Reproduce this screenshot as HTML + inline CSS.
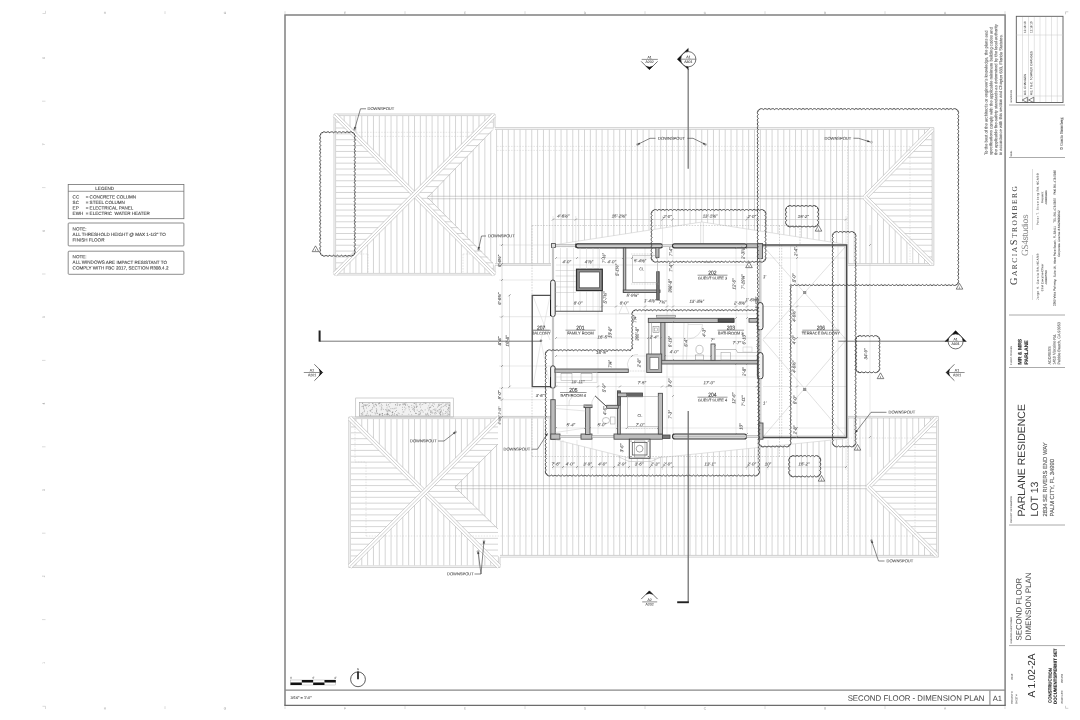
<!DOCTYPE html>
<html><head><meta charset="utf-8"><title>A 1.02-2A Second Floor Dimension Plan</title>
<style>html,body{margin:0;padding:0;background:#fff;}body{width:1080px;height:720px;overflow:hidden;font-family:"Liberation Sans",sans-serif;}svg{display:block;will-change:transform}</style>
</head><body>
<svg width="1080" height="720" viewBox="0 0 1080 720" font-family="Liberation Sans, sans-serif" text-rendering="geometricPrecision">
<rect width="1080" height="720" fill="#fff"/>
<g>
<line x1="165.00" y1="11.20" x2="165.00" y2="14.00" stroke="#c2c2c2" stroke-width="0.6" />
<line x1="165.00" y1="706.20" x2="165.00" y2="709.00" stroke="#c2c2c2" stroke-width="0.6" />
<line x1="285.00" y1="11.20" x2="285.00" y2="14.00" stroke="#c2c2c2" stroke-width="0.6" />
<line x1="285.00" y1="706.20" x2="285.00" y2="709.00" stroke="#c2c2c2" stroke-width="0.6" />
<line x1="405.00" y1="11.20" x2="405.00" y2="14.00" stroke="#c2c2c2" stroke-width="0.6" />
<line x1="405.00" y1="706.20" x2="405.00" y2="709.00" stroke="#c2c2c2" stroke-width="0.6" />
<line x1="525.00" y1="11.20" x2="525.00" y2="14.00" stroke="#c2c2c2" stroke-width="0.6" />
<line x1="525.00" y1="706.20" x2="525.00" y2="709.00" stroke="#c2c2c2" stroke-width="0.6" />
<line x1="645.00" y1="11.20" x2="645.00" y2="14.00" stroke="#c2c2c2" stroke-width="0.6" />
<line x1="645.00" y1="706.20" x2="645.00" y2="709.00" stroke="#c2c2c2" stroke-width="0.6" />
<line x1="765.00" y1="11.20" x2="765.00" y2="14.00" stroke="#c2c2c2" stroke-width="0.6" />
<line x1="765.00" y1="706.20" x2="765.00" y2="709.00" stroke="#c2c2c2" stroke-width="0.6" />
<line x1="885.00" y1="11.20" x2="885.00" y2="14.00" stroke="#c2c2c2" stroke-width="0.6" />
<line x1="885.00" y1="706.20" x2="885.00" y2="709.00" stroke="#c2c2c2" stroke-width="0.6" />
<line x1="1005.00" y1="11.20" x2="1005.00" y2="14.00" stroke="#c2c2c2" stroke-width="0.6" />
<line x1="1005.00" y1="706.20" x2="1005.00" y2="709.00" stroke="#c2c2c2" stroke-width="0.6" />
<text x="105.00" y="14.00" font-size="3.2" text-anchor="middle" fill="#b0b0b0" stroke="#b0b0b0" stroke-width="0.077" transform="rotate(0.06 105.00 14.00)" >H</text>
<text x="105.00" y="709.60" font-size="3.2" text-anchor="middle" fill="#b0b0b0" stroke="#b0b0b0" stroke-width="0.077" transform="rotate(0.06 105.00 709.60)" >H</text>
<text x="225.00" y="14.00" font-size="3.2" text-anchor="middle" fill="#b0b0b0" stroke="#b0b0b0" stroke-width="0.077" transform="rotate(0.06 225.00 14.00)" >G</text>
<text x="225.00" y="709.60" font-size="3.2" text-anchor="middle" fill="#b0b0b0" stroke="#b0b0b0" stroke-width="0.077" transform="rotate(0.06 225.00 709.60)" >G</text>
<text x="345.00" y="14.00" font-size="3.2" text-anchor="middle" fill="#b0b0b0" stroke="#b0b0b0" stroke-width="0.077" transform="rotate(0.06 345.00 14.00)" >F</text>
<text x="345.00" y="709.60" font-size="3.2" text-anchor="middle" fill="#b0b0b0" stroke="#b0b0b0" stroke-width="0.077" transform="rotate(0.06 345.00 709.60)" >F</text>
<text x="465.00" y="14.00" font-size="3.2" text-anchor="middle" fill="#b0b0b0" stroke="#b0b0b0" stroke-width="0.077" transform="rotate(0.06 465.00 14.00)" >E</text>
<text x="465.00" y="709.60" font-size="3.2" text-anchor="middle" fill="#b0b0b0" stroke="#b0b0b0" stroke-width="0.077" transform="rotate(0.06 465.00 709.60)" >E</text>
<text x="585.00" y="14.00" font-size="3.2" text-anchor="middle" fill="#b0b0b0" stroke="#b0b0b0" stroke-width="0.077" transform="rotate(0.06 585.00 14.00)" >D</text>
<text x="585.00" y="709.60" font-size="3.2" text-anchor="middle" fill="#b0b0b0" stroke="#b0b0b0" stroke-width="0.077" transform="rotate(0.06 585.00 709.60)" >D</text>
<text x="705.00" y="14.00" font-size="3.2" text-anchor="middle" fill="#b0b0b0" stroke="#b0b0b0" stroke-width="0.077" transform="rotate(0.06 705.00 14.00)" >C</text>
<text x="705.00" y="709.60" font-size="3.2" text-anchor="middle" fill="#b0b0b0" stroke="#b0b0b0" stroke-width="0.077" transform="rotate(0.06 705.00 709.60)" >C</text>
<text x="825.00" y="14.00" font-size="3.2" text-anchor="middle" fill="#b0b0b0" stroke="#b0b0b0" stroke-width="0.077" transform="rotate(0.06 825.00 14.00)" >B</text>
<text x="825.00" y="709.60" font-size="3.2" text-anchor="middle" fill="#b0b0b0" stroke="#b0b0b0" stroke-width="0.077" transform="rotate(0.06 825.00 709.60)" >B</text>
<text x="945.00" y="14.00" font-size="3.2" text-anchor="middle" fill="#b0b0b0" stroke="#b0b0b0" stroke-width="0.077" transform="rotate(0.06 945.00 14.00)" >A</text>
<text x="945.00" y="709.60" font-size="3.2" text-anchor="middle" fill="#b0b0b0" stroke="#b0b0b0" stroke-width="0.077" transform="rotate(0.06 945.00 709.60)" >A</text>
<line x1="42.00" y1="101.20" x2="45.50" y2="101.20" stroke="#c2c2c2" stroke-width="0.6" />
<line x1="42.00" y1="187.60" x2="45.50" y2="187.60" stroke="#c2c2c2" stroke-width="0.6" />
<line x1="42.00" y1="274.00" x2="45.50" y2="274.00" stroke="#c2c2c2" stroke-width="0.6" />
<line x1="42.00" y1="360.40" x2="45.50" y2="360.40" stroke="#c2c2c2" stroke-width="0.6" />
<line x1="42.00" y1="446.80" x2="45.50" y2="446.80" stroke="#c2c2c2" stroke-width="0.6" />
<line x1="42.00" y1="533.20" x2="45.50" y2="533.20" stroke="#c2c2c2" stroke-width="0.6" />
<line x1="42.00" y1="619.60" x2="45.50" y2="619.60" stroke="#c2c2c2" stroke-width="0.6" />
<text x="44.80" y="58.00" font-size="3.2" text-anchor="middle" fill="#b0b0b0" stroke="#b0b0b0" stroke-width="0.077" transform="rotate(-89.94 44.80 58.00)" >8</text>
<text x="44.80" y="144.40" font-size="3.2" text-anchor="middle" fill="#b0b0b0" stroke="#b0b0b0" stroke-width="0.077" transform="rotate(-89.94 44.80 144.40)" >7</text>
<text x="44.80" y="230.80" font-size="3.2" text-anchor="middle" fill="#b0b0b0" stroke="#b0b0b0" stroke-width="0.077" transform="rotate(-89.94 44.80 230.80)" >6</text>
<text x="44.80" y="317.20" font-size="3.2" text-anchor="middle" fill="#b0b0b0" stroke="#b0b0b0" stroke-width="0.077" transform="rotate(-89.94 44.80 317.20)" >5</text>
<text x="44.80" y="403.60" font-size="3.2" text-anchor="middle" fill="#b0b0b0" stroke="#b0b0b0" stroke-width="0.077" transform="rotate(-89.94 44.80 403.60)" >4</text>
<text x="44.80" y="490.00" font-size="3.2" text-anchor="middle" fill="#b0b0b0" stroke="#b0b0b0" stroke-width="0.077" transform="rotate(-89.94 44.80 490.00)" >3</text>
<text x="44.80" y="576.40" font-size="3.2" text-anchor="middle" fill="#b0b0b0" stroke="#b0b0b0" stroke-width="0.077" transform="rotate(-89.94 44.80 576.40)" >2</text>
<text x="44.80" y="662.80" font-size="3.2" text-anchor="middle" fill="#b0b0b0" stroke="#b0b0b0" stroke-width="0.077" transform="rotate(-89.94 44.80 662.80)" >1</text>
<path d="M42.50,13.50 L45.50,13.50 L45.50,10.80" fill="none" stroke="#c2c2c2" stroke-width="0.6" />
<path d="M42.50,706.30 L45.50,706.30 L45.50,709.00" fill="none" stroke="#c2c2c2" stroke-width="0.6" />
<path d="M1068.30,11.80 L1065.50,11.80 L1065.50,14.30" fill="none" stroke="#b0b0b0" stroke-width="0.6" />
<path d="M1068.30,708.30 L1065.50,708.30 L1065.50,705.80" fill="none" stroke="#b0b0b0" stroke-width="0.6" />
<clipPath id="c1"><path d="M336.00,116.00 L493.00,116.00 L414.50,196.30 Z"/></clipPath>
<path clip-path="url(#c1)" d="M338.30,116.00V196.30M344.17,116.00V196.30M350.03,116.00V196.30M355.89,116.00V196.30M361.75,116.00V196.30M367.61,116.00V196.30M373.48,116.00V196.30M379.34,116.00V196.30M385.20,116.00V196.30M391.06,116.00V196.30M396.92,116.00V196.30M402.79,116.00V196.30M408.65,116.00V196.30M414.51,116.00V196.30M420.37,116.00V196.30M426.23,116.00V196.30M432.10,116.00V196.30M437.96,116.00V196.30M443.82,116.00V196.30M449.68,116.00V196.30M455.54,116.00V196.30M461.41,116.00V196.30M467.27,116.00V196.30M473.13,116.00V196.30M478.99,116.00V196.30M484.85,116.00V196.30M490.72,116.00V196.30" stroke="#adadad" stroke-width="0.52" fill="none"/>
<clipPath id="c2"><path d="M336.00,273.00 L493.00,273.00 L414.50,196.30 Z"/></clipPath>
<path clip-path="url(#c2)" d="M338.30,196.30V273.00M344.17,196.30V273.00M350.03,196.30V273.00M355.89,196.30V273.00M361.75,196.30V273.00M367.61,196.30V273.00M373.48,196.30V273.00M379.34,196.30V273.00M385.20,196.30V273.00M391.06,196.30V273.00M396.92,196.30V273.00M402.79,196.30V273.00M408.65,196.30V273.00M414.51,196.30V273.00M420.37,196.30V273.00M426.23,196.30V273.00M432.10,196.30V273.00M437.96,196.30V273.00M443.82,196.30V273.00M449.68,196.30V273.00M455.54,196.30V273.00M461.41,196.30V273.00M467.27,196.30V273.00M473.13,196.30V273.00M478.99,196.30V273.00M484.85,196.30V273.00M490.72,196.30V273.00" stroke="#adadad" stroke-width="0.52" fill="none"/>
<clipPath id="c3"><path d="M336.00,116.00 L336.00,273.00 L414.50,196.30 Z"/></clipPath>
<path clip-path="url(#c3)" d="M336.00,116.27H414.50M336.00,122.13H414.50M336.00,127.99H414.50M336.00,133.85H414.50M336.00,139.72H414.50M336.00,145.58H414.50M336.00,151.44H414.50M336.00,157.30H414.50M336.00,163.16H414.50M336.00,169.03H414.50M336.00,174.89H414.50M336.00,180.75H414.50M336.00,186.61H414.50M336.00,192.47H414.50M336.00,198.34H414.50M336.00,204.20H414.50M336.00,210.06H414.50M336.00,215.92H414.50M336.00,221.78H414.50M336.00,227.65H414.50M336.00,233.51H414.50M336.00,239.37H414.50M336.00,245.23H414.50M336.00,251.09H414.50M336.00,256.96H414.50M336.00,262.82H414.50M336.00,268.68H414.50" stroke="#adadad" stroke-width="0.52" fill="none"/>
<clipPath id="c4"><path d="M414.50,196.30 L493.00,116.00 L493.00,130.00 L427.50,197.50 L493.00,262.00 L493.00,273.00 Z"/></clipPath>
<path clip-path="url(#c4)" d="M414.50,116.27H493.00M414.50,122.13H493.00M414.50,127.99H493.00M414.50,133.85H493.00M414.50,139.72H493.00M414.50,145.58H493.00M414.50,151.44H493.00M414.50,157.30H493.00M414.50,163.16H493.00M414.50,169.03H493.00M414.50,174.89H493.00M414.50,180.75H493.00M414.50,186.61H493.00M414.50,192.47H493.00M414.50,198.34H493.00M414.50,204.20H493.00M414.50,210.06H493.00M414.50,215.92H493.00M414.50,221.78H493.00M414.50,227.65H493.00M414.50,233.51H493.00M414.50,239.37H493.00M414.50,245.23H493.00M414.50,251.09H493.00M414.50,256.96H493.00M414.50,262.82H493.00M414.50,268.68H493.00" stroke="#adadad" stroke-width="0.52" fill="none"/>
<clipPath id="c5"><path d="M493.00,129.50 L932.00,129.50 L865.00,197.50 L427.50,197.50 Z"/></clipPath>
<path clip-path="url(#c5)" d="M432.10,129.50V197.50M437.96,129.50V197.50M443.82,129.50V197.50M449.68,129.50V197.50M455.54,129.50V197.50M461.41,129.50V197.50M467.27,129.50V197.50M473.13,129.50V197.50M478.99,129.50V197.50M484.85,129.50V197.50M490.72,129.50V197.50M496.58,129.50V197.50M502.44,129.50V197.50M508.30,129.50V197.50M514.16,129.50V197.50M520.03,129.50V197.50M525.89,129.50V197.50M531.75,129.50V197.50M537.61,129.50V197.50M543.47,129.50V197.50M549.34,129.50V197.50M555.20,129.50V197.50M561.06,129.50V197.50M566.92,129.50V197.50M572.78,129.50V197.50M578.65,129.50V197.50M584.51,129.50V197.50M590.37,129.50V197.50M596.23,129.50V197.50M602.09,129.50V197.50M607.96,129.50V197.50M613.82,129.50V197.50M619.68,129.50V197.50M625.54,129.50V197.50M631.40,129.50V197.50M637.27,129.50V197.50M643.13,129.50V197.50M648.99,129.50V197.50M654.85,129.50V197.50M660.71,129.50V197.50M666.58,129.50V197.50M672.44,129.50V197.50M678.30,129.50V197.50M684.16,129.50V197.50M690.02,129.50V197.50M695.89,129.50V197.50M701.75,129.50V197.50M707.61,129.50V197.50M713.47,129.50V197.50M719.33,129.50V197.50M725.20,129.50V197.50M731.06,129.50V197.50M736.92,129.50V197.50M742.78,129.50V197.50M748.64,129.50V197.50M754.51,129.50V197.50M760.37,129.50V197.50M766.23,129.50V197.50M772.09,129.50V197.50M777.95,129.50V197.50M783.82,129.50V197.50M789.68,129.50V197.50M795.54,129.50V197.50M801.40,129.50V197.50M807.26,129.50V197.50M813.13,129.50V197.50M818.99,129.50V197.50M824.85,129.50V197.50M830.71,129.50V197.50M836.57,129.50V197.50M842.44,129.50V197.50M848.30,129.50V197.50M854.16,129.50V197.50M860.02,129.50V197.50M865.88,129.50V197.50M871.75,129.50V197.50M877.61,129.50V197.50M883.47,129.50V197.50M889.33,129.50V197.50M895.19,129.50V197.50M901.06,129.50V197.50M906.92,129.50V197.50M912.78,129.50V197.50M918.64,129.50V197.50M924.50,129.50V197.50M930.37,129.50V197.50" stroke="#adadad" stroke-width="0.52" fill="none"/>
<clipPath id="c6"><path d="M427.50,197.50 L865.00,197.50 L932.00,263.50 L848.00,263.50 L848.00,244.50 L846.70,244.50 L702.00,222.00 L553.00,245.00 L551.00,245.00 L551.00,263.50 L493.00,263.50 Z"/></clipPath>
<path clip-path="url(#c6)" d="M432.10,197.50V263.50M437.96,197.50V263.50M443.82,197.50V263.50M449.68,197.50V263.50M455.54,197.50V263.50M461.41,197.50V263.50M467.27,197.50V263.50M473.13,197.50V263.50M478.99,197.50V263.50M484.85,197.50V263.50M490.72,197.50V263.50M496.58,197.50V263.50M502.44,197.50V263.50M508.30,197.50V263.50M514.16,197.50V263.50M520.03,197.50V263.50M525.89,197.50V263.50M531.75,197.50V263.50M537.61,197.50V263.50M543.47,197.50V263.50M549.34,197.50V263.50M555.20,197.50V263.50M561.06,197.50V263.50M566.92,197.50V263.50M572.78,197.50V263.50M578.65,197.50V263.50M584.51,197.50V263.50M590.37,197.50V263.50M596.23,197.50V263.50M602.09,197.50V263.50M607.96,197.50V263.50M613.82,197.50V263.50M619.68,197.50V263.50M625.54,197.50V263.50M631.40,197.50V263.50M637.27,197.50V263.50M643.13,197.50V263.50M648.99,197.50V263.50M654.85,197.50V263.50M660.71,197.50V263.50M666.58,197.50V263.50M672.44,197.50V263.50M678.30,197.50V263.50M684.16,197.50V263.50M690.02,197.50V263.50M695.89,197.50V263.50M701.75,197.50V263.50M707.61,197.50V263.50M713.47,197.50V263.50M719.33,197.50V263.50M725.20,197.50V263.50M731.06,197.50V263.50M736.92,197.50V263.50M742.78,197.50V263.50M748.64,197.50V263.50M754.51,197.50V263.50M760.37,197.50V263.50M766.23,197.50V263.50M772.09,197.50V263.50M777.95,197.50V263.50M783.82,197.50V263.50M789.68,197.50V263.50M795.54,197.50V263.50M801.40,197.50V263.50M807.26,197.50V263.50M813.13,197.50V263.50M818.99,197.50V263.50M824.85,197.50V263.50M830.71,197.50V263.50M836.57,197.50V263.50M842.44,197.50V263.50M848.30,197.50V263.50M854.16,197.50V263.50M860.02,197.50V263.50M865.88,197.50V263.50M871.75,197.50V263.50M877.61,197.50V263.50M883.47,197.50V263.50M889.33,197.50V263.50M895.19,197.50V263.50M901.06,197.50V263.50M906.92,197.50V263.50M912.78,197.50V263.50M918.64,197.50V263.50M924.50,197.50V263.50M930.37,197.50V263.50" stroke="#adadad" stroke-width="0.52" fill="none"/>
<clipPath id="c7"><path d="M865.00,197.50 L932.00,129.50 L932.00,263.50 Z"/></clipPath>
<path clip-path="url(#c7)" d="M865.00,133.85H932.00M865.00,139.72H932.00M865.00,145.58H932.00M865.00,151.44H932.00M865.00,157.30H932.00M865.00,163.16H932.00M865.00,169.03H932.00M865.00,174.89H932.00M865.00,180.75H932.00M865.00,186.61H932.00M865.00,192.47H932.00M865.00,198.34H932.00M865.00,204.20H932.00M865.00,210.06H932.00M865.00,215.92H932.00M865.00,221.78H932.00M865.00,227.65H932.00M865.00,233.51H932.00M865.00,239.37H932.00M865.00,245.23H932.00M865.00,251.09H932.00M865.00,256.96H932.00M865.00,262.82H932.00" stroke="#adadad" stroke-width="0.52" fill="none"/>
<path d="M495.00,127.50 L495.00,114.00 L334.00,114.00 L334.00,275.00 L495.00,275.00 L495.00,265.50" fill="none" stroke="#adadad" stroke-width="0.56" />
<path d="M335.60,115.60 L493.40,115.60 L493.40,128.50" fill="none" stroke="#adadad" stroke-width="0.5" />
<path d="M493.40,264.50 L493.40,273.40 L335.60,273.40 L335.60,115.60" fill="none" stroke="#adadad" stroke-width="0.5" />
<line x1="335.00" y1="115.00" x2="494.00" y2="274.00" stroke="#fff" stroke-width="4.8" />
<line x1="333.30" y1="116.70" x2="492.30" y2="275.70" stroke="#adadad" stroke-width="0.56" />
<line x1="336.70" y1="113.30" x2="495.70" y2="272.30" stroke="#adadad" stroke-width="0.56" />
<line x1="335.00" y1="115.00" x2="494.00" y2="274.00" stroke="#adadad" stroke-width="0.56" />
<line x1="335.00" y1="274.00" x2="494.00" y2="115.00" stroke="#fff" stroke-width="4.8" />
<line x1="336.70" y1="275.70" x2="495.70" y2="116.70" stroke="#adadad" stroke-width="0.56" />
<line x1="333.30" y1="272.30" x2="492.30" y2="113.30" stroke="#adadad" stroke-width="0.56" />
<line x1="335.00" y1="274.00" x2="494.00" y2="115.00" stroke="#adadad" stroke-width="0.56" />
<line x1="493.00" y1="129.50" x2="427.50" y2="197.50" stroke="#adadad" stroke-width="0.56" />
<line x1="493.00" y1="263.50" x2="427.50" y2="197.50" stroke="#adadad" stroke-width="0.56" />
<line x1="495.00" y1="127.65" x2="933.85" y2="127.65" stroke="#adadad" stroke-width="0.56" />
<line x1="495.00" y1="129.35" x2="932.15" y2="129.35" stroke="#adadad" stroke-width="0.56" />
<line x1="933.85" y1="127.65" x2="933.85" y2="265.35" stroke="#adadad" stroke-width="0.56" />
<line x1="932.15" y1="129.35" x2="932.15" y2="263.65" stroke="#adadad" stroke-width="0.56" />
<line x1="848.00" y1="265.35" x2="933.85" y2="265.35" stroke="#adadad" stroke-width="0.56" />
<line x1="848.00" y1="263.65" x2="932.15" y2="263.65" stroke="#adadad" stroke-width="0.56" />
<line x1="495.00" y1="265.35" x2="551.00" y2="265.35" stroke="#adadad" stroke-width="0.56" />
<line x1="495.00" y1="263.65" x2="551.00" y2="263.65" stroke="#adadad" stroke-width="0.56" />
<line x1="427.50" y1="198.75" x2="865.00" y2="198.75" stroke="#adadad" stroke-width="0.56" />
<line x1="427.50" y1="196.25" x2="865.00" y2="196.25" stroke="#adadad" stroke-width="0.56" />
<line x1="865.00" y1="197.50" x2="932.00" y2="129.50" stroke="#fff" stroke-width="4.8" />
<line x1="866.71" y1="199.18" x2="933.71" y2="131.18" stroke="#adadad" stroke-width="0.56" />
<line x1="863.29" y1="195.82" x2="930.29" y2="127.82" stroke="#adadad" stroke-width="0.56" />
<line x1="865.00" y1="197.50" x2="932.00" y2="129.50" stroke="#adadad" stroke-width="0.56" />
<line x1="865.00" y1="197.50" x2="932.00" y2="263.50" stroke="#fff" stroke-width="4.8" />
<line x1="863.32" y1="199.21" x2="930.32" y2="265.21" stroke="#adadad" stroke-width="0.56" />
<line x1="866.68" y1="195.79" x2="933.68" y2="261.79" stroke="#adadad" stroke-width="0.56" />
<line x1="865.00" y1="197.50" x2="932.00" y2="263.50" stroke="#adadad" stroke-width="0.56" />
<clipPath id="c8"><path d="M350.75,419.00 L498.00,419.00 L424.00,492.00 Z"/></clipPath>
<path clip-path="url(#c8)" d="M355.89,419.00V492.00M361.75,419.00V492.00M367.61,419.00V492.00M373.48,419.00V492.00M379.34,419.00V492.00M385.20,419.00V492.00M391.06,419.00V492.00M396.92,419.00V492.00M402.79,419.00V492.00M408.65,419.00V492.00M414.51,419.00V492.00M420.37,419.00V492.00M426.23,419.00V492.00M432.10,419.00V492.00M437.96,419.00V492.00M443.82,419.00V492.00M449.68,419.00V492.00M455.54,419.00V492.00M461.41,419.00V492.00M467.27,419.00V492.00M473.13,419.00V492.00M478.99,419.00V492.00M484.85,419.00V492.00M490.72,419.00V492.00M496.58,419.00V492.00" stroke="#adadad" stroke-width="0.52" fill="none"/>
<clipPath id="c9"><path d="M350.75,565.50 L498.00,565.50 L424.00,492.00 Z"/></clipPath>
<path clip-path="url(#c9)" d="M355.89,492.00V565.50M361.75,492.00V565.50M367.61,492.00V565.50M373.48,492.00V565.50M379.34,492.00V565.50M385.20,492.00V565.50M391.06,492.00V565.50M396.92,492.00V565.50M402.79,492.00V565.50M408.65,492.00V565.50M414.51,492.00V565.50M420.37,492.00V565.50M426.23,492.00V565.50M432.10,492.00V565.50M437.96,492.00V565.50M443.82,492.00V565.50M449.68,492.00V565.50M455.54,492.00V565.50M461.41,492.00V565.50M467.27,492.00V565.50M473.13,492.00V565.50M478.99,492.00V565.50M484.85,492.00V565.50M490.72,492.00V565.50M496.58,492.00V565.50" stroke="#adadad" stroke-width="0.52" fill="none"/>
<clipPath id="c10"><path d="M350.75,419.00 L350.75,565.50 L424.00,492.00 Z"/></clipPath>
<path clip-path="url(#c10)" d="M350.75,421.09H424.00M350.75,426.95H424.00M350.75,432.82H424.00M350.75,438.68H424.00M350.75,444.54H424.00M350.75,450.40H424.00M350.75,456.26H424.00M350.75,462.13H424.00M350.75,467.99H424.00M350.75,473.85H424.00M350.75,479.71H424.00M350.75,485.57H424.00M350.75,491.44H424.00M350.75,497.30H424.00M350.75,503.16H424.00M350.75,509.02H424.00M350.75,514.88H424.00M350.75,520.75H424.00M350.75,526.61H424.00M350.75,532.47H424.00M350.75,538.33H424.00M350.75,544.19H424.00M350.75,550.06H424.00M350.75,555.92H424.00M350.75,561.78H424.00" stroke="#adadad" stroke-width="0.52" fill="none"/>
<clipPath id="c11"><path d="M424.00,492.00 L498.00,419.00 L498.00,444.00 L455.00,487.20 L498.00,529.00 L498.00,565.50 Z"/></clipPath>
<path clip-path="url(#c11)" d="M424.00,421.09H498.00M424.00,426.95H498.00M424.00,432.82H498.00M424.00,438.68H498.00M424.00,444.54H498.00M424.00,450.40H498.00M424.00,456.26H498.00M424.00,462.13H498.00M424.00,467.99H498.00M424.00,473.85H498.00M424.00,479.71H498.00M424.00,485.57H498.00M424.00,491.44H498.00M424.00,497.30H498.00M424.00,503.16H498.00M424.00,509.02H498.00M424.00,514.88H498.00M424.00,520.75H498.00M424.00,526.61H498.00M424.00,532.47H498.00M424.00,538.33H498.00M424.00,544.19H498.00M424.00,550.06H498.00M424.00,555.92H498.00M424.00,561.78H498.00" stroke="#adadad" stroke-width="0.52" fill="none"/>
<clipPath id="c12"><path d="M498.00,418.50 L551.00,418.50 L551.00,439.00 L553.00,439.00 L629.00,458.00 L651.00,458.50 L846.70,438.50 L848.00,438.50 L848.00,418.00 L936.50,418.00 L868.00,487.20 L455.00,487.20 L498.00,444.00 Z"/></clipPath>
<path clip-path="url(#c12)" d="M455.54,418.00V487.20M461.41,418.00V487.20M467.27,418.00V487.20M473.13,418.00V487.20M478.99,418.00V487.20M484.85,418.00V487.20M490.72,418.00V487.20M496.58,418.00V487.20M502.44,418.00V487.20M508.30,418.00V487.20M514.16,418.00V487.20M520.03,418.00V487.20M525.89,418.00V487.20M531.75,418.00V487.20M537.61,418.00V487.20M543.47,418.00V487.20M549.34,418.00V487.20M555.20,418.00V487.20M561.06,418.00V487.20M566.92,418.00V487.20M572.78,418.00V487.20M578.65,418.00V487.20M584.51,418.00V487.20M590.37,418.00V487.20M596.23,418.00V487.20M602.09,418.00V487.20M607.96,418.00V487.20M613.82,418.00V487.20M619.68,418.00V487.20M625.54,418.00V487.20M631.40,418.00V487.20M637.27,418.00V487.20M643.13,418.00V487.20M648.99,418.00V487.20M654.85,418.00V487.20M660.71,418.00V487.20M666.58,418.00V487.20M672.44,418.00V487.20M678.30,418.00V487.20M684.16,418.00V487.20M690.02,418.00V487.20M695.89,418.00V487.20M701.75,418.00V487.20M707.61,418.00V487.20M713.47,418.00V487.20M719.33,418.00V487.20M725.20,418.00V487.20M731.06,418.00V487.20M736.92,418.00V487.20M742.78,418.00V487.20M748.64,418.00V487.20M754.51,418.00V487.20M760.37,418.00V487.20M766.23,418.00V487.20M772.09,418.00V487.20M777.95,418.00V487.20M783.82,418.00V487.20M789.68,418.00V487.20M795.54,418.00V487.20M801.40,418.00V487.20M807.26,418.00V487.20M813.13,418.00V487.20M818.99,418.00V487.20M824.85,418.00V487.20M830.71,418.00V487.20M836.57,418.00V487.20M842.44,418.00V487.20M848.30,418.00V487.20M854.16,418.00V487.20M860.02,418.00V487.20M865.88,418.00V487.20M871.75,418.00V487.20M877.61,418.00V487.20M883.47,418.00V487.20M889.33,418.00V487.20M895.19,418.00V487.20M901.06,418.00V487.20M906.92,418.00V487.20M912.78,418.00V487.20M918.64,418.00V487.20M924.50,418.00V487.20M930.37,418.00V487.20M936.23,418.00V487.20" stroke="#adadad" stroke-width="0.52" fill="none"/>
<clipPath id="c13"><path d="M455.00,487.20 L868.00,487.20 L936.50,555.25 L498.00,555.25 L498.00,529.00 Z"/></clipPath>
<path clip-path="url(#c13)" d="M455.54,487.20V555.25M461.41,487.20V555.25M467.27,487.20V555.25M473.13,487.20V555.25M478.99,487.20V555.25M484.85,487.20V555.25M490.72,487.20V555.25M496.58,487.20V555.25M502.44,487.20V555.25M508.30,487.20V555.25M514.16,487.20V555.25M520.03,487.20V555.25M525.89,487.20V555.25M531.75,487.20V555.25M537.61,487.20V555.25M543.47,487.20V555.25M549.34,487.20V555.25M555.20,487.20V555.25M561.06,487.20V555.25M566.92,487.20V555.25M572.78,487.20V555.25M578.65,487.20V555.25M584.51,487.20V555.25M590.37,487.20V555.25M596.23,487.20V555.25M602.09,487.20V555.25M607.96,487.20V555.25M613.82,487.20V555.25M619.68,487.20V555.25M625.54,487.20V555.25M631.40,487.20V555.25M637.27,487.20V555.25M643.13,487.20V555.25M648.99,487.20V555.25M654.85,487.20V555.25M660.71,487.20V555.25M666.58,487.20V555.25M672.44,487.20V555.25M678.30,487.20V555.25M684.16,487.20V555.25M690.02,487.20V555.25M695.89,487.20V555.25M701.75,487.20V555.25M707.61,487.20V555.25M713.47,487.20V555.25M719.33,487.20V555.25M725.20,487.20V555.25M731.06,487.20V555.25M736.92,487.20V555.25M742.78,487.20V555.25M748.64,487.20V555.25M754.51,487.20V555.25M760.37,487.20V555.25M766.23,487.20V555.25M772.09,487.20V555.25M777.95,487.20V555.25M783.82,487.20V555.25M789.68,487.20V555.25M795.54,487.20V555.25M801.40,487.20V555.25M807.26,487.20V555.25M813.13,487.20V555.25M818.99,487.20V555.25M824.85,487.20V555.25M830.71,487.20V555.25M836.57,487.20V555.25M842.44,487.20V555.25M848.30,487.20V555.25M854.16,487.20V555.25M860.02,487.20V555.25M865.88,487.20V555.25M871.75,487.20V555.25M877.61,487.20V555.25M883.47,487.20V555.25M889.33,487.20V555.25M895.19,487.20V555.25M901.06,487.20V555.25M906.92,487.20V555.25M912.78,487.20V555.25M918.64,487.20V555.25M924.50,487.20V555.25M930.37,487.20V555.25M936.23,487.20V555.25" stroke="#adadad" stroke-width="0.52" fill="none"/>
<clipPath id="c14"><path d="M868.00,487.20 L936.50,418.00 L936.50,555.25 Z"/></clipPath>
<path clip-path="url(#c14)" d="M868.00,421.09H936.50M868.00,426.95H936.50M868.00,432.82H936.50M868.00,438.68H936.50M868.00,444.54H936.50M868.00,450.40H936.50M868.00,456.26H936.50M868.00,462.13H936.50M868.00,467.99H936.50M868.00,473.85H936.50M868.00,479.71H936.50M868.00,485.57H936.50M868.00,491.44H936.50M868.00,497.30H936.50M868.00,503.16H936.50M868.00,509.02H936.50M868.00,514.88H936.50M868.00,520.75H936.50M868.00,526.61H936.50M868.00,532.47H936.50M868.00,538.33H936.50M868.00,544.19H936.50M868.00,550.06H936.50" stroke="#adadad" stroke-width="0.52" fill="none"/>
<path d="M500.00,557.25 L500.00,567.50 L348.75,567.50 L348.75,417.00 L500.00,417.00" fill="none" stroke="#adadad" stroke-width="0.56" />
<path d="M498.40,556.25 L498.40,565.90 L350.35,565.90 L350.35,418.60 L498.40,418.60" fill="none" stroke="#adadad" stroke-width="0.5" />
<line x1="349.75" y1="418.00" x2="499.00" y2="566.50" stroke="#fff" stroke-width="4.8" />
<line x1="348.06" y1="419.70" x2="497.31" y2="568.20" stroke="#adadad" stroke-width="0.56" />
<line x1="351.44" y1="416.30" x2="500.69" y2="564.80" stroke="#adadad" stroke-width="0.56" />
<line x1="349.75" y1="418.00" x2="499.00" y2="566.50" stroke="#adadad" stroke-width="0.56" />
<line x1="349.75" y1="566.50" x2="499.00" y2="418.00" stroke="#fff" stroke-width="4.8" />
<line x1="351.44" y1="568.20" x2="500.69" y2="419.70" stroke="#adadad" stroke-width="0.56" />
<line x1="348.06" y1="564.80" x2="497.31" y2="416.30" stroke="#adadad" stroke-width="0.56" />
<line x1="349.75" y1="566.50" x2="499.00" y2="418.00" stroke="#adadad" stroke-width="0.56" />
<line x1="498.00" y1="444.00" x2="455.00" y2="487.20" stroke="#adadad" stroke-width="0.56" />
<line x1="498.00" y1="529.00" x2="455.00" y2="487.20" stroke="#adadad" stroke-width="0.56" />
<line x1="500.00" y1="416.40" x2="551.00" y2="416.40" stroke="#adadad" stroke-width="0.56" />
<line x1="500.00" y1="417.90" x2="551.00" y2="417.90" stroke="#adadad" stroke-width="0.56" />
<line x1="848.00" y1="416.40" x2="938.35" y2="416.40" stroke="#adadad" stroke-width="0.56" />
<line x1="848.00" y1="417.90" x2="936.65" y2="417.90" stroke="#adadad" stroke-width="0.56" />
<line x1="938.35" y1="416.40" x2="938.35" y2="557.10" stroke="#adadad" stroke-width="0.56" />
<line x1="936.65" y1="417.90" x2="936.65" y2="555.40" stroke="#adadad" stroke-width="0.56" />
<line x1="500.00" y1="557.10" x2="938.35" y2="557.10" stroke="#adadad" stroke-width="0.56" />
<line x1="500.00" y1="555.40" x2="936.65" y2="555.40" stroke="#adadad" stroke-width="0.56" />
<line x1="455.00" y1="488.70" x2="868.00" y2="488.70" stroke="#adadad" stroke-width="0.56" />
<line x1="455.00" y1="485.70" x2="868.00" y2="485.70" stroke="#adadad" stroke-width="0.56" />
<line x1="868.00" y1="487.20" x2="936.50" y2="418.00" stroke="#fff" stroke-width="4.8" />
<line x1="869.71" y1="488.89" x2="938.21" y2="419.69" stroke="#adadad" stroke-width="0.56" />
<line x1="866.29" y1="485.51" x2="934.79" y2="416.31" stroke="#adadad" stroke-width="0.56" />
<line x1="868.00" y1="487.20" x2="936.50" y2="418.00" stroke="#adadad" stroke-width="0.56" />
<line x1="868.00" y1="487.20" x2="936.50" y2="555.25" stroke="#fff" stroke-width="4.8" />
<line x1="866.31" y1="488.90" x2="934.81" y2="556.95" stroke="#adadad" stroke-width="0.56" />
<line x1="869.69" y1="485.50" x2="938.19" y2="553.55" stroke="#adadad" stroke-width="0.56" />
<line x1="868.00" y1="487.20" x2="936.50" y2="555.25" stroke="#adadad" stroke-width="0.56" />
<rect x="355.75" y="398.00" width="97.50" height="19.00" fill="none" stroke="#adadad" stroke-width="0.56" />
<rect x="359.50" y="402.50" width="90.50" height="13.50" fill="#f1f1f1" stroke="#999" stroke-width="0.55" />
<path d="M381.1,404.3h0.7M395.4,404.9h0.7M366.0,408.0h0.7M442.2,413.0h0.7M428.5,405.8h0.7M408.0,406.5h0.7M375.5,404.3h0.7M379.2,414.6h0.7M434.2,413.1h0.7M431.6,405.4h0.7M387.7,410.8h0.7M425.5,413.7h0.7M438.8,404.1h0.7M414.2,411.4h0.7M405.3,405.2h0.7M402.4,404.1h0.7M443.6,413.8h0.7M409.0,406.8h0.7M441.3,410.2h0.7M439.0,413.6h0.7M405.5,408.2h0.7M413.6,408.4h0.7M374.4,406.8h0.7M432.7,403.5h0.7M364.1,410.8h0.7M385.1,409.7h0.7M402.2,407.3h0.7M449.3,405.4h0.7M396.9,405.5h0.7M416.6,406.5h0.7M391.8,412.3h0.7M388.7,410.0h0.7M440.9,404.3h0.7M365.5,405.9h0.7M428.5,410.7h0.7M381.2,407.1h0.7M375.9,408.7h0.7M363.8,411.7h0.7M440.2,414.9h0.7M425.8,415.0h0.7M361.6,406.6h0.7M446.5,412.7h0.7M396.7,414.8h0.7M415.5,413.2h0.7M386.3,405.4h0.7M399.8,404.7h0.7M394.2,415.0h0.7M389.7,403.1h0.7M364.0,405.1h0.7M430.1,407.5h0.7M386.0,404.2h0.7M447.9,408.3h0.7M378.6,403.7h0.7M364.9,405.1h0.7M420.6,404.9h0.7M363.7,409.1h0.7M382.3,415.5h0.7M370.9,409.6h0.7M429.3,408.1h0.7M448.4,409.0h0.7M381.6,408.1h0.7M363.3,408.3h0.7M382.2,414.1h0.7M434.4,409.2h0.7M362.8,406.2h0.7M381.7,405.6h0.7M380.7,413.9h0.7M372.7,403.6h0.7M443.1,410.1h0.7M448.7,408.0h0.7M440.6,411.2h0.7M430.8,412.3h0.7M404.2,404.2h0.7M378.9,413.9h0.7M440.5,414.6h0.7M390.1,411.2h0.7M431.6,411.0h0.7M432.9,409.6h0.7M418.6,411.6h0.7M384.0,414.5h0.7M445.6,403.9h0.7M446.9,415.0h0.7M419.8,403.6h0.7M440.5,404.6h0.7M446.7,411.3h0.7M365.4,405.1h0.7M416.8,410.1h0.7M426.8,414.6h0.7M379.6,403.0h0.7M442.6,403.2h0.7M438.4,404.4h0.7M432.5,412.8h0.7M438.6,409.9h0.7M438.6,405.5h0.7M420.1,407.1h0.7M439.8,412.7h0.7M402.2,409.6h0.7M362.4,403.4h0.7M413.2,409.1h0.7M437.4,410.6h0.7M372.4,407.5h0.7M428.7,409.5h0.7M360.9,413.5h0.7M434.1,404.1h0.7M408.6,407.8h0.7M430.5,406.9h0.7M380.9,409.1h0.7M446.5,404.2h0.7M370.2,410.8h0.7M439.2,409.4h0.7M398.8,413.7h0.7M429.5,403.8h0.7M438.9,405.4h0.7M387.1,413.5h0.7M397.8,413.0h0.7M375.0,413.9h0.7M375.8,404.9h0.7M404.2,407.2h0.7M408.5,414.3h0.7M423.6,403.1h0.7M387.9,409.8h0.7M403.5,411.9h0.7M403.3,403.9h0.7M382.0,413.6h0.7M391.9,412.6h0.7M448.2,410.8h0.7M420.6,410.6h0.7M388.0,414.4h0.7M401.8,414.4h0.7M387.4,413.8h0.7M430.4,410.7h0.7M399.6,404.8h0.7M429.0,407.5h0.7M419.3,404.7h0.7M367.4,404.8h0.7M432.4,405.2h0.7M440.7,407.6h0.7M411.6,407.4h0.7M415.6,404.2h0.7M396.0,414.7h0.7M376.1,411.2h0.7M389.2,406.8h0.7M362.1,403.3h0.7M445.0,413.4h0.7M431.7,413.1h0.7M445.3,405.0h0.7M412.3,409.2h0.7M411.4,414.7h0.7M428.0,415.1h0.7M370.5,411.1h0.7M420.4,412.3h0.7M415.3,413.4h0.7M387.1,414.6h0.7M396.3,410.5h0.7M440.3,411.8h0.7M387.7,405.9h0.7M389.2,410.8h0.7M449.2,414.2h0.7M395.8,408.0h0.7M433.2,406.5h0.7M396.8,403.2h0.7M376.5,409.8h0.7M422.0,410.7h0.7M392.6,414.9h0.7M415.8,405.0h0.7M366.1,415.2h0.7M448.4,414.5h0.7M414.0,406.9h0.7M368.2,406.2h0.7M379.9,414.6h0.7M439.9,412.7h0.7M373.3,406.0h0.7M386.8,414.8h0.7M374.6,412.9h0.7M420.9,409.8h0.7M445.9,406.3h0.7M406.9,405.0h0.7M368.7,403.4h0.7M388.3,404.5h0.7M365.5,415.4h0.7M385.9,414.1h0.7M422.8,412.1h0.7M418.6,414.9h0.7M438.6,412.0h0.7M410.1,411.7h0.7M424.8,409.9h0.7M405.0,404.9h0.7M435.6,409.1h0.7M366.1,405.1h0.7M438.3,406.2h0.7M395.0,411.5h0.7M437.1,407.1h0.7M394.6,408.3h0.7M362.5,414.0h0.7M361.7,415.0h0.7M373.6,405.0h0.7M435.9,413.3h0.7M380.8,409.9h0.7M402.7,412.0h0.7M376.6,413.3h0.7M449.2,411.8h0.7M442.5,414.7h0.7M394.0,413.6h0.7M434.6,410.3h0.7M369.6,410.7h0.7M441.6,406.8h0.7M417.9,414.2h0.7M413.7,403.5h0.7M416.6,406.2h0.7M436.8,411.3h0.7M387.5,414.2h0.7M415.9,407.2h0.7M434.7,414.1h0.7M439.9,414.0h0.7M418.9,411.7h0.7M414.1,409.6h0.7M448.4,407.4h0.7M367.3,411.9h0.7M404.6,409.8h0.7M413.5,406.1h0.7M378.0,403.9h0.7M430.0,414.4h0.7M422.4,404.5h0.7M447.6,413.3h0.7M405.6,403.0h0.7M435.5,410.8h0.7M415.7,403.2h0.7M425.6,403.4h0.7M402.8,404.8h0.7M392.2,414.1h0.7M427.0,413.2h0.7M386.7,407.9h0.7M414.1,403.4h0.7M396.9,415.2h0.7M427.5,413.8h0.7M386.7,411.6h0.7M430.6,411.8h0.7M399.1,405.2h0.7M361.6,414.1h0.7M443.4,406.4h0.7M427.6,408.1h0.7M416.2,413.5h0.7M388.7,410.8h0.7M382.9,409.4h0.7M362.7,406.3h0.7M385.7,414.4h0.7M371.8,412.5h0.7M367.8,415.3h0.7M374.9,404.2h0.7M378.9,414.7h0.7M419.9,414.1h0.7M404.7,404.4h0.7M390.5,408.7h0.7M448.6,405.1h0.7M381.9,413.5h0.7M370.2,415.1h0.7M386.5,410.1h0.7M419.1,414.3h0.7M366.8,413.6h0.7M376.0,412.0h0.7M362.4,412.6h0.7M376.2,405.6h0.7M363.1,407.1h0.7M389.4,415.3h0.7M414.3,407.6h0.7M448.6,405.1h0.7M379.2,415.0h0.7M445.2,411.6h0.7M447.6,403.7h0.7M440.9,411.8h0.7M419.8,413.5h0.7M369.3,405.5h0.7M372.3,409.0h0.7M408.9,409.8h0.7M392.4,412.3h0.7M435.0,412.5h0.7M363.4,404.9h0.7M379.6,406.0h0.7M411.4,405.4h0.7M415.9,407.3h0.7M392.5,411.9h0.7M444.5,405.4h0.7M391.2,415.3h0.7M379.0,403.3h0.7M377.1,413.3h0.7M425.5,414.7h0.7M404.5,403.5h0.7M387.4,412.0h0.7M395.2,404.7h0.7M393.6,408.8h0.7M391.9,408.6h0.7M372.2,403.4h0.7M430.1,412.2h0.7M397.4,404.4h0.7M386.5,410.0h0.7M440.1,409.0h0.7M447.2,409.6h0.7M376.2,410.7h0.7M413.7,410.5h0.7M424.9,403.3h0.7" stroke="#666" stroke-width="0.55" fill="none"/>
<path d="M553.00,245.00 L702.00,222.00 L846.70,244.50" fill="none" stroke="#c4c4c4" stroke-width="0.5" />
<path d="M553.00,439.00 L629.00,458.00 L651.00,458.50 L846.70,438.50" fill="none" stroke="#c4c4c4" stroke-width="0.5" />
<line x1="700.70" y1="222.50" x2="700.70" y2="243.50" stroke="#c4c4c4" stroke-width="0.5" />
<line x1="703.30" y1="222.50" x2="703.30" y2="243.50" stroke="#c4c4c4" stroke-width="0.5" />
<line x1="532.00" y1="225.50" x2="800.00" y2="225.50" stroke="#aaa" stroke-width="0.5" stroke-dasharray="1.6 1.2"/>
<line x1="532.00" y1="225.50" x2="532.00" y2="295.00" stroke="#aaa" stroke-width="0.5" stroke-dasharray="1.6 1.2"/>
<line x1="532.00" y1="456.50" x2="800.00" y2="456.50" stroke="#aaa" stroke-width="0.5" stroke-dasharray="1.6 1.2"/>
<line x1="532.00" y1="456.50" x2="532.00" y2="388.00" stroke="#aaa" stroke-width="0.5" stroke-dasharray="1.6 1.2"/>
<line x1="779.50" y1="225.50" x2="779.50" y2="456.50" stroke="#aaa" stroke-width="0.5" stroke-dasharray="1.6 1.2"/>
<line x1="781.70" y1="245.00" x2="781.70" y2="437.00" stroke="#aaa" stroke-width="0.5" stroke-dasharray="1.6 1.2"/>
<line x1="800.00" y1="225.50" x2="800.00" y2="245.00" stroke="#aaa" stroke-width="0.5" stroke-dasharray="1.6 1.2"/>
<line x1="497.00" y1="146.40" x2="910.00" y2="146.40" stroke="#c6c6c6" stroke-width="0.45" stroke-dasharray="1.6 1.2"/>
<line x1="497.00" y1="150.40" x2="910.00" y2="150.40" stroke="#c6c6c6" stroke-width="0.45" stroke-dasharray="1.6 1.2"/>
<line x1="910.00" y1="146.40" x2="910.00" y2="262.00" stroke="#c6c6c6" stroke-width="0.45" stroke-dasharray="1.6 1.2"/>
<line x1="847.50" y1="146.40" x2="847.50" y2="245.00" stroke="#c6c6c6" stroke-width="0.45" stroke-dasharray="1.6 1.2"/>
<line x1="356.00" y1="132.30" x2="473.00" y2="132.30" stroke="#c6c6c6" stroke-width="0.45" stroke-dasharray="1.6 1.2"/>
<line x1="356.00" y1="136.40" x2="473.00" y2="136.40" stroke="#c6c6c6" stroke-width="0.45" stroke-dasharray="1.6 1.2"/>
<line x1="360.00" y1="254.00" x2="368.00" y2="254.00" stroke="#c6c6c6" stroke-width="0.45" stroke-dasharray="1.6 1.2"/>
<line x1="368.00" y1="254.00" x2="368.00" y2="273.00" stroke="#c6c6c6" stroke-width="0.45" stroke-dasharray="1.6 1.2"/>
<line x1="463.00" y1="254.00" x2="470.00" y2="254.00" stroke="#c6c6c6" stroke-width="0.45" stroke-dasharray="1.6 1.2"/>
<line x1="463.00" y1="254.00" x2="463.00" y2="273.00" stroke="#c6c6c6" stroke-width="0.45" stroke-dasharray="1.6 1.2"/>
<line x1="366.00" y1="536.00" x2="915.00" y2="536.00" stroke="#c6c6c6" stroke-width="0.45" stroke-dasharray="1.6 1.2"/>
<line x1="915.00" y1="438.00" x2="915.00" y2="536.00" stroke="#c6c6c6" stroke-width="0.45" stroke-dasharray="1.6 1.2"/>
<line x1="848.00" y1="438.00" x2="915.00" y2="438.00" stroke="#c6c6c6" stroke-width="0.45" stroke-dasharray="1.6 1.2"/>
<line x1="847.50" y1="439.00" x2="847.50" y2="536.00" stroke="#c6c6c6" stroke-width="0.45" stroke-dasharray="1.6 1.2"/>
<line x1="366.00" y1="462.00" x2="366.00" y2="536.00" stroke="#c6c6c6" stroke-width="0.45" stroke-dasharray="1.6 1.2"/>
<line x1="355.00" y1="462.00" x2="366.00" y2="462.00" stroke="#c6c6c6" stroke-width="0.45" stroke-dasharray="1.6 1.2"/>
<line x1="355.00" y1="420.00" x2="355.00" y2="462.00" stroke="#c6c6c6" stroke-width="0.45" stroke-dasharray="1.6 1.2"/>
<line x1="553.00" y1="219.50" x2="846.00" y2="219.50" stroke="#b5b5b5" stroke-width="0.45" />
<line x1="552.00" y1="220.50" x2="554.00" y2="218.50" stroke="#555" stroke-width="0.6" />
<line x1="553.00" y1="216.00" x2="553.00" y2="245.00" stroke="#c4c4c4" stroke-width="0.4" />
<line x1="574.80" y1="220.50" x2="576.80" y2="218.50" stroke="#555" stroke-width="0.6" />
<line x1="575.80" y1="216.00" x2="575.80" y2="245.00" stroke="#c4c4c4" stroke-width="0.4" />
<line x1="661.50" y1="220.50" x2="663.50" y2="218.50" stroke="#555" stroke-width="0.6" />
<line x1="662.50" y1="216.00" x2="662.50" y2="245.00" stroke="#c4c4c4" stroke-width="0.4" />
<line x1="671.50" y1="220.50" x2="673.50" y2="218.50" stroke="#555" stroke-width="0.6" />
<line x1="672.50" y1="216.00" x2="672.50" y2="245.00" stroke="#c4c4c4" stroke-width="0.4" />
<line x1="745.70" y1="220.50" x2="747.70" y2="218.50" stroke="#555" stroke-width="0.6" />
<line x1="746.70" y1="216.00" x2="746.70" y2="245.00" stroke="#c4c4c4" stroke-width="0.4" />
<line x1="756.50" y1="220.50" x2="758.50" y2="218.50" stroke="#555" stroke-width="0.6" />
<line x1="757.50" y1="216.00" x2="757.50" y2="245.00" stroke="#c4c4c4" stroke-width="0.4" />
<line x1="845.00" y1="220.50" x2="847.00" y2="218.50" stroke="#555" stroke-width="0.6" />
<line x1="846.00" y1="216.00" x2="846.00" y2="245.00" stroke="#c4c4c4" stroke-width="0.4" />
<line x1="553.00" y1="467.00" x2="846.00" y2="467.00" stroke="#b5b5b5" stroke-width="0.45" />
<line x1="552.00" y1="468.00" x2="554.00" y2="466.00" stroke="#555" stroke-width="0.6" />
<line x1="553.00" y1="440.00" x2="553.00" y2="470.00" stroke="#c4c4c4" stroke-width="0.4" />
<line x1="562.00" y1="468.00" x2="564.00" y2="466.00" stroke="#555" stroke-width="0.6" />
<line x1="563.00" y1="440.00" x2="563.00" y2="470.00" stroke="#c4c4c4" stroke-width="0.4" />
<line x1="576.00" y1="468.00" x2="578.00" y2="466.00" stroke="#555" stroke-width="0.6" />
<line x1="577.00" y1="440.00" x2="577.00" y2="470.00" stroke="#c4c4c4" stroke-width="0.4" />
<line x1="591.00" y1="468.00" x2="593.00" y2="466.00" stroke="#555" stroke-width="0.6" />
<line x1="592.00" y1="440.00" x2="592.00" y2="470.00" stroke="#c4c4c4" stroke-width="0.4" />
<line x1="613.00" y1="468.00" x2="615.00" y2="466.00" stroke="#555" stroke-width="0.6" />
<line x1="614.00" y1="440.00" x2="614.00" y2="470.00" stroke="#c4c4c4" stroke-width="0.4" />
<line x1="628.00" y1="468.00" x2="630.00" y2="466.00" stroke="#555" stroke-width="0.6" />
<line x1="629.00" y1="440.00" x2="629.00" y2="470.00" stroke="#c4c4c4" stroke-width="0.4" />
<line x1="649.00" y1="468.00" x2="651.00" y2="466.00" stroke="#555" stroke-width="0.6" />
<line x1="650.00" y1="440.00" x2="650.00" y2="470.00" stroke="#c4c4c4" stroke-width="0.4" />
<line x1="661.50" y1="468.00" x2="663.50" y2="466.00" stroke="#555" stroke-width="0.6" />
<line x1="662.50" y1="440.00" x2="662.50" y2="470.00" stroke="#c4c4c4" stroke-width="0.4" />
<line x1="671.50" y1="468.00" x2="673.50" y2="466.00" stroke="#555" stroke-width="0.6" />
<line x1="672.50" y1="440.00" x2="672.50" y2="470.00" stroke="#c4c4c4" stroke-width="0.4" />
<line x1="745.70" y1="468.00" x2="747.70" y2="466.00" stroke="#555" stroke-width="0.6" />
<line x1="746.70" y1="440.00" x2="746.70" y2="470.00" stroke="#c4c4c4" stroke-width="0.4" />
<line x1="756.50" y1="468.00" x2="758.50" y2="466.00" stroke="#555" stroke-width="0.6" />
<line x1="757.50" y1="440.00" x2="757.50" y2="470.00" stroke="#c4c4c4" stroke-width="0.4" />
<line x1="767.00" y1="468.00" x2="769.00" y2="466.00" stroke="#555" stroke-width="0.6" />
<line x1="768.00" y1="440.00" x2="768.00" y2="470.00" stroke="#c4c4c4" stroke-width="0.4" />
<line x1="845.00" y1="468.00" x2="847.00" y2="466.00" stroke="#555" stroke-width="0.6" />
<line x1="846.00" y1="440.00" x2="846.00" y2="470.00" stroke="#c4c4c4" stroke-width="0.4" />
<line x1="502.00" y1="264.00" x2="502.00" y2="417.00" stroke="#b5b5b5" stroke-width="0.45" />
<line x1="509.50" y1="295.00" x2="509.50" y2="387.00" stroke="#b5b5b5" stroke-width="0.45" />
<line x1="501.00" y1="265.00" x2="503.00" y2="263.00" stroke="#555" stroke-width="0.6" />
<line x1="499.00" y1="264.00" x2="551.00" y2="264.00" stroke="#c4c4c4" stroke-width="0.4" />
<line x1="501.00" y1="246.00" x2="503.00" y2="244.00" stroke="#555" stroke-width="0.6" />
<line x1="499.00" y1="245.00" x2="551.00" y2="245.00" stroke="#c4c4c4" stroke-width="0.4" />
<line x1="501.00" y1="281.00" x2="503.00" y2="279.00" stroke="#555" stroke-width="0.6" />
<line x1="499.00" y1="280.00" x2="551.00" y2="280.00" stroke="#c4c4c4" stroke-width="0.4" />
<line x1="501.00" y1="317.70" x2="503.00" y2="315.70" stroke="#555" stroke-width="0.6" />
<line x1="499.00" y1="316.70" x2="551.00" y2="316.70" stroke="#c4c4c4" stroke-width="0.4" />
<line x1="501.00" y1="367.00" x2="503.00" y2="365.00" stroke="#555" stroke-width="0.6" />
<line x1="499.00" y1="366.00" x2="551.00" y2="366.00" stroke="#c4c4c4" stroke-width="0.4" />
<line x1="501.00" y1="389.00" x2="503.00" y2="387.00" stroke="#555" stroke-width="0.6" />
<line x1="499.00" y1="388.00" x2="551.00" y2="388.00" stroke="#c4c4c4" stroke-width="0.4" />
<line x1="501.00" y1="400.70" x2="503.00" y2="398.70" stroke="#555" stroke-width="0.6" />
<line x1="499.00" y1="399.70" x2="551.00" y2="399.70" stroke="#c4c4c4" stroke-width="0.4" />
<line x1="501.00" y1="418.00" x2="503.00" y2="416.00" stroke="#555" stroke-width="0.6" />
<line x1="499.00" y1="417.00" x2="551.00" y2="417.00" stroke="#c4c4c4" stroke-width="0.4" />
<line x1="508.50" y1="296.30" x2="510.50" y2="294.30" stroke="#555" stroke-width="0.6" />
<line x1="508.50" y1="387.70" x2="510.50" y2="385.70" stroke="#555" stroke-width="0.6" />
<line x1="556.00" y1="258.00" x2="757.00" y2="258.00" stroke="#c4c4c4" stroke-width="0.4" />
<line x1="556.00" y1="265.00" x2="757.00" y2="265.00" stroke="#c4c4c4" stroke-width="0.4" />
<line x1="556.00" y1="306.50" x2="757.00" y2="306.50" stroke="#c4c4c4" stroke-width="0.4" />
<line x1="556.00" y1="314.00" x2="757.00" y2="314.00" stroke="#c4c4c4" stroke-width="0.4" />
<line x1="556.00" y1="338.00" x2="757.00" y2="338.00" stroke="#c4c4c4" stroke-width="0.4" />
<line x1="556.00" y1="356.00" x2="757.00" y2="356.00" stroke="#c4c4c4" stroke-width="0.4" />
<line x1="556.00" y1="377.00" x2="757.00" y2="377.00" stroke="#c4c4c4" stroke-width="0.4" />
<line x1="556.00" y1="386.50" x2="757.00" y2="386.50" stroke="#c4c4c4" stroke-width="0.4" />
<line x1="556.00" y1="428.00" x2="757.00" y2="428.00" stroke="#c4c4c4" stroke-width="0.4" />
<line x1="567.00" y1="248.00" x2="567.00" y2="434.00" stroke="#c4c4c4" stroke-width="0.4" />
<line x1="598.00" y1="248.00" x2="598.00" y2="434.00" stroke="#c4c4c4" stroke-width="0.4" />
<line x1="616.00" y1="248.00" x2="616.00" y2="434.00" stroke="#c4c4c4" stroke-width="0.4" />
<line x1="645.00" y1="248.00" x2="645.00" y2="434.00" stroke="#c4c4c4" stroke-width="0.4" />
<line x1="667.00" y1="248.00" x2="667.00" y2="434.00" stroke="#c4c4c4" stroke-width="0.4" />
<line x1="673.00" y1="248.00" x2="673.00" y2="434.00" stroke="#c4c4c4" stroke-width="0.4" />
<line x1="736.00" y1="248.00" x2="736.00" y2="434.00" stroke="#c4c4c4" stroke-width="0.4" />
<line x1="747.00" y1="248.00" x2="747.00" y2="434.00" stroke="#c4c4c4" stroke-width="0.4" />
<line x1="763.00" y1="258.00" x2="846.00" y2="258.00" stroke="#c4c4c4" stroke-width="0.4" />
<line x1="763.00" y1="306.50" x2="846.00" y2="306.50" stroke="#c4c4c4" stroke-width="0.4" />
<line x1="763.00" y1="338.00" x2="846.00" y2="338.00" stroke="#c4c4c4" stroke-width="0.4" />
<line x1="763.00" y1="386.50" x2="846.00" y2="386.50" stroke="#c4c4c4" stroke-width="0.4" />
<line x1="763.00" y1="428.00" x2="846.00" y2="428.00" stroke="#c4c4c4" stroke-width="0.4" />
<line x1="790.50" y1="246.00" x2="790.50" y2="437.00" stroke="#c4c4c4" stroke-width="0.4" />
<line x1="797.00" y1="246.00" x2="797.00" y2="437.00" stroke="#c4c4c4" stroke-width="0.4" />
<line x1="838.00" y1="246.00" x2="838.00" y2="437.00" stroke="#c4c4c4" stroke-width="0.4" />
<line x1="870.00" y1="225.00" x2="870.00" y2="457.00" stroke="#c4c4c4" stroke-width="0.4" />
<line x1="763.00" y1="246.00" x2="846.00" y2="339.50" stroke="#bdbdbd" stroke-width="0.45" />
<line x1="846.00" y1="246.00" x2="763.00" y2="339.50" stroke="#bdbdbd" stroke-width="0.45" />
<line x1="763.00" y1="340.00" x2="846.00" y2="437.00" stroke="#bdbdbd" stroke-width="0.45" />
<line x1="846.00" y1="340.00" x2="763.00" y2="437.00" stroke="#bdbdbd" stroke-width="0.45" />
<rect x="803.40" y="291.20" width="2.60" height="2.60" fill="#999" stroke="#777" stroke-width="0.4" />
<rect x="803.40" y="388.20" width="2.60" height="2.60" fill="#999" stroke="#777" stroke-width="0.4" />
<path d="M762.50,245.00 L846.70,245.00 L846.70,437.50 L762.50,437.50" fill="none" stroke="#4a4a4a" stroke-width="1.5" />
<path d="M762.50,246.60 L845.10,246.60 L845.10,436.00 L762.50,436.00" fill="none" stroke="#999" stroke-width="0.5" />
<line x1="533.00" y1="296.00" x2="550.00" y2="340.00" stroke="#cfcfcf" stroke-width="0.45" />
<line x1="550.00" y1="296.00" x2="541.00" y2="340.00" stroke="#cfcfcf" stroke-width="0.45" />
<line x1="541.00" y1="341.00" x2="533.00" y2="386.00" stroke="#cfcfcf" stroke-width="0.45" />
<line x1="541.00" y1="341.00" x2="550.00" y2="386.00" stroke="#cfcfcf" stroke-width="0.45" />
<path d="M551.00,295.30 L532.20,295.30 L532.20,386.70 L551.00,386.70" fill="none" stroke="#4f4f4f" stroke-width="1.3" />
<line x1="533.00" y1="330.30" x2="551.00" y2="330.30" stroke="#888" stroke-width="0.5" />
<circle cx="541" cy="340.8" r="1.3" fill="#888"/>
<rect x="555.00" y="244.60" width="21.00" height="2.20" fill="#e4e4e4" stroke="#9a9a9a" stroke-width="0.5" />
<rect x="551.60" y="243.60" width="3.80" height="3.80" fill="#ddd" stroke="#444" stroke-width="0.8" />
<rect x="575.60" y="244.00" width="3.00" height="3.20" fill="#ddd" stroke="#444" stroke-width="0.7" />
<rect x="576.00" y="243.80" width="86.50" height="4.00" fill="#d6d6d6" stroke="#333" stroke-width="1.15" rx="2.00"/>
<line x1="577.50" y1="245.80" x2="661.00" y2="245.80" stroke="#999" stroke-width="0.4" />
<rect x="662.50" y="244.60" width="10.00" height="2.20" fill="#e4e4e4" stroke="#9a9a9a" stroke-width="0.5" />
<rect x="672.50" y="243.80" width="74.20" height="4.00" fill="#d6d6d6" stroke="#333" stroke-width="1.15" rx="2.00"/>
<line x1="674.00" y1="245.80" x2="745.20" y2="245.80" stroke="#999" stroke-width="0.4" />
<rect x="746.70" y="243.80" width="15.90" height="4.00" fill="#bcbcbc" stroke="#484848" stroke-width="0.85" />
<rect x="655.80" y="247.80" width="3.20" height="9.70" fill="#bcbcbc" stroke="#484848" stroke-width="0.85" />
<rect x="552.20" y="247.40" width="1.60" height="33.60" fill="#e4e4e4" stroke="#9a9a9a" stroke-width="0.5" />
<rect x="550.60" y="280.00" width="4.60" height="36.70" fill="#f2f2f2" stroke="#333" stroke-width="0.95" rx="2.30"/>
<line x1="550.50" y1="299.80" x2="550.50" y2="316.00" stroke="#222" stroke-width="1.0" />
<rect x="552.20" y="316.70" width="1.60" height="49.30" fill="#e4e4e4" stroke="#9a9a9a" stroke-width="0.5" />
<rect x="550.60" y="365.80" width="4.60" height="22.50" fill="#f2f2f2" stroke="#333" stroke-width="0.95" rx="2.30"/>
<line x1="550.50" y1="377.00" x2="550.50" y2="387.50" stroke="#222" stroke-width="1.0" />
<rect x="552.20" y="388.30" width="1.60" height="11.70" fill="#e4e4e4" stroke="#9a9a9a" stroke-width="0.5" />
<rect x="550.80" y="399.70" width="4.40" height="39.50" fill="#bcbcbc" stroke="#484848" stroke-width="0.85" />
<rect x="550.80" y="434.00" width="9.20" height="5.20" fill="#bcbcbc" stroke="#484848" stroke-width="0.85" />
<rect x="757.60" y="243.80" width="5.00" height="14.70" fill="#bcbcbc" stroke="#484848" stroke-width="0.85" />
<rect x="759.20" y="258.50" width="1.80" height="44.00" fill="#e4e4e4" stroke="#9a9a9a" stroke-width="0.5" />
<rect x="757.40" y="302.50" width="5.60" height="27.50" fill="#f2f2f2" stroke="#333" stroke-width="0.95" rx="2.80"/>
<rect x="759.20" y="330.00" width="1.80" height="22.50" fill="#e4e4e4" stroke="#9a9a9a" stroke-width="0.5" />
<rect x="757.40" y="352.50" width="5.60" height="26.50" fill="#f2f2f2" stroke="#333" stroke-width="0.95" rx="2.80"/>
<rect x="759.20" y="379.00" width="1.80" height="44.00" fill="#e4e4e4" stroke="#9a9a9a" stroke-width="0.5" />
<rect x="758.80" y="423.00" width="4.20" height="16.20" fill="#bcbcbc" stroke="#484848" stroke-width="0.85" />
<rect x="560.00" y="435.60" width="21.00" height="2.00" fill="#e4e4e4" stroke="#9a9a9a" stroke-width="0.5" />
<rect x="581.00" y="434.00" width="11.00" height="5.20" fill="#bcbcbc" stroke="#484848" stroke-width="0.85" />
<rect x="592.00" y="435.60" width="22.00" height="2.00" fill="#e4e4e4" stroke="#9a9a9a" stroke-width="0.5" />
<rect x="614.00" y="434.00" width="48.50" height="5.20" fill="#bcbcbc" stroke="#484848" stroke-width="0.85" />
<rect x="662.50" y="435.00" width="7.50" height="3.40" fill="#777" stroke="#484848" stroke-width="0.85" />
<rect x="672.50" y="434.00" width="74.20" height="5.00" fill="#d6d6d6" stroke="#333" stroke-width="1.15" rx="2.50"/>
<line x1="674.00" y1="436.50" x2="745.20" y2="436.50" stroke="#999" stroke-width="0.4" />
<rect x="746.70" y="435.60" width="12.10" height="2.00" fill="#e4e4e4" stroke="#9a9a9a" stroke-width="0.5" />
<rect x="576.50" y="269.20" width="25.80" height="21.40" fill="#8a8a8a" stroke="#2f2f2f" stroke-width="1.2" />
<rect x="579.30" y="272.00" width="20.20" height="15.80" fill="#fff" stroke="#444" stroke-width="0.7" />
<rect x="623.30" y="248.00" width="2.50" height="44.50" fill="#bcbcbc" stroke="#484848" stroke-width="0.85" />
<rect x="623.30" y="290.00" width="36.70" height="2.50" fill="#bcbcbc" stroke="#484848" stroke-width="0.85" />
<rect x="656.70" y="271.70" width="2.50" height="28.30" fill="#777" stroke="#484848" stroke-width="0.85" />
<rect x="632.50" y="255.80" width="25.00" height="26.70" fill="none" stroke="#9a9a9a" stroke-width="0.5" />
<line x1="631.00" y1="254.00" x2="659.00" y2="254.00" stroke="#aaa" stroke-width="0.5" stroke-dasharray="0.8 0.8"/>
<line x1="631.00" y1="284.00" x2="659.00" y2="284.00" stroke="#aaa" stroke-width="0.5" stroke-dasharray="0.8 0.8"/>
<line x1="560.50" y1="248.00" x2="560.50" y2="311.00" stroke="#c9c9c9" stroke-width="0.45" />
<line x1="567.00" y1="248.00" x2="567.00" y2="311.00" stroke="#c9c9c9" stroke-width="0.45" />
<line x1="573.50" y1="248.00" x2="573.50" y2="311.00" stroke="#c9c9c9" stroke-width="0.45" />
<line x1="580.00" y1="248.00" x2="580.00" y2="269.00" stroke="#c9c9c9" stroke-width="0.45" />
<line x1="586.50" y1="248.00" x2="586.50" y2="269.00" stroke="#c9c9c9" stroke-width="0.45" />
<line x1="593.00" y1="248.00" x2="593.00" y2="269.00" stroke="#c9c9c9" stroke-width="0.45" />
<line x1="599.50" y1="248.00" x2="599.50" y2="269.00" stroke="#c9c9c9" stroke-width="0.45" />
<line x1="580.00" y1="291.00" x2="580.00" y2="311.00" stroke="#c9c9c9" stroke-width="0.45" />
<line x1="586.50" y1="291.00" x2="586.50" y2="311.00" stroke="#c9c9c9" stroke-width="0.45" />
<line x1="593.00" y1="291.00" x2="593.00" y2="311.00" stroke="#c9c9c9" stroke-width="0.45" />
<line x1="599.50" y1="291.00" x2="599.50" y2="311.00" stroke="#c9c9c9" stroke-width="0.45" />
<line x1="555.50" y1="270.50" x2="576.00" y2="270.50" stroke="#bdbdbd" stroke-width="0.45" />
<line x1="555.50" y1="276.00" x2="576.00" y2="276.00" stroke="#bdbdbd" stroke-width="0.45" />
<line x1="555.50" y1="281.50" x2="576.00" y2="281.50" stroke="#bdbdbd" stroke-width="0.45" />
<line x1="555.50" y1="287.00" x2="576.00" y2="287.00" stroke="#bdbdbd" stroke-width="0.45" />
<line x1="555.50" y1="292.50" x2="576.00" y2="292.50" stroke="#bdbdbd" stroke-width="0.45" />
<line x1="555.20" y1="311.30" x2="602.60" y2="311.30" stroke="#555" stroke-width="1.1" />
<line x1="602.00" y1="290.60" x2="602.00" y2="311.80" stroke="#555" stroke-width="1.0" />
<rect x="555.00" y="369.00" width="73.30" height="3.50" fill="#bcbcbc" stroke="#484848" stroke-width="0.85" />
<rect x="561.00" y="372.50" width="11.00" height="8.00" fill="none" stroke="#aaa" stroke-width="0.5" />
<rect x="581.00" y="372.50" width="11.00" height="8.00" fill="none" stroke="#aaa" stroke-width="0.5" />
<line x1="561.00" y1="372.90" x2="572.00" y2="372.90" stroke="#555" stroke-width="0.9" />
<line x1="581.00" y1="372.90" x2="592.00" y2="372.90" stroke="#555" stroke-width="0.9" />
<rect x="556.00" y="372.50" width="41.00" height="10.00" fill="none" stroke="#bbb" stroke-width="0.45" />
<rect x="648.30" y="318.30" width="85.70" height="4.20" fill="#bcbcbc" stroke="#484848" stroke-width="0.85" />
<rect x="718.00" y="318.80" width="16.00" height="3.20" fill="#555" stroke="#333" stroke-width="0.5" />
<rect x="749.00" y="318.60" width="8.60" height="3.60" fill="#bcbcbc" stroke="#484848" stroke-width="0.85" />
<rect x="656.50" y="315.20" width="19.00" height="2.00" fill="#ddd" stroke="#666" stroke-width="0.5" />
<rect x="660.80" y="322.50" width="4.20" height="39.20" fill="#bcbcbc" stroke="#484848" stroke-width="0.85" />
<rect x="661.00" y="360.30" width="96.60" height="3.70" fill="#bcbcbc" stroke="#484848" stroke-width="0.85" />
<rect x="711.00" y="344.00" width="4.00" height="16.30" fill="#ddd" stroke="#484848" stroke-width="0.85" />
<line x1="648.80" y1="322.50" x2="648.80" y2="355.00" stroke="#666" stroke-width="0.7" />
<line x1="651.50" y1="322.50" x2="651.50" y2="355.00" stroke="#888" stroke-width="0.5" />
<rect x="646.70" y="354.00" width="15.00" height="18.50" fill="#b0b0b0" stroke="#484848" stroke-width="0.85" />
<rect x="650.00" y="357.30" width="8.60" height="12.00" fill="#fff" stroke="#555" stroke-width="0.6" />
<rect x="653.00" y="326.50" width="6.00" height="6.00" fill="none" stroke="#777" stroke-width="0.5" />
<rect x="654.30" y="328.00" width="3.40" height="3.00" fill="none" stroke="#777" stroke-width="0.4" />
<ellipse cx="699.5" cy="349.5" rx="3.6" ry="4.2" fill="#fff" stroke="#8a8a8a" stroke-width="0.5"/>
<rect x="695.50" y="355.00" width="8.00" height="5.00" fill="none" stroke="#8a8a8a" stroke-width="0.5" />
<rect x="721.00" y="352.50" width="9.50" height="7.50" fill="none" stroke="#9a9a9a" stroke-width="0.5" />
<path d="M716.00,349.50 L736.00,349.50 L737.50,352.50 L757.00,352.50" fill="none" stroke="#8a8a8a" stroke-width="0.5" />
<rect x="743.00" y="347.00" width="9.00" height="5.00" fill="none" stroke="#c0c0c0" stroke-width="0.45" />
<path d="M688,324.5 H702.5 A14.5,14.5 0 0 1 688,339" fill="none" stroke="#bbb" stroke-width="0.45"/>
<line x1="684.00" y1="323.00" x2="683.00" y2="360.00" stroke="#c0c0c0" stroke-width="0.45" />
<line x1="688.00" y1="323.00" x2="686.50" y2="360.00" stroke="#c0c0c0" stroke-width="0.45" />
<rect x="617.50" y="391.00" width="2.80" height="43.00" fill="#bcbcbc" stroke="#484848" stroke-width="0.85" />
<rect x="617.50" y="391.00" width="2.80" height="14.50" fill="#777" stroke="#484848" stroke-width="0.6" />
<rect x="617.50" y="393.00" width="25.00" height="3.70" fill="#bcbcbc" stroke="#484848" stroke-width="0.85" />
<rect x="626.70" y="393.40" width="15.80" height="2.90" fill="#666" stroke="#444" stroke-width="0.4" />
<rect x="658.30" y="393.30" width="4.20" height="40.70" fill="#bcbcbc" stroke="#484848" stroke-width="0.85" />
<rect x="627.50" y="396.70" width="30.80" height="30.00" fill="none" stroke="#9a9a9a" stroke-width="0.5" />
<line x1="625.00" y1="428.50" x2="660.00" y2="428.50" stroke="#aaa" stroke-width="0.5" stroke-dasharray="0.8 0.8"/>
<rect x="585.50" y="405.80" width="4.50" height="28.70" fill="#bcbcbc" stroke="#484848" stroke-width="0.85" />
<rect x="584.00" y="405.00" width="8.00" height="2.60" fill="#bcbcbc" stroke="#484848" stroke-width="0.85" />
<line x1="595.00" y1="395.80" x2="606.70" y2="406.70" stroke="#444" stroke-width="1.0" />
<rect x="606.70" y="405.30" width="11.60" height="3.00" fill="#bcbcbc" stroke="#484848" stroke-width="0.85" />
<path d="M595,396 A15,15 0 0 0 591.5,407" fill="none" stroke="#bbb" stroke-width="0.45"/>
<path d="M572,397 A9,9 0 0 0 569,405.5" fill="none" stroke="#bbb" stroke-width="0.45"/>
<line x1="555.50" y1="405.50" x2="585.50" y2="405.50" stroke="#bbb" stroke-width="0.5" />
<line x1="555.50" y1="408.50" x2="585.50" y2="411.00" stroke="#c4c4c4" stroke-width="0.45" />
<line x1="555.50" y1="432.50" x2="585.50" y2="428.00" stroke="#c4c4c4" stroke-width="0.45" />
<ellipse cx="606" cy="420.5" rx="3.6" ry="3.0" fill="#fff" stroke="#8a8a8a" stroke-width="0.5"/>
<rect x="610.50" y="417.00" width="4.50" height="7.00" fill="none" stroke="#9a9a9a" stroke-width="0.5" />
<path d="M628.5,369 A10,10 0 0 1 638,354.5" fill="none" stroke="#bbb" stroke-width="0.45"/>
<line x1="628.50" y1="371.00" x2="646.50" y2="371.00" stroke="#aaa" stroke-width="0.5" stroke-dasharray="0.8 0.8"/>
<path d="M619.00,313.50 L624.00,302.00 L629.00,313.50 Z" fill="none" stroke="#c4c4c4" stroke-width="0.45" />
<rect x="629.30" y="439.20" width="20.70" height="19.00" fill="#fff" stroke="#3a3a3a" stroke-width="0.9" />
<rect x="632.30" y="442.50" width="14.70" height="12.50" fill="none" stroke="#555" stroke-width="0.8" />
<rect x="634.30" y="441.00" width="10.70" height="16.00" fill="none" stroke="#777" stroke-width="0.5" />
<circle cx="639.6" cy="448.7" r="3.4" fill="#fff" stroke="#666" stroke-width="0.6"/>
<circle cx="631" cy="441" r="0.6" fill="#444"/>
<circle cx="648.3" cy="441" r="0.6" fill="#444"/>
<circle cx="631" cy="456.5" r="0.6" fill="#444"/>
<circle cx="648.3" cy="456.5" r="0.6" fill="#444"/>
<path d="M618.00,456.50 L629.00,461.50 L651.00,461.50 L662.00,456.50" fill="none" stroke="#aaa" stroke-width="0.45" />
<path d="M759.50,109.60A2.35,2.35 0 0 1 763.29,109.60L763.29,109.60A2.35,2.35 0 0 1 767.08,109.60L767.08,109.60A2.35,2.35 0 0 1 770.87,109.60L770.87,109.60A2.35,2.35 0 0 1 774.65,109.60L774.65,109.60A2.35,2.35 0 0 1 778.44,109.60L778.44,109.60A2.35,2.35 0 0 1 782.23,109.60L782.23,109.60A2.35,2.35 0 0 1 786.02,109.60L786.02,109.60A2.35,2.35 0 0 1 789.81,109.60L789.81,109.60A2.35,2.35 0 0 1 793.60,109.60L793.60,109.60A2.35,2.35 0 0 1 797.38,109.60L797.38,109.60A2.35,2.35 0 0 1 801.17,109.60L801.17,109.60A2.35,2.35 0 0 1 804.96,109.60L804.96,109.60A2.35,2.35 0 0 1 808.75,109.60L808.75,109.60A2.35,2.35 0 0 1 812.54,109.60L812.54,109.60A2.35,2.35 0 0 1 816.33,109.60L816.33,109.60A2.35,2.35 0 0 1 820.12,109.60L820.12,109.60A2.35,2.35 0 0 1 823.90,109.60L823.90,109.60A2.35,2.35 0 0 1 827.69,109.60L827.69,109.60A2.35,2.35 0 0 1 831.48,109.60L831.48,109.60A2.35,2.35 0 0 1 835.27,109.60L835.27,109.60A2.35,2.35 0 0 1 839.06,109.60L839.06,109.60A2.35,2.35 0 0 1 842.85,109.60L842.85,109.60A2.35,2.35 0 0 1 846.63,109.60L846.63,109.60A2.35,2.35 0 0 1 850.42,109.60L850.42,109.60A2.35,2.35 0 0 1 854.21,109.60L854.21,109.60A2.35,2.35 0 0 1 858.00,109.60L858.00,109.60A2.35,2.35 0 0 1 861.79,109.60L861.79,109.60A2.35,2.35 0 0 1 865.58,109.60L865.58,109.60A2.35,2.35 0 0 1 869.37,109.60L869.37,109.60A2.35,2.35 0 0 1 873.15,109.60L873.15,109.60A2.35,2.35 0 0 1 876.94,109.60L876.94,109.60A2.35,2.35 0 0 1 880.73,109.60L880.73,109.60A2.35,2.35 0 0 1 884.52,109.60L884.52,109.60A2.35,2.35 0 0 1 888.31,109.60L888.31,109.60A2.35,2.35 0 0 1 892.10,109.60L892.10,109.60A2.35,2.35 0 0 1 895.88,109.60L895.88,109.60A2.35,2.35 0 0 1 899.67,109.60L899.67,109.60A2.35,2.35 0 0 1 903.46,109.60L903.46,109.60A2.35,2.35 0 0 1 907.25,109.60L907.25,109.60A2.35,2.35 0 0 1 911.04,109.60L911.04,109.60A2.35,2.35 0 0 1 914.83,109.60L914.83,109.60A2.35,2.35 0 0 1 918.62,109.60L918.62,109.60A2.35,2.35 0 0 1 922.40,109.60L922.40,109.60A2.35,2.35 0 0 1 926.19,109.60L926.19,109.60A2.35,2.35 0 0 1 929.98,109.60L929.98,109.60A2.35,2.35 0 0 1 933.77,109.60L933.77,109.60A2.35,2.35 0 0 1 937.56,109.60L937.56,109.60A2.35,2.35 0 0 1 941.35,109.60L941.35,109.60A2.35,2.35 0 0 1 945.13,109.60L945.13,109.60A2.35,2.35 0 0 1 948.92,109.60L948.92,109.60A2.35,2.35 0 0 1 952.71,109.60L952.71,109.60A2.35,2.35 0 0 1 956.50,109.60L955.93,109.37A1.75,1.75 0 0 1 957.93,111.37L957.70,110.80A2.33,2.33 0 0 1 957.70,114.55L957.70,114.55A2.33,2.33 0 0 1 957.70,118.30L957.70,118.30A2.33,2.33 0 0 1 957.70,122.05L957.70,122.05A2.33,2.33 0 0 1 957.70,125.80L957.70,125.80A2.33,2.33 0 0 1 957.70,129.55L957.70,129.55A2.33,2.33 0 0 1 957.70,133.30L957.70,133.30A2.33,2.33 0 0 1 957.70,137.05L957.70,137.05A2.33,2.33 0 0 1 957.70,140.80L957.70,140.80A2.33,2.33 0 0 1 957.70,144.55L957.70,144.55A2.33,2.33 0 0 1 957.70,148.30L957.70,148.30A2.33,2.33 0 0 1 957.70,152.05L957.70,152.05A2.33,2.33 0 0 1 957.70,155.80L957.70,155.80A2.33,2.33 0 0 1 957.70,159.55L957.70,159.55A2.33,2.33 0 0 1 957.70,163.30L957.70,163.30A2.33,2.33 0 0 1 957.70,167.05L957.70,167.05A2.33,2.33 0 0 1 957.70,170.80L957.70,170.80A2.33,2.33 0 0 1 957.70,174.55L957.70,174.55A2.33,2.33 0 0 1 957.70,178.30L957.70,178.30A2.33,2.33 0 0 1 957.70,182.05L957.70,182.05A2.33,2.33 0 0 1 957.70,185.80L957.70,185.80A2.33,2.33 0 0 1 957.70,189.55L957.70,189.55A2.33,2.33 0 0 1 957.70,193.30L957.70,193.30A2.33,2.33 0 0 1 957.70,197.05L957.70,197.05A2.33,2.33 0 0 1 957.70,200.80L957.70,200.80A2.33,2.33 0 0 1 957.70,204.55L957.70,204.55A2.33,2.33 0 0 1 957.70,208.30L957.70,208.30A2.33,2.33 0 0 1 957.70,212.05L957.70,212.05A2.33,2.33 0 0 1 957.70,215.80L957.70,215.80A2.33,2.33 0 0 1 957.70,219.55L957.70,219.55A2.33,2.33 0 0 1 957.70,223.30L957.70,223.30A2.33,2.33 0 0 1 957.70,227.05L957.70,227.05A2.33,2.33 0 0 1 957.70,230.80L957.70,230.80A2.33,2.33 0 0 1 957.70,234.55L957.70,234.55A2.33,2.33 0 0 1 957.70,238.30L957.70,238.30A2.33,2.33 0 0 1 957.70,242.05L957.70,242.05A2.33,2.33 0 0 1 957.70,245.80L957.70,245.80A2.33,2.33 0 0 1 957.70,249.55L957.70,249.55A2.33,2.33 0 0 1 957.70,253.30L957.70,253.30A2.33,2.33 0 0 1 957.70,257.05L957.70,257.05A2.33,2.33 0 0 1 957.70,260.80L957.70,260.80A2.33,2.33 0 0 1 957.70,264.55L957.70,264.55A2.33,2.33 0 0 1 957.70,268.30L957.70,268.30A2.33,2.33 0 0 1 957.70,272.05L957.70,272.05A2.33,2.33 0 0 1 957.70,275.80L957.70,275.80A2.33,2.33 0 0 1 957.70,279.55L957.70,279.55A2.33,2.33 0 0 1 957.70,283.30L957.93,282.73A1.75,1.75 0 0 1 955.93,284.73L956.50,284.50A2.33,2.33 0 0 1 952.73,284.50L952.73,284.50A2.33,2.33 0 0 1 948.97,284.50L948.97,284.50A2.33,2.33 0 0 1 945.20,284.50L945.20,284.50A2.33,2.33 0 0 1 941.44,284.50L941.44,284.50A2.33,2.33 0 0 1 937.67,284.50L937.67,284.50A2.33,2.33 0 0 1 933.90,284.50L933.90,284.50A2.33,2.33 0 0 1 930.14,284.50L930.14,284.50A2.33,2.33 0 0 1 926.37,284.50L926.37,284.50A2.33,2.33 0 0 1 922.61,284.50L922.61,284.50A2.33,2.33 0 0 1 918.84,284.50L918.84,284.50A2.33,2.33 0 0 1 915.08,284.50L915.08,284.50A2.33,2.33 0 0 1 911.31,284.50L911.31,284.50A2.33,2.33 0 0 1 907.54,284.50L907.54,284.50A2.33,2.33 0 0 1 903.78,284.50L903.78,284.50A2.33,2.33 0 0 1 900.01,284.50L900.01,284.50A2.33,2.33 0 0 1 896.25,284.50L896.25,284.50A2.33,2.33 0 0 1 892.48,284.50L892.48,284.50A2.33,2.33 0 0 1 888.71,284.50L888.71,284.50A2.33,2.33 0 0 1 884.95,284.50L884.95,284.50A2.33,2.33 0 0 1 881.18,284.50L881.18,284.50A2.33,2.33 0 0 1 877.42,284.50L877.42,284.50A2.33,2.33 0 0 1 873.65,284.50L873.65,284.50A2.33,2.33 0 0 1 869.88,284.50L869.88,284.50A2.33,2.33 0 0 1 866.12,284.50L866.12,284.50A2.33,2.33 0 0 1 862.35,284.50L862.35,284.50A2.33,2.33 0 0 1 858.59,284.50L858.59,284.50A2.33,2.33 0 0 1 854.82,284.50L854.82,284.50A2.33,2.33 0 0 1 851.05,284.50L851.05,284.50A2.33,2.33 0 0 1 847.29,284.50L847.29,284.50A2.33,2.33 0 0 1 843.52,284.50L843.52,284.50A2.33,2.33 0 0 1 839.76,284.50L839.76,284.50A2.33,2.33 0 0 1 835.99,284.50L835.99,284.50A2.33,2.33 0 0 1 832.22,284.50L832.22,284.50A2.33,2.33 0 0 1 828.46,284.50L828.46,284.50A2.33,2.33 0 0 1 824.69,284.50L824.69,284.50A2.33,2.33 0 0 1 820.93,284.50L820.93,284.50A2.33,2.33 0 0 1 817.16,284.50L817.16,284.50A2.33,2.33 0 0 1 813.40,284.50L813.40,284.50A2.33,2.33 0 0 1 809.63,284.50L809.63,284.50A2.33,2.33 0 0 1 805.86,284.50L805.86,284.50A2.33,2.33 0 0 1 802.10,284.50L802.10,284.50A2.33,2.33 0 0 1 798.33,284.50L798.33,284.50A2.33,2.33 0 0 1 794.57,284.50L794.57,284.50A2.33,2.33 0 0 1 790.80,284.50L790.00,285.30A2.35,2.35 0 0 1 790.00,289.10L790.00,289.10A2.35,2.35 0 0 1 790.00,292.89L790.00,292.89A2.35,2.35 0 0 1 790.00,296.69L790.00,296.69A2.35,2.35 0 0 1 790.00,300.48L790.00,300.48A2.35,2.35 0 0 1 790.00,304.28L790.00,304.28A2.35,2.35 0 0 1 790.00,308.07L790.00,308.07A2.35,2.35 0 0 1 790.00,311.87L790.00,311.87A2.35,2.35 0 0 1 790.00,315.66L790.00,315.66A2.35,2.35 0 0 1 790.00,319.46L790.00,319.46A2.35,2.35 0 0 1 790.00,323.25L790.00,323.25A2.35,2.35 0 0 1 790.00,327.05L790.00,327.05A2.35,2.35 0 0 1 790.00,330.84L790.00,330.84A2.35,2.35 0 0 1 790.00,334.64L790.00,334.64A2.35,2.35 0 0 1 790.00,338.43L790.00,338.43A2.35,2.35 0 0 1 790.00,342.23L790.00,342.23A2.35,2.35 0 0 1 790.00,346.02L790.00,346.02A2.35,2.35 0 0 1 790.00,349.82L790.00,349.82A2.35,2.35 0 0 1 790.00,353.61L790.00,353.61A2.35,2.35 0 0 1 790.00,357.41L790.00,357.41A2.35,2.35 0 0 1 790.00,361.20L790.00,361.20A2.35,2.35 0 0 1 790.00,365.00L790.00,365.00A2.35,2.35 0 0 1 790.00,368.80L790.00,368.80A2.35,2.35 0 0 1 790.00,372.59L790.00,372.59A2.35,2.35 0 0 1 790.00,376.39L790.00,376.39A2.35,2.35 0 0 1 790.00,380.18L790.00,380.18A2.35,2.35 0 0 1 790.00,383.98L790.00,383.98A2.35,2.35 0 0 1 790.00,387.77L790.00,387.77A2.35,2.35 0 0 1 790.00,391.57L790.00,391.57A2.35,2.35 0 0 1 790.00,395.36L790.00,395.36A2.35,2.35 0 0 1 790.00,399.16L790.00,399.16A2.35,2.35 0 0 1 790.00,402.95L790.00,402.95A2.35,2.35 0 0 1 790.00,406.75L790.00,406.75A2.35,2.35 0 0 1 790.00,410.54L790.00,410.54A2.35,2.35 0 0 1 790.00,414.34L790.00,414.34A2.35,2.35 0 0 1 790.00,418.13L790.00,418.13A2.35,2.35 0 0 1 790.00,421.93L790.00,421.93A2.35,2.35 0 0 1 790.00,425.72L790.00,425.72A2.35,2.35 0 0 1 790.00,429.52L790.00,429.52A2.35,2.35 0 0 1 790.00,433.31L790.00,433.31A2.35,2.35 0 0 1 790.00,437.11L790.00,437.11A2.35,2.35 0 0 1 790.00,440.90L790.00,440.90A2.35,2.35 0 0 1 790.00,444.70L790.23,444.13A1.75,1.75 0 0 1 788.23,446.13L788.80,445.90A2.46,2.46 0 0 1 784.83,445.90L784.83,445.90A2.46,2.46 0 0 1 780.86,445.90L780.86,445.90A2.46,2.46 0 0 1 776.89,445.90L776.89,445.90A2.46,2.46 0 0 1 772.91,445.90L772.91,445.90A2.46,2.46 0 0 1 768.94,445.90L768.94,445.90A2.46,2.46 0 0 1 764.97,445.90L764.97,445.90A2.46,2.46 0 0 1 761.00,445.90L761.57,446.13A1.75,1.75 0 0 1 759.57,444.13L759.80,444.69A2.36,2.36 0 0 1 759.77,440.89L759.77,440.89A2.36,2.36 0 0 1 759.74,437.08L759.74,437.08A2.36,2.36 0 0 1 759.71,433.27L759.71,433.27A2.36,2.36 0 0 1 759.67,429.47L759.67,429.47A2.36,2.36 0 0 1 759.64,425.66L759.64,425.66A2.36,2.36 0 0 1 759.61,421.86L759.61,421.86A2.36,2.36 0 0 1 759.58,418.05L759.58,418.05A2.36,2.36 0 0 1 759.55,414.24L759.55,414.24A2.36,2.36 0 0 1 759.52,410.44L759.52,410.44A2.36,2.36 0 0 1 759.49,406.63L759.49,406.63A2.36,2.36 0 0 1 759.46,402.82L759.46,402.82A2.36,2.36 0 0 1 759.42,399.02L759.42,399.02A2.36,2.36 0 0 1 759.39,395.21L759.39,395.21A2.36,2.36 0 0 1 759.36,391.41L759.36,391.41A2.36,2.36 0 0 1 759.33,387.60L759.33,387.60A2.36,2.36 0 0 1 759.30,383.79L759.30,383.79A2.36,2.36 0 0 1 759.27,379.99L759.27,379.99A2.36,2.36 0 0 1 759.24,376.18L759.24,376.18A2.36,2.36 0 0 1 759.21,372.37L759.21,372.37A2.36,2.36 0 0 1 759.17,368.57L759.17,368.57A2.36,2.36 0 0 1 759.14,364.76L759.14,364.76A2.36,2.36 0 0 1 759.11,360.96L759.11,360.96A2.36,2.36 0 0 1 759.08,357.15L759.08,357.15A2.36,2.36 0 0 1 759.05,353.34L759.05,353.34A2.36,2.36 0 0 1 759.02,349.54L759.02,349.54A2.36,2.36 0 0 1 758.99,345.73L758.99,345.73A2.36,2.36 0 0 1 758.96,341.92L758.96,341.92A2.36,2.36 0 0 1 758.92,338.12L758.92,338.12A2.36,2.36 0 0 1 758.89,334.31L758.89,334.31A2.36,2.36 0 0 1 758.86,330.51L758.86,330.51A2.36,2.36 0 0 1 758.83,326.70L758.83,326.70A2.36,2.36 0 0 1 758.80,322.89L758.80,322.89A2.36,2.36 0 0 1 758.77,319.09L758.77,319.09A2.36,2.36 0 0 1 758.74,315.28L758.74,315.28A2.36,2.36 0 0 1 758.71,311.47L758.71,311.47A2.36,2.36 0 0 1 758.67,307.67L758.67,307.67A2.36,2.36 0 0 1 758.64,303.86L758.64,303.86A2.36,2.36 0 0 1 758.61,300.06L758.61,300.06A2.36,2.36 0 0 1 758.58,296.25L758.58,296.25A2.36,2.36 0 0 1 758.55,292.44L758.55,292.44A2.36,2.36 0 0 1 758.52,288.64L758.52,288.64A2.36,2.36 0 0 1 758.49,284.83L758.49,284.83A2.36,2.36 0 0 1 758.46,281.02L758.46,281.02A2.36,2.36 0 0 1 758.42,277.22L758.42,277.22A2.36,2.36 0 0 1 758.39,273.41L758.39,273.41A2.36,2.36 0 0 1 758.36,269.61L758.36,269.61A2.36,2.36 0 0 1 758.33,265.80L758.33,265.80A2.36,2.36 0 0 1 758.30,261.99L758.30,262.00A2.34,2.34 0 0 1 758.30,258.22L758.30,258.22A2.34,2.34 0 0 1 758.30,254.44L758.30,254.44A2.34,2.34 0 0 1 758.30,250.66L758.30,250.66A2.34,2.34 0 0 1 758.30,246.88L758.30,246.88A2.34,2.34 0 0 1 758.30,243.10L758.30,243.10A2.34,2.34 0 0 1 758.30,239.32L758.30,239.32A2.34,2.34 0 0 1 758.30,235.54L758.30,235.54A2.34,2.34 0 0 1 758.30,231.76L758.30,231.76A2.34,2.34 0 0 1 758.30,227.98L758.30,227.98A2.34,2.34 0 0 1 758.30,224.20L758.30,224.20A2.34,2.34 0 0 1 758.30,220.42L758.30,220.42A2.34,2.34 0 0 1 758.30,216.64L758.30,216.64A2.34,2.34 0 0 1 758.30,212.86L758.30,212.86A2.34,2.34 0 0 1 758.30,209.08L758.30,209.08A2.34,2.34 0 0 1 758.30,205.30L758.30,205.30A2.34,2.34 0 0 1 758.30,201.52L758.30,201.52A2.34,2.34 0 0 1 758.30,197.74L758.30,197.74A2.34,2.34 0 0 1 758.30,193.96L758.30,193.96A2.34,2.34 0 0 1 758.30,190.18L758.30,190.18A2.34,2.34 0 0 1 758.30,186.40L758.30,186.40A2.34,2.34 0 0 1 758.30,182.62L758.30,182.62A2.34,2.34 0 0 1 758.30,178.84L758.30,178.84A2.34,2.34 0 0 1 758.30,175.06L758.30,175.06A2.34,2.34 0 0 1 758.30,171.28L758.30,171.28A2.34,2.34 0 0 1 758.30,167.50L758.30,167.50A2.34,2.34 0 0 1 758.30,163.72L758.30,163.72A2.34,2.34 0 0 1 758.30,159.94L758.30,159.94A2.34,2.34 0 0 1 758.30,156.16L758.30,156.16A2.34,2.34 0 0 1 758.30,152.38L758.30,152.38A2.34,2.34 0 0 1 758.30,148.60L758.30,148.60A2.34,2.34 0 0 1 758.30,144.82L758.30,144.82A2.34,2.34 0 0 1 758.30,141.04L758.30,141.04A2.34,2.34 0 0 1 758.30,137.26L758.30,137.26A2.34,2.34 0 0 1 758.30,133.48L758.30,133.48A2.34,2.34 0 0 1 758.30,129.70L758.30,129.70A2.34,2.34 0 0 1 758.30,125.92L758.30,125.92A2.34,2.34 0 0 1 758.30,122.14L758.30,122.14A2.34,2.34 0 0 1 758.30,118.36L758.30,118.36A2.34,2.34 0 0 1 758.30,114.58L758.30,114.58A2.34,2.34 0 0 1 758.30,110.80L758.07,111.37A1.75,1.75 0 0 1 760.07,109.37Z" fill="none" stroke="#484848" stroke-width="1.0" stroke-linejoin="round"/>
<path d="M834.70,232.50A2.34,2.34 0 0 1 838.48,232.50L838.48,232.50A2.34,2.34 0 0 1 842.26,232.50L842.26,232.50A2.34,2.34 0 0 1 846.04,232.50L846.04,232.50A2.34,2.34 0 0 1 849.82,232.50L849.82,232.50A2.34,2.34 0 0 1 853.60,232.50L853.03,232.27A1.93,1.93 0 0 1 855.23,234.47L855.00,233.90A2.33,2.33 0 0 1 855.00,237.66L855.00,237.66A2.33,2.33 0 0 1 855.00,241.42L855.00,241.42A2.33,2.33 0 0 1 855.00,245.18L855.00,245.18A2.33,2.33 0 0 1 855.00,248.94L855.00,248.94A2.33,2.33 0 0 1 855.00,252.70L855.00,252.70A2.33,2.33 0 0 1 855.00,256.46L855.00,256.46A2.33,2.33 0 0 1 855.00,260.22L855.00,260.22A2.33,2.33 0 0 1 855.00,263.99L855.00,263.99A2.33,2.33 0 0 1 855.00,267.75L855.00,267.75A2.33,2.33 0 0 1 855.00,271.51L855.00,271.51A2.33,2.33 0 0 1 855.00,275.27L855.00,275.27A2.33,2.33 0 0 1 855.00,279.03L855.00,279.03A2.33,2.33 0 0 1 855.00,282.79L855.00,282.79A2.33,2.33 0 0 1 855.00,286.55L855.00,286.55A2.33,2.33 0 0 1 855.00,290.31L855.00,290.31A2.33,2.33 0 0 1 855.00,294.07L855.00,294.07A2.33,2.33 0 0 1 855.00,297.83L855.00,297.83A2.33,2.33 0 0 1 855.00,301.59L855.00,301.59A2.33,2.33 0 0 1 855.00,305.35L855.00,305.35A2.33,2.33 0 0 1 855.00,309.11L855.00,309.11A2.33,2.33 0 0 1 855.00,312.88L855.00,312.88A2.33,2.33 0 0 1 855.00,316.64L855.00,316.64A2.33,2.33 0 0 1 855.00,320.40L855.00,320.40A2.33,2.33 0 0 1 855.00,324.16L855.00,324.16A2.33,2.33 0 0 1 855.00,327.92L855.00,327.92A2.33,2.33 0 0 1 855.00,331.68L855.00,331.68A2.33,2.33 0 0 1 855.00,335.44L855.00,335.44A2.33,2.33 0 0 1 855.00,339.20L855.00,339.20A2.33,2.33 0 0 1 855.00,342.96L855.00,342.96A2.33,2.33 0 0 1 855.00,346.72L855.00,346.72A2.33,2.33 0 0 1 855.00,350.48L855.00,350.48A2.33,2.33 0 0 1 855.00,354.24L855.00,354.24A2.33,2.33 0 0 1 855.00,358.00L855.00,358.00A2.33,2.33 0 0 1 855.00,361.76L855.00,361.76A2.33,2.33 0 0 1 855.00,365.52L855.00,365.52A2.33,2.33 0 0 1 855.00,369.29L855.00,369.29A2.33,2.33 0 0 1 855.00,373.05L855.00,373.05A2.33,2.33 0 0 1 855.00,376.81L855.00,376.81A2.33,2.33 0 0 1 855.00,380.57L855.00,380.57A2.33,2.33 0 0 1 855.00,384.33L855.00,384.33A2.33,2.33 0 0 1 855.00,388.09L855.00,388.09A2.33,2.33 0 0 1 855.00,391.85L855.00,391.85A2.33,2.33 0 0 1 855.00,395.61L855.00,395.61A2.33,2.33 0 0 1 855.00,399.37L855.00,399.37A2.33,2.33 0 0 1 855.00,403.13L855.00,403.13A2.33,2.33 0 0 1 855.00,406.89L855.00,406.89A2.33,2.33 0 0 1 855.00,410.65L855.00,410.65A2.33,2.33 0 0 1 855.00,414.41L855.00,414.41A2.33,2.33 0 0 1 855.00,418.18L855.00,418.18A2.33,2.33 0 0 1 855.00,421.94L855.00,421.94A2.33,2.33 0 0 1 855.00,425.70L855.00,425.70A2.33,2.33 0 0 1 855.00,429.46L855.00,429.46A2.33,2.33 0 0 1 855.00,433.22L855.00,433.22A2.33,2.33 0 0 1 855.00,436.98L855.00,436.98A2.33,2.33 0 0 1 855.00,440.74L855.00,440.74A2.33,2.33 0 0 1 855.00,444.50L855.23,443.93A1.93,1.93 0 0 1 853.03,446.13L853.60,445.90A2.34,2.34 0 0 1 849.82,445.90L849.82,445.90A2.34,2.34 0 0 1 846.04,445.90L846.04,445.90A2.34,2.34 0 0 1 842.26,445.90L842.26,445.90A2.34,2.34 0 0 1 838.48,445.90L838.48,445.90A2.34,2.34 0 0 1 834.70,445.90L835.27,446.13A1.93,1.93 0 0 1 833.07,443.93L833.30,444.50A2.33,2.33 0 0 1 833.30,440.74L833.30,440.74A2.33,2.33 0 0 1 833.30,436.98L833.30,436.98A2.33,2.33 0 0 1 833.30,433.22L833.30,433.22A2.33,2.33 0 0 1 833.30,429.46L833.30,429.46A2.33,2.33 0 0 1 833.30,425.70L833.30,425.70A2.33,2.33 0 0 1 833.30,421.94L833.30,421.94A2.33,2.33 0 0 1 833.30,418.18L833.30,418.18A2.33,2.33 0 0 1 833.30,414.41L833.30,414.41A2.33,2.33 0 0 1 833.30,410.65L833.30,410.65A2.33,2.33 0 0 1 833.30,406.89L833.30,406.89A2.33,2.33 0 0 1 833.30,403.13L833.30,403.13A2.33,2.33 0 0 1 833.30,399.37L833.30,399.37A2.33,2.33 0 0 1 833.30,395.61L833.30,395.61A2.33,2.33 0 0 1 833.30,391.85L833.30,391.85A2.33,2.33 0 0 1 833.30,388.09L833.30,388.09A2.33,2.33 0 0 1 833.30,384.33L833.30,384.33A2.33,2.33 0 0 1 833.30,380.57L833.30,380.57A2.33,2.33 0 0 1 833.30,376.81L833.30,376.81A2.33,2.33 0 0 1 833.30,373.05L833.30,373.05A2.33,2.33 0 0 1 833.30,369.29L833.30,369.29A2.33,2.33 0 0 1 833.30,365.52L833.30,365.52A2.33,2.33 0 0 1 833.30,361.76L833.30,361.76A2.33,2.33 0 0 1 833.30,358.00L833.30,358.00A2.33,2.33 0 0 1 833.30,354.24L833.30,354.24A2.33,2.33 0 0 1 833.30,350.48L833.30,350.48A2.33,2.33 0 0 1 833.30,346.72L833.30,346.72A2.33,2.33 0 0 1 833.30,342.96L833.30,342.96A2.33,2.33 0 0 1 833.30,339.20L833.30,339.20A2.33,2.33 0 0 1 833.30,335.44L833.30,335.44A2.33,2.33 0 0 1 833.30,331.68L833.30,331.68A2.33,2.33 0 0 1 833.30,327.92L833.30,327.92A2.33,2.33 0 0 1 833.30,324.16L833.30,324.16A2.33,2.33 0 0 1 833.30,320.40L833.30,320.40A2.33,2.33 0 0 1 833.30,316.64L833.30,316.64A2.33,2.33 0 0 1 833.30,312.88L833.30,312.88A2.33,2.33 0 0 1 833.30,309.11L833.30,309.11A2.33,2.33 0 0 1 833.30,305.35L833.30,305.35A2.33,2.33 0 0 1 833.30,301.59L833.30,301.59A2.33,2.33 0 0 1 833.30,297.83L833.30,297.83A2.33,2.33 0 0 1 833.30,294.07L833.30,294.07A2.33,2.33 0 0 1 833.30,290.31L833.30,290.31A2.33,2.33 0 0 1 833.30,286.55L833.30,286.55A2.33,2.33 0 0 1 833.30,282.79L833.30,282.79A2.33,2.33 0 0 1 833.30,279.03L833.30,279.03A2.33,2.33 0 0 1 833.30,275.27L833.30,275.27A2.33,2.33 0 0 1 833.30,271.51L833.30,271.51A2.33,2.33 0 0 1 833.30,267.75L833.30,267.75A2.33,2.33 0 0 1 833.30,263.99L833.30,263.99A2.33,2.33 0 0 1 833.30,260.22L833.30,260.22A2.33,2.33 0 0 1 833.30,256.46L833.30,256.46A2.33,2.33 0 0 1 833.30,252.70L833.30,252.70A2.33,2.33 0 0 1 833.30,248.94L833.30,248.94A2.33,2.33 0 0 1 833.30,245.18L833.30,245.18A2.33,2.33 0 0 1 833.30,241.42L833.30,241.42A2.33,2.33 0 0 1 833.30,237.66L833.30,237.66A2.33,2.33 0 0 1 833.30,233.90L833.07,234.47A1.93,1.93 0 0 1 835.27,232.27Z" fill="none" stroke="#484848" stroke-width="1.0" stroke-linejoin="round"/>
<path d="M634.00,310.80A2.32,2.32 0 0 1 637.74,310.80L637.74,310.80A2.32,2.32 0 0 1 641.48,310.80L641.48,310.80A2.32,2.32 0 0 1 645.23,310.80L645.23,310.80A2.32,2.32 0 0 1 648.97,310.80L648.97,310.80A2.32,2.32 0 0 1 652.71,310.80L652.71,310.80A2.32,2.32 0 0 1 656.45,310.80L656.45,310.80A2.32,2.32 0 0 1 660.20,310.80L660.20,310.80A2.32,2.32 0 0 1 663.94,310.80L663.94,310.80A2.32,2.32 0 0 1 667.68,310.80L667.68,310.80A2.32,2.32 0 0 1 671.42,310.80L671.42,310.80A2.32,2.32 0 0 1 675.17,310.80L675.17,310.80A2.32,2.32 0 0 1 678.91,310.80L678.91,310.80A2.32,2.32 0 0 1 682.65,310.80L682.65,310.80A2.32,2.32 0 0 1 686.39,310.80L686.39,310.80A2.32,2.32 0 0 1 690.14,310.80L690.14,310.80A2.32,2.32 0 0 1 693.88,310.80L693.88,310.80A2.32,2.32 0 0 1 697.62,310.80L697.62,310.80A2.32,2.32 0 0 1 701.36,310.80L701.36,310.80A2.32,2.32 0 0 1 705.11,310.80L705.11,310.80A2.32,2.32 0 0 1 708.85,310.80L708.85,310.80A2.32,2.32 0 0 1 712.59,310.80L712.59,310.80A2.32,2.32 0 0 1 716.33,310.80L716.33,310.80A2.32,2.32 0 0 1 720.08,310.80L720.08,310.80A2.32,2.32 0 0 1 723.82,310.80L723.82,310.80A2.32,2.32 0 0 1 727.56,310.80L727.56,310.80A2.32,2.32 0 0 1 731.30,310.80L731.30,310.80A2.32,2.32 0 0 1 735.05,310.80L735.05,310.80A2.32,2.32 0 0 1 738.79,310.80L738.79,310.80A2.32,2.32 0 0 1 742.53,310.80L742.53,310.80A2.32,2.32 0 0 1 746.27,310.80L746.27,310.80A2.32,2.32 0 0 1 750.02,310.80L750.02,310.80A2.32,2.32 0 0 1 753.76,310.80L753.76,310.80A2.32,2.32 0 0 1 757.50,310.80L756.70,310.01A2.36,2.36 0 0 1 756.74,313.82L756.74,313.82A2.36,2.36 0 0 1 756.78,317.63L756.78,317.63A2.36,2.36 0 0 1 756.83,321.44L756.83,321.44A2.36,2.36 0 0 1 756.87,325.25L756.87,325.25A2.36,2.36 0 0 1 756.91,329.06L756.91,329.06A2.36,2.36 0 0 1 756.95,332.86L756.95,332.86A2.36,2.36 0 0 1 756.99,336.67L756.99,336.67A2.36,2.36 0 0 1 757.03,340.48L757.03,340.48A2.36,2.36 0 0 1 757.08,344.29L757.08,344.29A2.36,2.36 0 0 1 757.12,348.10L757.12,348.10A2.36,2.36 0 0 1 757.16,351.91L757.16,351.91A2.36,2.36 0 0 1 757.20,355.72L757.20,355.72A2.36,2.36 0 0 1 757.24,359.53L757.24,359.53A2.36,2.36 0 0 1 757.29,363.34L757.29,363.34A2.36,2.36 0 0 1 757.33,367.15L757.33,367.15A2.36,2.36 0 0 1 757.37,370.96L757.37,370.96A2.36,2.36 0 0 1 757.41,374.77L757.41,374.77A2.36,2.36 0 0 1 757.45,378.58L757.45,378.58A2.36,2.36 0 0 1 757.50,382.39L757.50,382.39A2.36,2.36 0 0 1 757.54,386.19L757.54,386.19A2.36,2.36 0 0 1 757.58,390.00L757.58,390.00A2.36,2.36 0 0 1 757.62,393.81L757.62,393.81A2.36,2.36 0 0 1 757.66,397.62L757.66,397.62A2.36,2.36 0 0 1 757.70,401.43L757.70,401.43A2.36,2.36 0 0 1 757.75,405.24L757.75,405.24A2.36,2.36 0 0 1 757.79,409.05L757.79,409.05A2.36,2.36 0 0 1 757.83,412.86L757.83,412.86A2.36,2.36 0 0 1 757.87,416.67L757.87,416.67A2.36,2.36 0 0 1 757.91,420.48L757.91,420.48A2.36,2.36 0 0 1 757.96,424.29L757.96,424.29A2.36,2.36 0 0 1 758.00,428.10L758.00,428.10A2.36,2.36 0 0 1 758.04,431.91L758.04,431.91A2.36,2.36 0 0 1 758.08,435.72L758.08,435.72A2.36,2.36 0 0 1 758.12,439.53L758.12,439.53A2.36,2.36 0 0 1 758.17,443.33L758.17,443.33A2.36,2.36 0 0 1 758.21,447.14L758.21,447.14A2.36,2.36 0 0 1 758.25,450.95L758.25,450.95A2.36,2.36 0 0 1 758.29,454.76L758.29,454.76A2.36,2.36 0 0 1 758.33,458.57L758.33,458.57A2.36,2.36 0 0 1 758.37,462.38L758.37,462.38A2.36,2.36 0 0 1 758.42,466.19L758.42,466.19A2.36,2.36 0 0 1 758.46,470.00L758.46,470.00A2.36,2.36 0 0 1 758.50,473.81L758.73,473.23A1.75,1.75 0 0 1 756.73,475.23L757.30,475.00A2.32,2.32 0 0 1 753.55,475.00L753.55,475.00A2.32,2.32 0 0 1 749.81,475.00L749.81,475.00A2.32,2.32 0 0 1 746.06,475.00L746.06,475.00A2.32,2.32 0 0 1 742.31,475.00L742.31,475.00A2.32,2.32 0 0 1 738.57,475.00L738.57,475.00A2.32,2.32 0 0 1 734.82,475.00L734.82,475.00A2.32,2.32 0 0 1 731.07,475.00L731.07,475.00A2.32,2.32 0 0 1 727.33,475.00L727.33,475.00A2.32,2.32 0 0 1 723.58,475.00L723.58,475.00A2.32,2.32 0 0 1 719.84,475.00L719.84,475.00A2.32,2.32 0 0 1 716.09,475.00L716.09,475.00A2.32,2.32 0 0 1 712.34,475.00L712.34,475.00A2.32,2.32 0 0 1 708.60,475.00L708.60,475.00A2.32,2.32 0 0 1 704.85,475.00L704.85,475.00A2.32,2.32 0 0 1 701.10,475.00L701.10,475.00A2.32,2.32 0 0 1 697.36,475.00L697.36,475.00A2.32,2.32 0 0 1 693.61,475.00L693.61,475.00A2.32,2.32 0 0 1 689.86,475.00L689.86,475.00A2.32,2.32 0 0 1 686.12,475.00L686.12,475.00A2.32,2.32 0 0 1 682.37,475.00L682.37,475.00A2.32,2.32 0 0 1 678.62,475.00L678.62,475.00A2.32,2.32 0 0 1 674.88,475.00L674.88,475.00A2.32,2.32 0 0 1 671.13,475.00L671.13,475.00A2.32,2.32 0 0 1 667.39,475.00L667.39,475.00A2.32,2.32 0 0 1 663.64,475.00L663.64,475.00A2.32,2.32 0 0 1 659.89,475.00L659.89,475.00A2.32,2.32 0 0 1 656.15,475.00L656.15,475.00A2.32,2.32 0 0 1 652.40,475.00L652.40,475.00A2.32,2.32 0 0 1 648.65,475.00L648.65,475.00A2.32,2.32 0 0 1 644.91,475.00L644.91,475.00A2.32,2.32 0 0 1 641.16,475.00L641.16,475.00A2.32,2.32 0 0 1 637.41,475.00L637.41,475.00A2.32,2.32 0 0 1 633.67,475.00L633.67,475.00A2.32,2.32 0 0 1 629.92,475.00L629.92,475.00A2.32,2.32 0 0 1 626.17,475.00L626.17,475.00A2.32,2.32 0 0 1 622.43,475.00L622.43,475.00A2.32,2.32 0 0 1 618.68,475.00L618.68,475.00A2.32,2.32 0 0 1 614.94,475.00L614.94,475.00A2.32,2.32 0 0 1 611.19,475.00L611.19,475.00A2.32,2.32 0 0 1 607.44,475.00L607.44,475.00A2.32,2.32 0 0 1 603.70,475.00L603.70,475.00A2.32,2.32 0 0 1 599.95,475.00L599.95,475.00A2.32,2.32 0 0 1 596.20,475.00L596.20,475.00A2.32,2.32 0 0 1 592.46,475.00L592.46,475.00A2.32,2.32 0 0 1 588.71,475.00L588.71,475.00A2.32,2.32 0 0 1 584.96,475.00L584.96,475.00A2.32,2.32 0 0 1 581.22,475.00L581.22,475.00A2.32,2.32 0 0 1 577.47,475.00L577.47,475.00A2.32,2.32 0 0 1 573.73,475.00L573.73,475.00A2.32,2.32 0 0 1 569.98,475.00L569.98,475.00A2.32,2.32 0 0 1 566.23,475.00L566.23,475.00A2.32,2.32 0 0 1 562.49,475.00L562.49,475.00A2.32,2.32 0 0 1 558.74,475.00L558.74,475.00A2.32,2.32 0 0 1 554.99,475.00L554.99,475.00A2.32,2.32 0 0 1 551.25,475.00L551.25,475.00A2.32,2.32 0 0 1 547.50,475.00L548.07,475.23A1.75,1.75 0 0 1 546.07,473.23L546.30,473.80A2.36,2.36 0 0 1 546.30,469.99L546.30,469.99A2.36,2.36 0 0 1 546.30,466.19L546.30,466.19A2.36,2.36 0 0 1 546.30,462.38L546.30,462.38A2.36,2.36 0 0 1 546.30,458.57L546.30,458.57A2.36,2.36 0 0 1 546.30,454.77L546.30,454.77A2.36,2.36 0 0 1 546.30,450.96L546.30,450.96A2.36,2.36 0 0 1 546.30,447.16L546.30,447.16A2.36,2.36 0 0 1 546.30,443.35L546.30,443.35A2.36,2.36 0 0 1 546.30,439.54L546.30,439.54A2.36,2.36 0 0 1 546.30,435.74L546.30,435.74A2.36,2.36 0 0 1 546.30,431.93L546.30,431.93A2.36,2.36 0 0 1 546.30,428.12L546.30,428.12A2.36,2.36 0 0 1 546.30,424.32L546.30,424.32A2.36,2.36 0 0 1 546.30,420.51L546.30,420.51A2.36,2.36 0 0 1 546.30,416.71L546.30,416.71A2.36,2.36 0 0 1 546.30,412.90L546.30,412.90A2.36,2.36 0 0 1 546.30,409.09L546.30,409.09A2.36,2.36 0 0 1 546.30,405.29L546.30,405.29A2.36,2.36 0 0 1 546.30,401.48L546.30,401.48A2.36,2.36 0 0 1 546.30,397.68L546.30,397.68A2.36,2.36 0 0 1 546.30,393.87L546.30,393.87A2.36,2.36 0 0 1 546.30,390.06L546.30,390.06A2.36,2.36 0 0 1 546.30,386.26L546.30,386.26A2.36,2.36 0 0 1 546.30,382.45L546.30,382.45A2.36,2.36 0 0 1 546.30,378.64L546.30,378.64A2.36,2.36 0 0 1 546.30,374.84L546.30,374.84A2.36,2.36 0 0 1 546.30,371.03L546.30,371.03A2.36,2.36 0 0 1 546.30,367.23L546.30,367.23A2.36,2.36 0 0 1 546.30,363.42L546.30,363.42A2.36,2.36 0 0 1 546.30,359.61L546.30,359.61A2.36,2.36 0 0 1 546.30,355.81L546.30,355.81A2.36,2.36 0 0 1 546.30,352.00L546.07,352.57A1.75,1.75 0 0 1 548.07,350.57L547.50,350.80A2.33,2.33 0 0 1 551.25,350.80L551.25,350.80A2.33,2.33 0 0 1 555.00,350.80L555.00,350.80A2.33,2.33 0 0 1 558.75,350.80L558.75,350.80A2.33,2.33 0 0 1 562.50,350.80L562.50,350.80A2.33,2.33 0 0 1 566.25,350.80L566.25,350.80A2.33,2.33 0 0 1 570.00,350.80L570.00,350.80A2.33,2.33 0 0 1 573.75,350.80L573.75,350.80A2.33,2.33 0 0 1 577.50,350.80L577.50,350.80A2.33,2.33 0 0 1 581.25,350.80L581.25,350.80A2.33,2.33 0 0 1 585.00,350.80L585.00,350.80A2.33,2.33 0 0 1 588.75,350.80L588.75,350.80A2.33,2.33 0 0 1 592.50,350.80L592.50,350.80A2.33,2.33 0 0 1 596.25,350.80L596.25,350.80A2.33,2.33 0 0 1 600.00,350.80L600.00,350.80A2.33,2.33 0 0 1 603.75,350.80L603.75,350.80A2.33,2.33 0 0 1 607.50,350.80L607.50,350.80A2.33,2.33 0 0 1 611.25,350.80L611.25,350.80A2.33,2.33 0 0 1 615.00,350.80L615.00,350.80A2.33,2.33 0 0 1 618.75,350.80L618.75,350.80A2.33,2.33 0 0 1 622.50,350.80L622.50,350.80A2.33,2.33 0 0 1 626.25,350.80L626.25,350.80A2.33,2.33 0 0 1 630.00,350.80L630.57,350.57A1.75,1.75 0 0 1 632.57,348.57L632.80,348.00A2.23,2.23 0 0 1 632.80,344.40L632.80,344.40A2.23,2.23 0 0 1 632.80,340.80L632.80,340.80A2.23,2.23 0 0 1 632.80,337.20L632.80,337.20A2.23,2.23 0 0 1 632.80,333.60L632.80,333.60A2.23,2.23 0 0 1 632.80,330.00L632.80,330.00A2.23,2.23 0 0 1 632.80,326.40L632.80,326.40A2.23,2.23 0 0 1 632.80,322.80L632.80,322.80A2.23,2.23 0 0 1 632.80,319.20L632.80,319.20A2.23,2.23 0 0 1 632.80,315.60L632.80,315.60A2.23,2.23 0 0 1 632.80,312.00L632.57,312.57A1.75,1.75 0 0 1 634.57,310.57Z" fill="none" stroke="#484848" stroke-width="1.0" stroke-linejoin="round"/>
<path d="M653.50,210.50A2.35,2.35 0 0 1 657.30,210.50L657.30,210.50A2.35,2.35 0 0 1 661.09,210.50L661.09,210.50A2.35,2.35 0 0 1 664.89,210.50L664.89,210.50A2.35,2.35 0 0 1 668.69,210.50L668.69,210.50A2.35,2.35 0 0 1 672.48,210.50L672.48,210.50A2.35,2.35 0 0 1 676.28,210.50L676.28,210.50A2.35,2.35 0 0 1 680.08,210.50L680.08,210.50A2.35,2.35 0 0 1 683.87,210.50L683.87,210.50A2.35,2.35 0 0 1 687.67,210.50L687.67,210.50A2.35,2.35 0 0 1 691.47,210.50L691.47,210.50A2.35,2.35 0 0 1 695.26,210.50L695.26,210.50A2.35,2.35 0 0 1 699.06,210.50L699.06,210.50A2.35,2.35 0 0 1 702.86,210.50L702.86,210.50A2.35,2.35 0 0 1 706.65,210.50L706.65,210.50A2.35,2.35 0 0 1 710.45,210.50L710.45,210.50A2.35,2.35 0 0 1 714.24,210.50L714.24,210.50A2.35,2.35 0 0 1 718.04,210.50L718.04,210.50A2.35,2.35 0 0 1 721.84,210.50L721.84,210.50A2.35,2.35 0 0 1 725.63,210.50L725.63,210.50A2.35,2.35 0 0 1 729.43,210.50L729.43,210.50A2.35,2.35 0 0 1 733.23,210.50L733.23,210.50A2.35,2.35 0 0 1 737.02,210.50L737.02,210.50A2.35,2.35 0 0 1 740.82,210.50L740.82,210.50A2.35,2.35 0 0 1 744.62,210.50L744.62,210.50A2.35,2.35 0 0 1 748.41,210.50L748.41,210.50A2.35,2.35 0 0 1 752.21,210.50L752.21,210.50A2.35,2.35 0 0 1 756.01,210.50L756.01,210.50A2.35,2.35 0 0 1 759.80,210.50L759.80,210.50A2.35,2.35 0 0 1 763.60,210.50L763.03,210.27A1.93,1.93 0 0 1 765.23,212.47L765.00,211.90A2.28,2.28 0 0 1 765.00,215.58L765.00,215.58A2.28,2.28 0 0 1 765.00,219.27L765.00,219.27A2.28,2.28 0 0 1 765.00,222.95L765.00,222.95A2.28,2.28 0 0 1 765.00,226.64L765.00,226.64A2.28,2.28 0 0 1 765.00,230.32L765.00,230.32A2.28,2.28 0 0 1 765.00,234.01L765.00,234.01A2.28,2.28 0 0 1 765.00,237.69L765.00,237.69A2.28,2.28 0 0 1 765.00,241.38L765.00,241.38A2.28,2.28 0 0 1 765.00,245.06L765.00,245.06A2.28,2.28 0 0 1 765.00,248.75L765.00,248.75A2.28,2.28 0 0 1 765.00,252.43L765.00,252.43A2.28,2.28 0 0 1 765.00,256.12L765.00,256.12A2.28,2.28 0 0 1 765.00,259.80L765.23,259.23A1.93,1.93 0 0 1 763.03,261.43L763.60,261.20A2.35,2.35 0 0 1 759.80,261.20L759.80,261.20A2.35,2.35 0 0 1 756.01,261.20L756.01,261.20A2.35,2.35 0 0 1 752.21,261.20L752.21,261.20A2.35,2.35 0 0 1 748.41,261.20L748.41,261.20A2.35,2.35 0 0 1 744.62,261.20L744.62,261.20A2.35,2.35 0 0 1 740.82,261.20L740.82,261.20A2.35,2.35 0 0 1 737.02,261.20L737.02,261.20A2.35,2.35 0 0 1 733.23,261.20L733.23,261.20A2.35,2.35 0 0 1 729.43,261.20L729.43,261.20A2.35,2.35 0 0 1 725.63,261.20L725.63,261.20A2.35,2.35 0 0 1 721.84,261.20L721.84,261.20A2.35,2.35 0 0 1 718.04,261.20L718.04,261.20A2.35,2.35 0 0 1 714.24,261.20L714.24,261.20A2.35,2.35 0 0 1 710.45,261.20L710.45,261.20A2.35,2.35 0 0 1 706.65,261.20L706.65,261.20A2.35,2.35 0 0 1 702.86,261.20L702.86,261.20A2.35,2.35 0 0 1 699.06,261.20L699.06,261.20A2.35,2.35 0 0 1 695.26,261.20L695.26,261.20A2.35,2.35 0 0 1 691.47,261.20L691.47,261.20A2.35,2.35 0 0 1 687.67,261.20L687.67,261.20A2.35,2.35 0 0 1 683.87,261.20L683.87,261.20A2.35,2.35 0 0 1 680.08,261.20L680.08,261.20A2.35,2.35 0 0 1 676.28,261.20L676.28,261.20A2.35,2.35 0 0 1 672.48,261.20L672.48,261.20A2.35,2.35 0 0 1 668.69,261.20L668.69,261.20A2.35,2.35 0 0 1 664.89,261.20L664.89,261.20A2.35,2.35 0 0 1 661.09,261.20L661.09,261.20A2.35,2.35 0 0 1 657.30,261.20L657.30,261.20A2.35,2.35 0 0 1 653.50,261.20L654.07,261.43A1.93,1.93 0 0 1 651.87,259.23L652.10,259.80A2.28,2.28 0 0 1 652.10,256.12L652.10,256.12A2.28,2.28 0 0 1 652.10,252.43L652.10,252.43A2.28,2.28 0 0 1 652.10,248.75L652.10,248.75A2.28,2.28 0 0 1 652.10,245.06L652.10,245.06A2.28,2.28 0 0 1 652.10,241.38L652.10,241.38A2.28,2.28 0 0 1 652.10,237.69L652.10,237.69A2.28,2.28 0 0 1 652.10,234.01L652.10,234.01A2.28,2.28 0 0 1 652.10,230.32L652.10,230.32A2.28,2.28 0 0 1 652.10,226.64L652.10,226.64A2.28,2.28 0 0 1 652.10,222.95L652.10,222.95A2.28,2.28 0 0 1 652.10,219.27L652.10,219.27A2.28,2.28 0 0 1 652.10,215.58L652.10,215.58A2.28,2.28 0 0 1 652.10,211.90L651.87,212.47A1.93,1.93 0 0 1 654.07,210.27Z" fill="none" stroke="#484848" stroke-width="1.0" stroke-linejoin="round"/>
<path d="M788.00,206.60A2.49,2.49 0 0 1 792.01,206.60L792.01,206.60A2.49,2.49 0 0 1 796.03,206.60L796.03,206.60A2.49,2.49 0 0 1 800.04,206.60L800.04,206.60A2.49,2.49 0 0 1 804.06,206.60L804.06,206.60A2.49,2.49 0 0 1 808.07,206.60L808.07,206.60A2.49,2.49 0 0 1 812.09,206.60L812.09,206.60A2.49,2.49 0 0 1 816.10,206.60L815.53,206.37A1.93,1.93 0 0 1 817.73,208.57L817.50,208.00A2.56,2.56 0 0 1 817.50,212.12L817.50,212.12A2.56,2.56 0 0 1 817.50,216.25L817.50,216.25A2.56,2.56 0 0 1 817.50,220.38L817.50,220.38A2.56,2.56 0 0 1 817.50,224.50L817.73,223.93A1.93,1.93 0 0 1 815.53,226.13L816.10,225.90A2.49,2.49 0 0 1 812.09,225.90L812.09,225.90A2.49,2.49 0 0 1 808.07,225.90L808.07,225.90A2.49,2.49 0 0 1 804.06,225.90L804.06,225.90A2.49,2.49 0 0 1 800.04,225.90L800.04,225.90A2.49,2.49 0 0 1 796.03,225.90L796.03,225.90A2.49,2.49 0 0 1 792.01,225.90L792.01,225.90A2.49,2.49 0 0 1 788.00,225.90L788.57,226.13A1.93,1.93 0 0 1 786.37,223.93L786.60,224.50A2.56,2.56 0 0 1 786.60,220.38L786.60,220.38A2.56,2.56 0 0 1 786.60,216.25L786.60,216.25A2.56,2.56 0 0 1 786.60,212.12L786.60,212.12A2.56,2.56 0 0 1 786.60,208.00L786.37,208.57A1.93,1.93 0 0 1 788.57,206.37Z" fill="none" stroke="#484848" stroke-width="1.0" stroke-linejoin="round"/>
<path d="M791.20,456.60A2.40,2.40 0 0 1 795.07,456.60L795.07,456.60A2.40,2.40 0 0 1 798.94,456.60L798.94,456.60A2.40,2.40 0 0 1 802.81,456.60L802.81,456.60A2.40,2.40 0 0 1 806.69,456.60L806.69,456.60A2.40,2.40 0 0 1 810.56,456.60L810.56,456.60A2.40,2.40 0 0 1 814.43,456.60L814.43,456.60A2.40,2.40 0 0 1 818.30,456.60L817.73,456.37A1.93,1.93 0 0 1 819.93,458.57L819.70,458.00A2.56,2.56 0 0 1 819.70,462.12L819.70,462.12A2.56,2.56 0 0 1 819.70,466.25L819.70,466.25A2.56,2.56 0 0 1 819.70,470.38L819.70,470.38A2.56,2.56 0 0 1 819.70,474.50L819.93,473.93A1.93,1.93 0 0 1 817.73,476.13L818.30,475.90A2.40,2.40 0 0 1 814.43,475.90L814.43,475.90A2.40,2.40 0 0 1 810.56,475.90L810.56,475.90A2.40,2.40 0 0 1 806.69,475.90L806.69,475.90A2.40,2.40 0 0 1 802.81,475.90L802.81,475.90A2.40,2.40 0 0 1 798.94,475.90L798.94,475.90A2.40,2.40 0 0 1 795.07,475.90L795.07,475.90A2.40,2.40 0 0 1 791.20,475.90L791.77,476.13A1.93,1.93 0 0 1 789.57,473.93L789.80,474.50A2.56,2.56 0 0 1 789.80,470.38L789.80,470.38A2.56,2.56 0 0 1 789.80,466.25L789.80,466.25A2.56,2.56 0 0 1 789.80,462.12L789.80,462.12A2.56,2.56 0 0 1 789.80,458.00L789.57,458.57A1.93,1.93 0 0 1 791.77,456.37Z" fill="none" stroke="#484848" stroke-width="1.0" stroke-linejoin="round"/>
<path d="M858.00,336.60A2.42,2.42 0 0 1 861.90,336.60L861.90,336.60A2.42,2.42 0 0 1 865.80,336.60L865.80,336.60A2.42,2.42 0 0 1 869.70,336.60L869.70,336.60A2.42,2.42 0 0 1 873.60,336.60L873.60,336.60A2.42,2.42 0 0 1 877.50,336.60L876.93,336.37A1.93,1.93 0 0 1 879.13,338.57L878.90,338.00A2.23,2.23 0 0 1 878.90,341.59L878.90,341.59A2.23,2.23 0 0 1 878.90,345.18L878.90,345.18A2.23,2.23 0 0 1 878.90,348.77L878.90,348.77A2.23,2.23 0 0 1 878.90,352.36L878.90,352.36A2.23,2.23 0 0 1 878.90,355.94L878.90,355.94A2.23,2.23 0 0 1 878.90,359.53L878.90,359.53A2.23,2.23 0 0 1 878.90,363.12L878.90,363.12A2.23,2.23 0 0 1 878.90,366.71L878.90,366.71A2.23,2.23 0 0 1 878.90,370.30L879.13,369.73A1.93,1.93 0 0 1 876.93,371.93L877.50,371.70A2.42,2.42 0 0 1 873.60,371.70L873.60,371.70A2.42,2.42 0 0 1 869.70,371.70L869.70,371.70A2.42,2.42 0 0 1 865.80,371.70L865.80,371.70A2.42,2.42 0 0 1 861.90,371.70L861.90,371.70A2.42,2.42 0 0 1 858.00,371.70L858.57,371.93A1.93,1.93 0 0 1 856.37,369.73L856.60,370.30A2.23,2.23 0 0 1 856.60,366.71L856.60,366.71A2.23,2.23 0 0 1 856.60,363.12L856.60,363.12A2.23,2.23 0 0 1 856.60,359.53L856.60,359.53A2.23,2.23 0 0 1 856.60,355.94L856.60,355.94A2.23,2.23 0 0 1 856.60,352.36L856.60,352.36A2.23,2.23 0 0 1 856.60,348.77L856.60,348.77A2.23,2.23 0 0 1 856.60,345.18L856.60,345.18A2.23,2.23 0 0 1 856.60,341.59L856.60,341.59A2.23,2.23 0 0 1 856.60,338.00L856.37,338.57A1.93,1.93 0 0 1 858.57,336.37Z" fill="none" stroke="#484848" stroke-width="1.0" stroke-linejoin="round"/>
<path d="M322.20,132.80A2.37,2.37 0 0 1 326.02,132.80L326.02,132.80A2.37,2.37 0 0 1 329.85,132.80L329.85,132.80A2.37,2.37 0 0 1 333.68,132.80L333.68,132.80A2.37,2.37 0 0 1 337.50,132.80L337.50,132.80A2.37,2.37 0 0 1 341.32,132.80L341.32,132.80A2.37,2.37 0 0 1 345.15,132.80L345.15,132.80A2.37,2.37 0 0 1 348.98,132.80L348.98,132.80A2.37,2.37 0 0 1 352.80,132.80L352.23,132.57A1.93,1.93 0 0 1 354.43,134.77L354.20,134.20A2.32,2.32 0 0 1 354.20,137.94L354.20,137.94A2.32,2.32 0 0 1 354.20,141.67L354.20,141.67A2.32,2.32 0 0 1 354.20,145.41L354.20,145.41A2.32,2.32 0 0 1 354.20,149.15L354.20,149.15A2.32,2.32 0 0 1 354.20,152.89L354.20,152.89A2.32,2.32 0 0 1 354.20,156.62L354.20,156.62A2.32,2.32 0 0 1 354.20,160.36L354.20,160.36A2.32,2.32 0 0 1 354.20,164.10L354.20,164.10A2.32,2.32 0 0 1 354.20,167.84L354.20,167.84A2.32,2.32 0 0 1 354.20,171.57L354.20,171.57A2.32,2.32 0 0 1 354.20,175.31L354.20,175.31A2.32,2.32 0 0 1 354.20,179.05L354.20,179.05A2.32,2.32 0 0 1 354.20,182.79L354.20,182.79A2.32,2.32 0 0 1 354.20,186.53L354.20,186.53A2.32,2.32 0 0 1 354.20,190.26L354.20,190.26A2.32,2.32 0 0 1 354.20,194.00L354.20,194.00A2.32,2.32 0 0 1 354.20,197.74L354.20,197.74A2.32,2.32 0 0 1 354.20,201.47L354.20,201.47A2.32,2.32 0 0 1 354.20,205.21L354.20,205.21A2.32,2.32 0 0 1 354.20,208.95L354.20,208.95A2.32,2.32 0 0 1 354.20,212.69L354.20,212.69A2.32,2.32 0 0 1 354.20,216.43L354.20,216.43A2.32,2.32 0 0 1 354.20,220.16L354.20,220.16A2.32,2.32 0 0 1 354.20,223.90L354.20,223.90A2.32,2.32 0 0 1 354.20,227.64L354.20,227.64A2.32,2.32 0 0 1 354.20,231.38L354.20,231.38A2.32,2.32 0 0 1 354.20,235.11L354.20,235.11A2.32,2.32 0 0 1 354.20,238.85L354.20,238.85A2.32,2.32 0 0 1 354.20,242.59L354.20,242.59A2.32,2.32 0 0 1 354.20,246.33L354.20,246.33A2.32,2.32 0 0 1 354.20,250.06L354.20,250.06A2.32,2.32 0 0 1 354.20,253.80L354.43,253.23A1.93,1.93 0 0 1 352.23,255.43L352.80,255.20A2.37,2.37 0 0 1 348.98,255.20L348.98,255.20A2.37,2.37 0 0 1 345.15,255.20L345.15,255.20A2.37,2.37 0 0 1 341.32,255.20L341.32,255.20A2.37,2.37 0 0 1 337.50,255.20L337.50,255.20A2.37,2.37 0 0 1 333.68,255.20L333.68,255.20A2.37,2.37 0 0 1 329.85,255.20L329.85,255.20A2.37,2.37 0 0 1 326.02,255.20L326.02,255.20A2.37,2.37 0 0 1 322.20,255.20L322.77,255.43A1.93,1.93 0 0 1 320.57,253.23L320.80,253.80A2.32,2.32 0 0 1 320.80,250.06L320.80,250.06A2.32,2.32 0 0 1 320.80,246.33L320.80,246.33A2.32,2.32 0 0 1 320.80,242.59L320.80,242.59A2.32,2.32 0 0 1 320.80,238.85L320.80,238.85A2.32,2.32 0 0 1 320.80,235.11L320.80,235.11A2.32,2.32 0 0 1 320.80,231.38L320.80,231.38A2.32,2.32 0 0 1 320.80,227.64L320.80,227.64A2.32,2.32 0 0 1 320.80,223.90L320.80,223.90A2.32,2.32 0 0 1 320.80,220.16L320.80,220.16A2.32,2.32 0 0 1 320.80,216.43L320.80,216.43A2.32,2.32 0 0 1 320.80,212.69L320.80,212.69A2.32,2.32 0 0 1 320.80,208.95L320.80,208.95A2.32,2.32 0 0 1 320.80,205.21L320.80,205.21A2.32,2.32 0 0 1 320.80,201.47L320.80,201.47A2.32,2.32 0 0 1 320.80,197.74L320.80,197.74A2.32,2.32 0 0 1 320.80,194.00L320.80,194.00A2.32,2.32 0 0 1 320.80,190.26L320.80,190.26A2.32,2.32 0 0 1 320.80,186.53L320.80,186.53A2.32,2.32 0 0 1 320.80,182.79L320.80,182.79A2.32,2.32 0 0 1 320.80,179.05L320.80,179.05A2.32,2.32 0 0 1 320.80,175.31L320.80,175.31A2.32,2.32 0 0 1 320.80,171.57L320.80,171.57A2.32,2.32 0 0 1 320.80,167.84L320.80,167.84A2.32,2.32 0 0 1 320.80,164.10L320.80,164.10A2.32,2.32 0 0 1 320.80,160.36L320.80,160.36A2.32,2.32 0 0 1 320.80,156.62L320.80,156.62A2.32,2.32 0 0 1 320.80,152.89L320.80,152.89A2.32,2.32 0 0 1 320.80,149.15L320.80,149.15A2.32,2.32 0 0 1 320.80,145.41L320.80,145.41A2.32,2.32 0 0 1 320.80,141.67L320.80,141.67A2.32,2.32 0 0 1 320.80,137.94L320.80,137.94A2.32,2.32 0 0 1 320.80,134.20L320.57,134.77A1.93,1.93 0 0 1 322.77,132.57Z" fill="none" stroke="#484848" stroke-width="1.0" stroke-linejoin="round"/>
<path d="M745.70,267.64 L752.30,267.64 L749.00,261.87 Z" fill="#fff" stroke="#333" stroke-width="0.6" />
<text x="749.00" y="267.05" font-size="2.6" text-anchor="middle" fill="#333" stroke="#333" stroke-width="0.062" transform="rotate(0.06 749.00 267.05)" >1</text>
<path d="M815.20,231.14 L821.80,231.14 L818.50,225.37 Z" fill="#fff" stroke="#333" stroke-width="0.6" />
<text x="818.50" y="230.55" font-size="2.6" text-anchor="middle" fill="#333" stroke="#333" stroke-width="0.062" transform="rotate(0.06 818.50 230.55)" >1</text>
<path d="M312.20,251.64 L318.80,251.64 L315.50,245.87 Z" fill="#fff" stroke="#333" stroke-width="0.6" />
<text x="315.50" y="251.05" font-size="2.6" text-anchor="middle" fill="#333" stroke="#333" stroke-width="0.062" transform="rotate(0.06 315.50 251.05)" >1</text>
<path d="M877.20,378.64 L883.80,378.64 L880.50,372.87 Z" fill="#fff" stroke="#333" stroke-width="0.6" />
<text x="880.50" y="378.05" font-size="2.6" text-anchor="middle" fill="#333" stroke="#333" stroke-width="0.062" transform="rotate(0.06 880.50 378.05)" >1</text>
<path d="M854.20,450.14 L860.80,450.14 L857.50,444.37 Z" fill="#fff" stroke="#333" stroke-width="0.6" />
<text x="857.50" y="449.55" font-size="2.6" text-anchor="middle" fill="#333" stroke="#333" stroke-width="0.062" transform="rotate(0.06 857.50 449.55)" >1</text>
<path d="M818.20,481.14 L824.80,481.14 L821.50,475.37 Z" fill="#fff" stroke="#333" stroke-width="0.6" />
<text x="821.50" y="480.55" font-size="2.6" text-anchor="middle" fill="#333" stroke="#333" stroke-width="0.062" transform="rotate(0.06 821.50 480.55)" >1</text>
<path d="M956.20,289.14 L962.80,289.14 L959.50,283.37 Z" fill="#fff" stroke="#333" stroke-width="0.6" />
<text x="959.50" y="288.55" font-size="2.6" text-anchor="middle" fill="#333" stroke="#333" stroke-width="0.062" transform="rotate(0.06 959.50 288.55)" >1</text>
<line x1="319.50" y1="341.20" x2="541.00" y2="341.20" stroke="#4a4a4a" stroke-width="0.75" />
<rect x="318.60" y="330.50" width="2.00" height="11.10" fill="#222" stroke="none" stroke-width="0" />
<line x1="838.30" y1="341.20" x2="946.00" y2="341.20" stroke="#4a4a4a" stroke-width="0.75" />
<line x1="688.20" y1="69.00" x2="688.20" y2="168.80" stroke="#7a7a7a" stroke-width="1.3" />
<line x1="688.20" y1="411.00" x2="688.20" y2="602.80" stroke="#686868" stroke-width="1.2" />
<rect x="677.20" y="601.30" width="11.60" height="1.90" fill="#222" stroke="none" stroke-width="0" />
<path d="M677.20,59.20 L688.30,48.30 L688.30,69.60 Z" fill="#111" stroke="#111" stroke-width="0.3" />
<circle cx="688.3" cy="59.2" r="7.6" fill="#fff" stroke="#333" stroke-width="0.7"/>
<line x1="680.70" y1="59.20" x2="695.90" y2="59.20" stroke="#444" stroke-width="0.6" />
<text x="688.30" y="58.20" font-size="3.5" text-anchor="middle" fill="#444" stroke="#444" stroke-width="0.084" transform="rotate(0.06 688.30 58.20)" >A1</text>
<text x="688.30" y="62.90" font-size="3.5" text-anchor="middle" fill="#444" stroke="#444" stroke-width="0.084" transform="rotate(0.06 688.30 62.90)" >A301</text>
<path d="M945.00,341.40 L955.60,330.60 L966.30,341.40 Z" fill="#111" stroke="#111" stroke-width="0.3" />
<circle cx="955.6" cy="341.4" r="7.5" fill="#fff" stroke="#333" stroke-width="0.7"/>
<line x1="945.00" y1="341.40" x2="966.30" y2="341.40" stroke="#444" stroke-width="0.6" />
<text x="955.60" y="340.40" font-size="3.5" text-anchor="middle" fill="#444" stroke="#444" stroke-width="0.084" transform="rotate(0.06 955.60 340.40)" >A1</text>
<text x="955.60" y="345.10" font-size="3.5" text-anchor="middle" fill="#444" stroke="#444" stroke-width="0.084" transform="rotate(0.06 955.60 345.10)" >A301</text>
<path d="M641.20,61.40 L649.40,69.60 L657.60,61.40" fill="none" stroke="#333" stroke-width="0.7" />
<path d="M645.90,66.10 L649.40,69.60 L652.90,66.10 L649.40,66.97 Z" fill="#111" stroke="#111" stroke-width="0.3" />
<line x1="641.70" y1="59.40" x2="657.80" y2="59.40" stroke="#444" stroke-width="0.6" />
<text x="649.60" y="58.40" font-size="3.5" text-anchor="middle" fill="#444" stroke="#444" stroke-width="0.084" transform="rotate(0.06 649.60 58.40)" >A1</text>
<text x="649.60" y="63.10" font-size="3.5" text-anchor="middle" fill="#444" stroke="#444" stroke-width="0.084" transform="rotate(0.06 649.60 63.10)" >A202</text>
<path d="M657.60,599.10 L649.40,590.90 L641.20,599.10" fill="none" stroke="#333" stroke-width="0.7" />
<path d="M652.90,594.40 L649.40,590.90 L645.90,594.40 L649.40,593.52 Z" fill="#111" stroke="#111" stroke-width="0.3" />
<line x1="642.20" y1="601.90" x2="657.20" y2="601.90" stroke="#444" stroke-width="0.6" />
<text x="649.60" y="600.90" font-size="3.5" text-anchor="middle" fill="#444" stroke="#444" stroke-width="0.084" transform="rotate(0.06 649.60 600.90)" >A2</text>
<text x="649.60" y="605.60" font-size="3.5" text-anchor="middle" fill="#444" stroke="#444" stroke-width="0.084" transform="rotate(0.06 649.60 605.60)" >A202</text>
<path d="M314.40,380.70 L322.60,372.50 L314.40,364.30" fill="none" stroke="#333" stroke-width="0.7" />
<path d="M319.10,376.00 L322.60,372.50 L319.10,369.00 L319.98,372.50 Z" fill="#111" stroke="#111" stroke-width="0.3" />
<line x1="303.80" y1="372.50" x2="322.00" y2="372.50" stroke="#444" stroke-width="0.6" />
<text x="312.00" y="371.50" font-size="3.5" text-anchor="middle" fill="#444" stroke="#444" stroke-width="0.084" transform="rotate(0.06 312.00 371.50)" >A2</text>
<text x="312.00" y="376.20" font-size="3.5" text-anchor="middle" fill="#444" stroke="#444" stroke-width="0.084" transform="rotate(0.06 312.00 376.20)" >A201</text>
<path d="M954.40,364.30 L946.20,372.50 L954.40,380.70" fill="none" stroke="#333" stroke-width="0.7" />
<path d="M949.70,369.00 L946.20,372.50 L949.70,376.00 L948.83,372.50 Z" fill="#111" stroke="#111" stroke-width="0.3" />
<line x1="947.00" y1="372.50" x2="964.60" y2="372.50" stroke="#444" stroke-width="0.6" />
<text x="957.00" y="371.50" font-size="3.5" text-anchor="middle" fill="#444" stroke="#444" stroke-width="0.084" transform="rotate(0.06 957.00 371.50)" >A1</text>
<text x="957.00" y="376.20" font-size="3.5" text-anchor="middle" fill="#444" stroke="#444" stroke-width="0.084" transform="rotate(0.06 957.00 376.20)" >A201</text>
<path d="M366.00,108.80 L360.50,108.80 L354.50,129.50" fill="none" stroke="#444" stroke-width="0.65" />
<path d="M354.50,129.50 L354.30,126.94 L356.03,127.45 Z" fill="#333" stroke="#333" stroke-width="0.2" />
<text x="367.50" y="110.00" font-size="4.05" text-anchor="start" fill="#555" stroke="#555" stroke-width="0.097" transform="rotate(0.06 367.50 110.00)" >DOWNSPOUT</text>
<path d="M486.00,236.00 L481.50,236.00 L478.50,249.50" fill="none" stroke="#444" stroke-width="0.65" />
<path d="M478.50,249.50 L478.14,246.96 L479.90,247.35 Z" fill="#333" stroke="#333" stroke-width="0.2" />
<text x="488.00" y="237.30" font-size="4.05" text-anchor="start" fill="#555" stroke="#555" stroke-width="0.097" transform="rotate(0.06 488.00 237.30)" >DOWNSPOUT</text>
<path d="M655.50,138.30 L650.00,138.30 L637.50,144.50" fill="none" stroke="#444" stroke-width="0.65" />
<path d="M637.50,144.50 L639.25,142.63 L640.05,144.24 Z" fill="#333" stroke="#333" stroke-width="0.2" />
<text x="671.50" y="139.70" font-size="4.05" text-anchor="middle" fill="#555" stroke="#555" stroke-width="0.097" transform="rotate(0.06 671.50 139.70)" >DOWNSPOUT</text>
<path d="M687.50,138.30 L693.00,138.30 L705.50,144.50" fill="none" stroke="#444" stroke-width="0.65" />
<path d="M705.50,144.50 L702.95,144.24 L703.75,142.63 Z" fill="#333" stroke="#333" stroke-width="0.2" />
<path d="M853.50,138.20 L858.50,138.30 L869.80,141.80" fill="none" stroke="#444" stroke-width="0.65" />
<path d="M869.80,141.80 L867.24,141.95 L867.77,140.23 Z" fill="#333" stroke="#333" stroke-width="0.2" />
<text x="824.50" y="139.70" font-size="4.05" text-anchor="start" fill="#555" stroke="#555" stroke-width="0.097" transform="rotate(0.06 824.50 139.70)" >DOWNSPOUT</text>
<path d="M886.50,412.30 L871.00,412.30 L855.50,432.50" fill="none" stroke="#444" stroke-width="0.65" />
<path d="M855.50,432.50 L856.25,430.05 L857.68,431.14 Z" fill="#333" stroke="#333" stroke-width="0.2" />
<text x="888.50" y="413.50" font-size="4.05" text-anchor="start" fill="#555" stroke="#555" stroke-width="0.097" transform="rotate(0.06 888.50 413.50)" >DOWNSPOUT</text>
<path d="M531.50,449.20 L537.50,449.20 L547.50,433.50" fill="none" stroke="#444" stroke-width="0.65" />
<path d="M547.50,433.50 L546.97,436.01 L545.45,435.04 Z" fill="#333" stroke="#333" stroke-width="0.2" />
<text x="503.50" y="450.50" font-size="4.05" text-anchor="start" fill="#555" stroke="#555" stroke-width="0.097" transform="rotate(0.06 503.50 450.50)" >DOWNSPOUT</text>
<path d="M438.00,441.00 L444.00,441.00 L455.50,432.00" fill="none" stroke="#444" stroke-width="0.65" />
<path d="M455.50,432.00 L454.16,434.19 L453.06,432.77 Z" fill="#333" stroke="#333" stroke-width="0.2" />
<text x="410.00" y="442.30" font-size="4.05" text-anchor="start" fill="#555" stroke="#555" stroke-width="0.097" transform="rotate(0.06 410.00 442.30)" >DOWNSPOUT</text>
<path d="M884.50,561.00 L878.50,561.00 L871.50,540.50" fill="none" stroke="#444" stroke-width="0.65" />
<path d="M871.50,540.50 L873.13,542.48 L871.42,543.06 Z" fill="#333" stroke="#333" stroke-width="0.2" />
<text x="886.50" y="562.30" font-size="4.05" text-anchor="start" fill="#555" stroke="#555" stroke-width="0.097" transform="rotate(0.06 886.50 562.30)" >DOWNSPOUT</text>
<path d="M474.50,574.00 L481.00,574.00 L484.00,541.00" fill="none" stroke="#444" stroke-width="0.65" />
<path d="M484.00,541.00 L484.68,543.47 L482.89,543.31 Z" fill="#333" stroke="#333" stroke-width="0.2" />
<path d="M481.00,574.00 L478.00,551.50" fill="none" stroke="#444" stroke-width="0.65" />
<path d="M478.00,551.50 L479.21,553.76 L477.43,554.00 Z" fill="#333" stroke="#333" stroke-width="0.2" />
<text x="447.00" y="575.30" font-size="4.05" text-anchor="start" fill="#555" stroke="#555" stroke-width="0.097" transform="rotate(0.06 447.00 575.30)" >DOWNSPOUT</text>
<circle cx="354.5" cy="129.5" r="1.0" fill="none" stroke="#666" stroke-width="0.4"/>
<circle cx="478.5" cy="249.5" r="1.0" fill="none" stroke="#666" stroke-width="0.4"/>
<circle cx="637.5" cy="144.5" r="1.0" fill="none" stroke="#666" stroke-width="0.4"/>
<circle cx="705.5" cy="144.5" r="1.0" fill="none" stroke="#666" stroke-width="0.4"/>
<circle cx="871.4" cy="142.2" r="1.0" fill="none" stroke="#666" stroke-width="0.4"/>
<circle cx="455.5" cy="432" r="1.0" fill="none" stroke="#666" stroke-width="0.4"/>
<circle cx="484" cy="541" r="1.0" fill="none" stroke="#666" stroke-width="0.4"/>
<circle cx="478" cy="551.5" r="1.0" fill="none" stroke="#666" stroke-width="0.4"/>
<circle cx="871.5" cy="540.5" r="1.0" fill="none" stroke="#666" stroke-width="0.4"/>
<text x="712.50" y="274.65" font-size="5.9" text-anchor="middle" fill="#444" stroke="#444" stroke-width="0.142" transform="rotate(0.06 712.50 274.65)" textLength="8.32" lengthAdjust="spacingAndGlyphs">202</text>
<line x1="697.50" y1="275.20" x2="727.50" y2="275.20" stroke="#555" stroke-width="0.6" />
<text x="712.50" y="279.55" font-size="3.9" text-anchor="middle" fill="#555" stroke="#555" stroke-width="0.094" transform="rotate(0.06 712.50 279.55)" >GUEST SUITE 3</text>
<text x="580.50" y="329.65" font-size="5.9" text-anchor="middle" fill="#444" stroke="#444" stroke-width="0.142" transform="rotate(0.06 580.50 329.65)" textLength="8.32" lengthAdjust="spacingAndGlyphs">201</text>
<line x1="565.50" y1="330.20" x2="595.50" y2="330.20" stroke="#555" stroke-width="0.6" />
<text x="580.50" y="334.55" font-size="3.9" text-anchor="middle" fill="#555" stroke="#555" stroke-width="0.094" transform="rotate(0.06 580.50 334.55)" >FAMILY ROOM</text>
<text x="541.20" y="329.65" font-size="5.9" text-anchor="middle" fill="#444" stroke="#444" stroke-width="0.142" transform="rotate(0.06 541.20 329.65)" textLength="8.32" lengthAdjust="spacingAndGlyphs">207</text>
<line x1="532.70" y1="330.20" x2="549.70" y2="330.20" stroke="#555" stroke-width="0.6" />
<text x="541.20" y="334.55" font-size="3.9" text-anchor="middle" fill="#555" stroke="#555" stroke-width="0.094" transform="rotate(0.06 541.20 334.55)" >BALCONY</text>
<text x="730.80" y="329.65" font-size="5.9" text-anchor="middle" fill="#444" stroke="#444" stroke-width="0.142" transform="rotate(0.06 730.80 329.65)" textLength="8.32" lengthAdjust="spacingAndGlyphs">203</text>
<line x1="717.55" y1="330.20" x2="744.05" y2="330.20" stroke="#555" stroke-width="0.6" />
<text x="730.80" y="334.55" font-size="3.9" text-anchor="middle" fill="#555" stroke="#555" stroke-width="0.094" transform="rotate(0.06 730.80 334.55)" >BATHROOM 3</text>
<text x="820.80" y="329.65" font-size="5.9" text-anchor="middle" fill="#444" stroke="#444" stroke-width="0.142" transform="rotate(0.06 820.80 329.65)" textLength="8.32" lengthAdjust="spacingAndGlyphs">206</text>
<line x1="802.30" y1="330.20" x2="839.30" y2="330.20" stroke="#555" stroke-width="0.6" />
<text x="820.80" y="334.55" font-size="3.9" text-anchor="middle" fill="#555" stroke="#555" stroke-width="0.094" transform="rotate(0.06 820.80 334.55)" >TERRACE BALCONY</text>
<text x="712.50" y="396.65" font-size="5.9" text-anchor="middle" fill="#444" stroke="#444" stroke-width="0.142" transform="rotate(0.06 712.50 396.65)" textLength="8.32" lengthAdjust="spacingAndGlyphs">204</text>
<line x1="697.50" y1="397.20" x2="727.50" y2="397.20" stroke="#555" stroke-width="0.6" />
<text x="712.50" y="401.55" font-size="3.9" text-anchor="middle" fill="#555" stroke="#555" stroke-width="0.094" transform="rotate(0.06 712.50 401.55)" >GUEST SUITE 4</text>
<text x="573.30" y="391.95" font-size="5.9" text-anchor="middle" fill="#444" stroke="#444" stroke-width="0.142" transform="rotate(0.06 573.30 391.95)" textLength="8.32" lengthAdjust="spacingAndGlyphs">205</text>
<line x1="560.05" y1="392.50" x2="586.55" y2="392.50" stroke="#555" stroke-width="0.6" />
<text x="573.30" y="396.85" font-size="3.9" text-anchor="middle" fill="#555" stroke="#555" stroke-width="0.094" transform="rotate(0.06 573.30 396.85)" >BATHROOM 4</text>
<text x="641.70" y="270.30" font-size="3.8" text-anchor="middle" fill="#5a5a5a" stroke="#5a5a5a" stroke-width="0.091" transform="rotate(0.06 641.70 270.30)" >CL</text>
<text x="640.00" y="416.80" font-size="3.8" text-anchor="middle" fill="#5a5a5a" stroke="#5a5a5a" stroke-width="0.091" transform="rotate(0.06 640.00 416.80)" >CL</text>
<text x="708.00" y="263.00" font-size="2.8" text-anchor="middle" fill="#888" stroke="#888" stroke-width="0.067" transform="rotate(0.06 708.00 263.00)" >HEAD</text>
<text x="563.30" y="217.45" font-size="4.3" text-anchor="middle" fill="#555" stroke="#555" stroke-width="0.103" transform="rotate(0.06 563.30 217.45)" font-style="italic">4'-6½"</text>
<text x="619.00" y="217.45" font-size="4.3" text-anchor="middle" fill="#555" stroke="#555" stroke-width="0.103" transform="rotate(0.06 619.00 217.45)" font-style="italic">15'-2⅝"</text>
<text x="667.50" y="217.95" font-size="4.3" text-anchor="middle" fill="#555" stroke="#555" stroke-width="0.103" transform="rotate(0.06 667.50 217.95)" font-style="italic">2'-0"</text>
<text x="710.00" y="217.45" font-size="4.3" text-anchor="middle" fill="#555" stroke="#555" stroke-width="0.103" transform="rotate(0.06 710.00 217.45)" font-style="italic">13'-1⅝"</text>
<text x="751.70" y="217.95" font-size="4.3" text-anchor="middle" fill="#555" stroke="#555" stroke-width="0.103" transform="rotate(0.06 751.70 217.95)" font-style="italic">2'-0"</text>
<text x="803.30" y="217.95" font-size="4.3" text-anchor="middle" fill="#555" stroke="#555" stroke-width="0.103" transform="rotate(0.06 803.30 217.95)" font-style="italic">15'-2"</text>
<text x="566.70" y="263.15" font-size="4.3" text-anchor="middle" fill="#555" stroke="#555" stroke-width="0.103" transform="rotate(0.06 566.70 263.15)" font-style="italic">4'-0"</text>
<text x="589.00" y="263.15" font-size="4.3" text-anchor="middle" fill="#555" stroke="#555" stroke-width="0.103" transform="rotate(0.06 589.00 263.15)" font-style="italic">4'⅞"</text>
<text x="611.70" y="263.15" font-size="4.3" text-anchor="middle" fill="#555" stroke="#555" stroke-width="0.103" transform="rotate(0.06 611.70 263.15)" font-style="italic">4'-0"</text>
<text x="640.00" y="262.25" font-size="4.3" text-anchor="middle" fill="#555" stroke="#555" stroke-width="0.103" transform="rotate(0.06 640.00 262.25)" font-style="italic">5'-4⅝"</text>
<text x="578.00" y="304.45" font-size="4.3" text-anchor="middle" fill="#555" stroke="#555" stroke-width="0.103" transform="rotate(0.06 578.00 304.45)" font-style="italic">8'-0"</text>
<text x="632.50" y="296.75" font-size="4.3" text-anchor="middle" fill="#555" stroke="#555" stroke-width="0.103" transform="rotate(0.06 632.50 296.75)" font-style="italic">5'-9⅝"</text>
<text x="624.00" y="304.45" font-size="4.3" text-anchor="middle" fill="#555" stroke="#555" stroke-width="0.103" transform="rotate(0.06 624.00 304.45)" font-style="italic">8'-0"</text>
<text x="650.00" y="302.25" font-size="4.3" text-anchor="middle" fill="#555" stroke="#555" stroke-width="0.103" transform="rotate(0.06 650.00 302.25)" font-style="italic">1'-4⅞"</text>
<text x="662.50" y="303.45" font-size="4.3" text-anchor="middle" fill="#555" stroke="#555" stroke-width="0.103" transform="rotate(0.06 662.50 303.45)" font-style="italic">7¾"</text>
<text x="696.70" y="302.75" font-size="4.3" text-anchor="middle" fill="#555" stroke="#555" stroke-width="0.103" transform="rotate(0.06 696.70 302.75)" font-style="italic">13'-3⅝"</text>
<text x="740.00" y="304.45" font-size="4.3" text-anchor="middle" fill="#555" stroke="#555" stroke-width="0.103" transform="rotate(0.06 740.00 304.45)" font-style="italic">2'-8⅝"</text>
<text x="751.70" y="301.15" font-size="4.3" text-anchor="middle" fill="#555" stroke="#555" stroke-width="0.103" transform="rotate(0.06 751.70 301.15)" font-style="italic">1'-6⅝"</text>
<text x="764.50" y="278.15" font-size="4.3" text-anchor="middle" fill="#555" stroke="#555" stroke-width="0.103" transform="rotate(0.06 764.50 278.15)" font-style="italic">1'</text>
<text x="603.00" y="338.45" font-size="4.3" text-anchor="middle" fill="#555" stroke="#555" stroke-width="0.103" transform="rotate(0.06 603.00 338.45)" font-style="italic">16'-5"</text>
<text x="601.70" y="353.95" font-size="4.3" text-anchor="middle" fill="#555" stroke="#555" stroke-width="0.103" transform="rotate(0.06 601.70 353.95)" font-style="italic">16'-5"</text>
<text x="578.00" y="383.15" font-size="4.3" text-anchor="middle" fill="#555" stroke="#555" stroke-width="0.103" transform="rotate(0.06 578.00 383.15)" font-style="italic">10'-11"</text>
<text x="641.70" y="384.25" font-size="4.3" text-anchor="middle" fill="#555" stroke="#555" stroke-width="0.103" transform="rotate(0.06 641.70 384.25)" font-style="italic">7'-5"</text>
<text x="540.00" y="396.95" font-size="4.3" text-anchor="middle" fill="#555" stroke="#555" stroke-width="0.103" transform="rotate(0.06 540.00 396.95)" font-style="italic">3'-6"</text>
<text x="654.00" y="338.45" font-size="4.3" text-anchor="middle" fill="#555" stroke="#555" stroke-width="0.103" transform="rotate(0.06 654.00 338.45)" font-style="italic">2'-4"</text>
<text x="674.00" y="353.15" font-size="4.3" text-anchor="middle" fill="#555" stroke="#555" stroke-width="0.103" transform="rotate(0.06 674.00 353.15)" font-style="italic">4'-0"</text>
<text x="712.50" y="341.45" font-size="4.3" text-anchor="middle" fill="#555" stroke="#555" stroke-width="0.103" transform="rotate(0.06 712.50 341.45)" font-style="italic">7"</text>
<text x="736.70" y="344.25" font-size="4.3" text-anchor="middle" fill="#555" stroke="#555" stroke-width="0.103" transform="rotate(0.06 736.70 344.25)" font-style="italic">7'-7"</text>
<text x="709.00" y="384.25" font-size="4.3" text-anchor="middle" fill="#555" stroke="#555" stroke-width="0.103" transform="rotate(0.06 709.00 384.25)" font-style="italic">17'-0"</text>
<text x="764.70" y="404.45" font-size="4.3" text-anchor="middle" fill="#555" stroke="#555" stroke-width="0.103" transform="rotate(0.06 764.70 404.45)" font-style="italic">1'</text>
<text x="570.80" y="426.15" font-size="4.3" text-anchor="middle" fill="#555" stroke="#555" stroke-width="0.103" transform="rotate(0.06 570.80 426.15)" font-style="italic">5'-4"</text>
<text x="601.70" y="426.15" font-size="4.3" text-anchor="middle" fill="#555" stroke="#555" stroke-width="0.103" transform="rotate(0.06 601.70 426.15)" font-style="italic">5'-0"</text>
<text x="640.00" y="426.15" font-size="4.3" text-anchor="middle" fill="#555" stroke="#555" stroke-width="0.103" transform="rotate(0.06 640.00 426.15)" font-style="italic">7'-0"</text>
<text x="555.80" y="465.45" font-size="4.3" text-anchor="middle" fill="#555" stroke="#555" stroke-width="0.103" transform="rotate(0.06 555.80 465.45)" font-style="italic">7'-6"</text>
<text x="570.00" y="465.45" font-size="4.3" text-anchor="middle" fill="#555" stroke="#555" stroke-width="0.103" transform="rotate(0.06 570.00 465.45)" font-style="italic">4'-0"</text>
<text x="587.50" y="465.45" font-size="4.3" text-anchor="middle" fill="#555" stroke="#555" stroke-width="0.103" transform="rotate(0.06 587.50 465.45)" font-style="italic">3'-9"</text>
<text x="602.50" y="465.45" font-size="4.3" text-anchor="middle" fill="#555" stroke="#555" stroke-width="0.103" transform="rotate(0.06 602.50 465.45)" font-style="italic">4'-0"</text>
<text x="621.70" y="465.45" font-size="4.3" text-anchor="middle" fill="#555" stroke="#555" stroke-width="0.103" transform="rotate(0.06 621.70 465.45)" font-style="italic">2'-9"</text>
<text x="639.00" y="465.45" font-size="4.3" text-anchor="middle" fill="#555" stroke="#555" stroke-width="0.103" transform="rotate(0.06 639.00 465.45)" font-style="italic">3'-6"</text>
<text x="655.00" y="465.45" font-size="4.3" text-anchor="middle" fill="#555" stroke="#555" stroke-width="0.103" transform="rotate(0.06 655.00 465.45)" font-style="italic">2'-3"</text>
<text x="667.50" y="465.45" font-size="4.3" text-anchor="middle" fill="#555" stroke="#555" stroke-width="0.103" transform="rotate(0.06 667.50 465.45)" font-style="italic">2'-0"</text>
<text x="710.00" y="465.45" font-size="4.3" text-anchor="middle" fill="#555" stroke="#555" stroke-width="0.103" transform="rotate(0.06 710.00 465.45)" font-style="italic">13'-1"</text>
<text x="751.70" y="465.45" font-size="4.3" text-anchor="middle" fill="#555" stroke="#555" stroke-width="0.103" transform="rotate(0.06 751.70 465.45)" font-style="italic">2'-0"</text>
<text x="768.00" y="465.45" font-size="4.3" text-anchor="middle" fill="#555" stroke="#555" stroke-width="0.103" transform="rotate(0.06 768.00 465.45)" font-style="italic">10"</text>
<text x="804.00" y="465.45" font-size="4.3" text-anchor="middle" fill="#555" stroke="#555" stroke-width="0.103" transform="rotate(0.06 804.00 465.45)" font-style="italic">15'-2"</text>
<text x="605.45" y="258.00" font-size="4.3" text-anchor="middle" fill="#555" stroke="#555" stroke-width="0.103" transform="rotate(-89.94 605.45 258.00)" font-style="italic">7'-½"</text>
<text x="618.45" y="270.00" font-size="4.3" text-anchor="middle" fill="#555" stroke="#555" stroke-width="0.103" transform="rotate(-89.94 618.45 270.00)" font-style="italic">5'-1½"</text>
<text x="606.45" y="297.50" font-size="4.3" text-anchor="middle" fill="#555" stroke="#555" stroke-width="0.103" transform="rotate(-89.94 606.45 297.50)" font-style="italic">5'-7½"</text>
<text x="672.25" y="251.70" font-size="4.3" text-anchor="middle" fill="#555" stroke="#555" stroke-width="0.103" transform="rotate(-89.94 672.25 251.70)" font-style="italic">7'-4"</text>
<text x="672.25" y="267.50" font-size="4.3" text-anchor="middle" fill="#555" stroke="#555" stroke-width="0.103" transform="rotate(-89.94 672.25 267.50)" font-style="italic">7'-4"</text>
<text x="671.45" y="286.00" font-size="4.3" text-anchor="middle" fill="#555" stroke="#555" stroke-width="0.103" transform="rotate(-89.94 671.45 286.00)" font-style="italic">398'-8"</text>
<text x="735.45" y="284.00" font-size="4.3" text-anchor="middle" fill="#555" stroke="#555" stroke-width="0.103" transform="rotate(-89.94 735.45 284.00)" font-style="italic">12'-6"</text>
<text x="744.45" y="281.70" font-size="4.3" text-anchor="middle" fill="#555" stroke="#555" stroke-width="0.103" transform="rotate(-89.94 744.45 281.70)" font-style="italic">7'-10¾"</text>
<text x="744.45" y="253.00" font-size="4.3" text-anchor="middle" fill="#555" stroke="#555" stroke-width="0.103" transform="rotate(-89.94 744.45 253.00)" font-style="italic">2'-3⅞"</text>
<text x="797.25" y="251.70" font-size="4.3" text-anchor="middle" fill="#555" stroke="#555" stroke-width="0.103" transform="rotate(-89.94 797.25 251.70)" font-style="italic">2'-4"</text>
<text x="795.45" y="278.00" font-size="4.3" text-anchor="middle" fill="#555" stroke="#555" stroke-width="0.103" transform="rotate(-89.94 795.45 278.00)" font-style="italic">5'-0"</text>
<text x="611.45" y="332.50" font-size="4.3" text-anchor="middle" fill="#555" stroke="#555" stroke-width="0.103" transform="rotate(-89.94 611.45 332.50)" font-style="italic">10'-8"</text>
<text x="638.45" y="334.00" font-size="4.3" text-anchor="middle" fill="#555" stroke="#555" stroke-width="0.103" transform="rotate(-89.94 638.45 334.00)" font-style="italic">366'-8"</text>
<text x="636.15" y="319.00" font-size="4.3" text-anchor="middle" fill="#555" stroke="#555" stroke-width="0.103" transform="rotate(-89.94 636.15 319.00)" font-style="italic">7¾"</text>
<text x="611.45" y="364.00" font-size="4.3" text-anchor="middle" fill="#555" stroke="#555" stroke-width="0.103" transform="rotate(-89.94 611.45 364.00)" font-style="italic">7¾"</text>
<text x="640.45" y="363.00" font-size="4.3" text-anchor="middle" fill="#555" stroke="#555" stroke-width="0.103" transform="rotate(-89.94 640.45 363.00)" font-style="italic">2'-8"</text>
<text x="605.45" y="388.00" font-size="4.3" text-anchor="middle" fill="#555" stroke="#555" stroke-width="0.103" transform="rotate(-89.94 605.45 388.00)" font-style="italic">5'-9"</text>
<text x="671.45" y="341.70" font-size="4.3" text-anchor="middle" fill="#555" stroke="#555" stroke-width="0.103" transform="rotate(-89.94 671.45 341.70)" font-style="italic">6'-10"</text>
<text x="671.45" y="383.00" font-size="4.3" text-anchor="middle" fill="#555" stroke="#555" stroke-width="0.103" transform="rotate(-89.94 671.45 383.00)" font-style="italic">3'-6"</text>
<text x="671.45" y="414.50" font-size="4.3" text-anchor="middle" fill="#555" stroke="#555" stroke-width="0.103" transform="rotate(-89.94 671.45 414.50)" font-style="italic">7'-3"</text>
<text x="687.25" y="342.50" font-size="4.3" text-anchor="middle" fill="#555" stroke="#555" stroke-width="0.103" transform="rotate(-89.94 687.25 342.50)" font-style="italic">5'-4"</text>
<text x="705.45" y="332.50" font-size="4.3" text-anchor="middle" fill="#555" stroke="#555" stroke-width="0.103" transform="rotate(-89.94 705.45 332.50)" font-style="italic">4'-3"</text>
<text x="745.45" y="339.00" font-size="4.3" text-anchor="middle" fill="#555" stroke="#555" stroke-width="0.103" transform="rotate(-89.94 745.45 339.00)" font-style="italic">6'-10"</text>
<text x="745.45" y="371.70" font-size="4.3" text-anchor="middle" fill="#555" stroke="#555" stroke-width="0.103" transform="rotate(-89.94 745.45 371.70)" font-style="italic">2'-8"</text>
<text x="735.25" y="398.30" font-size="4.3" text-anchor="middle" fill="#555" stroke="#555" stroke-width="0.103" transform="rotate(-89.94 735.25 398.30)" font-style="italic">12'-6"</text>
<text x="744.75" y="400.80" font-size="4.3" text-anchor="middle" fill="#555" stroke="#555" stroke-width="0.103" transform="rotate(-89.94 744.75 400.80)" font-style="italic">7'-11"</text>
<text x="795.45" y="315.80" font-size="4.3" text-anchor="middle" fill="#555" stroke="#555" stroke-width="0.103" transform="rotate(-89.94 795.45 315.80)" font-style="italic">4'-6½"</text>
<text x="795.45" y="340.00" font-size="4.3" text-anchor="middle" fill="#555" stroke="#555" stroke-width="0.103" transform="rotate(-89.94 795.45 340.00)" font-style="italic">4'-0"</text>
<text x="795.45" y="366.70" font-size="4.3" text-anchor="middle" fill="#555" stroke="#555" stroke-width="0.103" transform="rotate(-89.94 795.45 366.70)" font-style="italic">4'-6½"</text>
<text x="796.45" y="400.00" font-size="4.3" text-anchor="middle" fill="#555" stroke="#555" stroke-width="0.103" transform="rotate(-89.94 796.45 400.00)" font-style="italic">6'-0"</text>
<text x="796.45" y="430.00" font-size="4.3" text-anchor="middle" fill="#555" stroke="#555" stroke-width="0.103" transform="rotate(-89.94 796.45 430.00)" font-style="italic">2'-8"</text>
<text x="606.15" y="410.80" font-size="4.3" text-anchor="middle" fill="#555" stroke="#555" stroke-width="0.103" transform="rotate(-89.94 606.15 410.80)" font-style="italic">4'-6"</text>
<text x="623.15" y="448.00" font-size="4.3" text-anchor="middle" fill="#555" stroke="#555" stroke-width="0.103" transform="rotate(-89.94 623.15 448.00)" font-style="italic">3'-6"</text>
<text x="742.45" y="426.70" font-size="4.3" text-anchor="middle" fill="#555" stroke="#555" stroke-width="0.103" transform="rotate(-89.94 742.45 426.70)" font-style="italic">10"</text>
<text x="867.25" y="354.00" font-size="4.3" text-anchor="middle" fill="#555" stroke="#555" stroke-width="0.103" transform="rotate(-89.94 867.25 354.00)" font-style="italic">34'-9"</text>
<text x="500.95" y="261.00" font-size="4.3" text-anchor="middle" fill="#555" stroke="#555" stroke-width="0.103" transform="rotate(-89.94 500.95 261.00)" font-style="italic">6'-6½"</text>
<text x="500.95" y="298.70" font-size="4.3" text-anchor="middle" fill="#555" stroke="#555" stroke-width="0.103" transform="rotate(-89.94 500.95 298.70)" font-style="italic">6'-6½"</text>
<text x="500.95" y="341.00" font-size="4.3" text-anchor="middle" fill="#555" stroke="#555" stroke-width="0.103" transform="rotate(-89.94 500.95 341.00)" font-style="italic">8'-8"</text>
<text x="508.75" y="341.00" font-size="4.3" text-anchor="middle" fill="#555" stroke="#555" stroke-width="0.103" transform="rotate(-89.94 508.75 341.00)" font-style="italic">16'-8"</text>
<text x="500.95" y="395.00" font-size="4.3" text-anchor="middle" fill="#555" stroke="#555" stroke-width="0.103" transform="rotate(-89.94 500.95 395.00)" font-style="italic">9'-0"</text>
<text x="758.45" y="303.00" font-size="4.3" text-anchor="middle" fill="#555" stroke="#555" stroke-width="0.103" transform="rotate(-89.94 758.45 303.00)" font-style="italic">1'-6⅝"</text>
<text x="500.70" y="415.50" font-size="3.2" text-anchor="middle" fill="#555" stroke="#555" stroke-width="0.077" transform="rotate(-89.94 500.70 415.50)" font-style="italic">6'-5½" 2'-11"</text>
<line x1="555.00" y1="259.00" x2="557.00" y2="257.00" stroke="#777" stroke-width="0.6" />
<line x1="576.00" y1="259.00" x2="578.00" y2="257.00" stroke="#777" stroke-width="0.6" />
<line x1="601.00" y1="259.00" x2="603.00" y2="257.00" stroke="#777" stroke-width="0.6" />
<line x1="622.00" y1="259.00" x2="624.00" y2="257.00" stroke="#777" stroke-width="0.6" />
<line x1="631.00" y1="259.00" x2="633.00" y2="257.00" stroke="#777" stroke-width="0.6" />
<line x1="656.00" y1="259.00" x2="658.00" y2="257.00" stroke="#777" stroke-width="0.6" />
<line x1="672.00" y1="307.50" x2="674.00" y2="305.50" stroke="#777" stroke-width="0.6" />
<line x1="735.00" y1="307.50" x2="737.00" y2="305.50" stroke="#777" stroke-width="0.6" />
<line x1="746.00" y1="307.50" x2="748.00" y2="305.50" stroke="#777" stroke-width="0.6" />
<line x1="756.00" y1="307.50" x2="758.00" y2="305.50" stroke="#777" stroke-width="0.6" />
<line x1="555.00" y1="307.50" x2="557.00" y2="305.50" stroke="#777" stroke-width="0.6" />
<line x1="601.00" y1="307.50" x2="603.00" y2="305.50" stroke="#777" stroke-width="0.6" />
<line x1="615.00" y1="307.50" x2="617.00" y2="305.50" stroke="#777" stroke-width="0.6" />
<line x1="644.00" y1="307.50" x2="646.00" y2="305.50" stroke="#777" stroke-width="0.6" />
<line x1="666.00" y1="307.50" x2="668.00" y2="305.50" stroke="#777" stroke-width="0.6" />
<line x1="555.00" y1="339.00" x2="557.00" y2="337.00" stroke="#777" stroke-width="0.6" />
<line x1="631.00" y1="339.00" x2="633.00" y2="337.00" stroke="#777" stroke-width="0.6" />
<line x1="555.00" y1="357.00" x2="557.00" y2="355.00" stroke="#777" stroke-width="0.6" />
<line x1="631.00" y1="357.00" x2="633.00" y2="355.00" stroke="#777" stroke-width="0.6" />
<line x1="647.00" y1="339.00" x2="649.00" y2="337.00" stroke="#777" stroke-width="0.6" />
<line x1="660.00" y1="339.00" x2="662.00" y2="337.00" stroke="#777" stroke-width="0.6" />
<line x1="664.00" y1="357.00" x2="666.00" y2="355.00" stroke="#777" stroke-width="0.6" />
<line x1="710.00" y1="357.00" x2="712.00" y2="355.00" stroke="#777" stroke-width="0.6" />
<line x1="714.00" y1="347.00" x2="716.00" y2="345.00" stroke="#777" stroke-width="0.6" />
<line x1="756.00" y1="347.00" x2="758.00" y2="345.00" stroke="#777" stroke-width="0.6" />
<line x1="666.00" y1="387.50" x2="668.00" y2="385.50" stroke="#777" stroke-width="0.6" />
<line x1="756.00" y1="387.50" x2="758.00" y2="385.50" stroke="#777" stroke-width="0.6" />
<line x1="555.00" y1="387.50" x2="557.00" y2="385.50" stroke="#777" stroke-width="0.6" />
<line x1="597.00" y1="387.50" x2="599.00" y2="385.50" stroke="#777" stroke-width="0.6" />
<line x1="619.00" y1="387.50" x2="621.00" y2="385.50" stroke="#777" stroke-width="0.6" />
<line x1="661.00" y1="387.50" x2="663.00" y2="385.50" stroke="#777" stroke-width="0.6" />
<line x1="555.00" y1="429.00" x2="557.00" y2="427.00" stroke="#777" stroke-width="0.6" />
<line x1="584.00" y1="429.00" x2="586.00" y2="427.00" stroke="#777" stroke-width="0.6" />
<line x1="589.00" y1="429.00" x2="591.00" y2="427.00" stroke="#777" stroke-width="0.6" />
<line x1="616.00" y1="429.00" x2="618.00" y2="427.00" stroke="#777" stroke-width="0.6" />
<line x1="626.00" y1="429.00" x2="628.00" y2="427.00" stroke="#777" stroke-width="0.6" />
<line x1="657.00" y1="429.00" x2="659.00" y2="427.00" stroke="#777" stroke-width="0.6" />
<line x1="672.00" y1="266.00" x2="674.00" y2="264.00" stroke="#777" stroke-width="0.6" />
<line x1="672.00" y1="323.00" x2="674.00" y2="321.00" stroke="#777" stroke-width="0.6" />
<line x1="672.00" y1="361.00" x2="674.00" y2="359.00" stroke="#777" stroke-width="0.6" />
<line x1="672.00" y1="397.00" x2="674.00" y2="395.00" stroke="#777" stroke-width="0.6" />
<line x1="672.00" y1="435.00" x2="674.00" y2="433.00" stroke="#777" stroke-width="0.6" />
<line x1="735.00" y1="249.00" x2="737.00" y2="247.00" stroke="#777" stroke-width="0.6" />
<line x1="735.00" y1="319.00" x2="737.00" y2="317.00" stroke="#777" stroke-width="0.6" />
<line x1="735.00" y1="365.00" x2="737.00" y2="363.00" stroke="#777" stroke-width="0.6" />
<line x1="735.00" y1="435.00" x2="737.00" y2="433.00" stroke="#777" stroke-width="0.6" />
<line x1="746.00" y1="249.00" x2="748.00" y2="247.00" stroke="#777" stroke-width="0.6" />
<line x1="746.00" y1="319.00" x2="748.00" y2="317.00" stroke="#777" stroke-width="0.6" />
<line x1="746.00" y1="365.00" x2="748.00" y2="363.00" stroke="#777" stroke-width="0.6" />
<line x1="746.00" y1="435.00" x2="748.00" y2="433.00" stroke="#777" stroke-width="0.6" />
<line x1="796.00" y1="247.00" x2="798.00" y2="245.00" stroke="#777" stroke-width="0.6" />
<line x1="796.00" y1="259.00" x2="798.00" y2="257.00" stroke="#777" stroke-width="0.6" />
<line x1="796.00" y1="307.50" x2="798.00" y2="305.50" stroke="#777" stroke-width="0.6" />
<line x1="796.00" y1="339.00" x2="798.00" y2="337.00" stroke="#777" stroke-width="0.6" />
<line x1="796.00" y1="387.50" x2="798.00" y2="385.50" stroke="#777" stroke-width="0.6" />
<line x1="796.00" y1="429.00" x2="798.00" y2="427.00" stroke="#777" stroke-width="0.6" />
<line x1="796.00" y1="438.00" x2="798.00" y2="436.00" stroke="#777" stroke-width="0.6" />
<line x1="869.00" y1="246.00" x2="871.00" y2="244.00" stroke="#777" stroke-width="0.6" />
<line x1="869.00" y1="438.00" x2="871.00" y2="436.00" stroke="#777" stroke-width="0.6" />
<rect x="68.20" y="184.50" width="115.70" height="34.20" fill="none" stroke="#707070" stroke-width="0.8" />
<line x1="68.20" y1="191.30" x2="183.90" y2="191.30" stroke="#707070" stroke-width="0.7" />
<rect x="68.20" y="223.00" width="115.70" height="22.90" fill="none" stroke="#707070" stroke-width="0.8" rx="0.8"/>
<rect x="68.20" y="251.20" width="115.70" height="23.10" fill="none" stroke="#707070" stroke-width="0.8" rx="0.8"/>
<text x="104.70" y="190.00" font-size="4.55" text-anchor="middle" fill="#454545" stroke="#454545" stroke-width="0.109" transform="rotate(0.06 104.70 190.00)" >LEGEND</text>
<text x="72.60" y="198.40" font-size="4.55" text-anchor="start" fill="#454545" stroke="#454545" stroke-width="0.109" transform="rotate(0.06 72.60 198.40)" >CC</text>
<text x="85.70" y="198.40" font-size="4.55" text-anchor="start" fill="#454545" stroke="#454545" stroke-width="0.109" transform="rotate(0.06 85.70 198.40)" xml:space="preserve">= CONCRETE COLUMN</text>
<text x="72.60" y="203.93" font-size="4.55" text-anchor="start" fill="#454545" stroke="#454545" stroke-width="0.109" transform="rotate(0.06 72.60 203.93)" >SC</text>
<text x="85.70" y="203.93" font-size="4.55" text-anchor="start" fill="#454545" stroke="#454545" stroke-width="0.109" transform="rotate(0.06 85.70 203.93)" xml:space="preserve">= STEEL COLUMN</text>
<text x="72.60" y="209.46" font-size="4.55" text-anchor="start" fill="#454545" stroke="#454545" stroke-width="0.109" transform="rotate(0.06 72.60 209.46)" >EP</text>
<text x="85.70" y="209.46" font-size="4.55" text-anchor="start" fill="#454545" stroke="#454545" stroke-width="0.109" transform="rotate(0.06 85.70 209.46)" xml:space="preserve">= ELECTRICAL PANEL</text>
<text x="72.60" y="214.99" font-size="4.55" text-anchor="start" fill="#454545" stroke="#454545" stroke-width="0.109" transform="rotate(0.06 72.60 214.99)" >EWH</text>
<text x="85.70" y="214.99" font-size="4.55" text-anchor="start" fill="#454545" stroke="#454545" stroke-width="0.109" transform="rotate(0.06 85.70 214.99)" xml:space="preserve">= ELECTRIC  WATER HEATER</text>
<text x="72.60" y="230.40" font-size="4.55" text-anchor="start" fill="#454545" stroke="#454545" stroke-width="0.109" transform="rotate(0.06 72.60 230.40)" >NOTE:</text>
<text x="72.60" y="235.95" font-size="4.55" text-anchor="start" fill="#454545" stroke="#454545" stroke-width="0.109" transform="rotate(0.06 72.60 235.95)" >ALL THRESHOLD HEIGHT @ MAX 1-1/2" TO</text>
<text x="72.60" y="241.50" font-size="4.55" text-anchor="start" fill="#454545" stroke="#454545" stroke-width="0.109" transform="rotate(0.06 72.60 241.50)" >FINISH FLOOR</text>
<text x="72.60" y="258.30" font-size="4.55" text-anchor="start" fill="#454545" stroke="#454545" stroke-width="0.109" transform="rotate(0.06 72.60 258.30)" >NOTE:</text>
<text x="72.60" y="263.85" font-size="4.55" text-anchor="start" fill="#454545" stroke="#454545" stroke-width="0.109" transform="rotate(0.06 72.60 263.85)" >ALL WINDOWS ARE IMPACT RESISTANT TO</text>
<text x="72.60" y="269.40" font-size="4.55" text-anchor="start" fill="#454545" stroke="#454545" stroke-width="0.109" transform="rotate(0.06 72.60 269.40)" >COMPLY WITH FBC 2017, SECTION R308.4.2</text>
<rect x="290.50" y="680.00" width="45.30" height="5.00" fill="none" stroke="#999" stroke-width="0.4" />
<rect x="290.50" y="682.50" width="11.32" height="2.50" fill="#111" stroke="none" stroke-width="0" />
<rect x="301.82" y="680.00" width="11.32" height="2.50" fill="#111" stroke="none" stroke-width="0" />
<rect x="313.14" y="682.50" width="11.32" height="2.50" fill="#111" stroke="none" stroke-width="0" />
<rect x="324.46" y="680.00" width="11.32" height="2.50" fill="#111" stroke="none" stroke-width="0" />
<text x="291.00" y="678.70" font-size="2.8" text-anchor="middle" fill="#555" stroke="#555" stroke-width="0.067" transform="rotate(0.06 291.00 678.70)" >0</text>
<text x="313.30" y="678.70" font-size="2.8" text-anchor="middle" fill="#555" stroke="#555" stroke-width="0.067" transform="rotate(0.06 313.30 678.70)" >4'</text>
<text x="335.50" y="678.70" font-size="2.8" text-anchor="middle" fill="#555" stroke="#555" stroke-width="0.067" transform="rotate(0.06 335.50 678.70)" >8'</text>
<circle cx="358" cy="679.3" r="7.4" fill="#fff" stroke="#333" stroke-width="0.8"/>
<line x1="358.00" y1="671.50" x2="358.00" y2="679.30" stroke="#111" stroke-width="1.6" />
<text x="358.00" y="670.30" font-size="2.8" text-anchor="middle" fill="#444" stroke="#444" stroke-width="0.067" transform="rotate(0.06 358.00 670.30)" >N</text>
<text x="290.50" y="698.90" font-size="3.9" text-anchor="start" fill="#555" stroke="#555" stroke-width="0.094" transform="rotate(0.06 290.50 698.90)" >3/16" = 1'-0"</text>
<path d="M285.00,705.30 L285.00,15.00 L1005.10,15.00 L1005.10,705.30" fill="none" stroke="#808080" stroke-width="1.5" />
<line x1="284.25" y1="705.30" x2="1005.85" y2="705.30" stroke="#6c6c6c" stroke-width="1.25" />
<line x1="285.00" y1="690.20" x2="1005.00" y2="690.20" stroke="#888" stroke-width="1.3" />
<line x1="989.90" y1="690.20" x2="989.90" y2="705.30" stroke="#959595" stroke-width="1.2" />
<text x="984.50" y="700.90" font-size="7.85" text-anchor="end" fill="#444" transform="rotate(0.06 984.50 700.90)" >SECOND FLOOR - DIMENSION PLAN</text>
<text x="997.30" y="700.90" font-size="7.6" text-anchor="middle" fill="#444" transform="rotate(0.06 997.30 700.90)" >A1</text>
<line x1="1009.00" y1="105.00" x2="1065.00" y2="105.00" stroke="#8f8f8f" stroke-width="0.75" />
<line x1="1009.00" y1="157.50" x2="1065.00" y2="157.50" stroke="#8f8f8f" stroke-width="0.75" />
<line x1="1009.00" y1="315.00" x2="1065.00" y2="315.00" stroke="#8f8f8f" stroke-width="0.75" />
<line x1="1009.00" y1="367.50" x2="1065.00" y2="367.50" stroke="#8f8f8f" stroke-width="0.75" />
<line x1="1009.00" y1="525.00" x2="1065.00" y2="525.00" stroke="#8f8f8f" stroke-width="0.75" />
<line x1="1009.00" y1="645.60" x2="1065.00" y2="645.60" stroke="#8f8f8f" stroke-width="0.75" />
<text x="987.50" y="155.00" font-size="4.15" text-anchor="start" fill="#6e6e6e" stroke="#6e6e6e" stroke-width="0.100" transform="rotate(-89.94 987.50 155.00)" >To the best of the architect's or engineer's knowledge, the plans and</text>
<text x="992.35" y="155.00" font-size="4.15" text-anchor="start" fill="#6e6e6e" stroke="#6e6e6e" stroke-width="0.100" transform="rotate(-89.94 992.35 155.00)" >specifications comply with the applicable minimum building codes and</text>
<text x="997.20" y="155.00" font-size="4.15" text-anchor="start" fill="#6e6e6e" stroke="#6e6e6e" stroke-width="0.100" transform="rotate(-89.94 997.20 155.00)" >the applicable fire-safety standards as determined by the local authority</text>
<text x="1002.05" y="155.00" font-size="4.15" text-anchor="start" fill="#6e6e6e" stroke="#6e6e6e" stroke-width="0.100" transform="rotate(-89.94 1002.05 155.00)" >in accordance with this section and Chapter 633, Florida Statutes.</text>
<rect x="1016.30" y="16.30" width="46.70" height="86.20" fill="none" stroke="#5a5a5a" stroke-width="0.9" />
<line x1="1022.50" y1="17.00" x2="1022.50" y2="102.00" stroke="#c8c8c8" stroke-width="0.5" />
<line x1="1028.50" y1="17.00" x2="1028.50" y2="102.00" stroke="#c8c8c8" stroke-width="0.5" />
<line x1="1034.30" y1="17.00" x2="1034.30" y2="102.00" stroke="#c8c8c8" stroke-width="0.5" />
<line x1="1040.00" y1="17.00" x2="1040.00" y2="102.00" stroke="#c8c8c8" stroke-width="0.5" />
<line x1="1045.80" y1="17.00" x2="1045.80" y2="102.00" stroke="#c8c8c8" stroke-width="0.5" />
<line x1="1051.50" y1="17.00" x2="1051.50" y2="102.00" stroke="#c8c8c8" stroke-width="0.5" />
<line x1="1057.30" y1="17.00" x2="1057.30" y2="102.00" stroke="#c8c8c8" stroke-width="0.5" />
<line x1="1016.50" y1="35.00" x2="1063.00" y2="35.00" stroke="#c8c8c8" stroke-width="0.5" />
<line x1="1016.50" y1="96.00" x2="1063.00" y2="96.00" stroke="#c8c8c8" stroke-width="0.5" />
<text x="1026.00" y="33.00" font-size="3.0" text-anchor="start" fill="#555" stroke="#555" stroke-width="0.072" transform="rotate(-89.94 1026.00 33.00)" >12.18.19</text>
<text x="1032.20" y="33.00" font-size="3.0" text-anchor="start" fill="#555" stroke="#555" stroke-width="0.072" transform="rotate(-89.94 1032.20 33.00)" >12.18.19</text>
<text x="1026.00" y="95.00" font-size="3.0" text-anchor="start" fill="#555" stroke="#555" stroke-width="0.072" transform="rotate(-89.94 1026.00 95.00)" >V.E. CHANGES</text>
<text x="1032.20" y="95.00" font-size="3.0" text-anchor="start" fill="#555" stroke="#555" stroke-width="0.072" transform="rotate(-89.94 1032.20 95.00)" >V.E. / G.C. / OWNER CHANGES</text>
<path d="M1022.20,100.00 L1027.40,97.20 L1027.40,102.60 Z" fill="#fff" stroke="#333" stroke-width="0.6" />
<path d="M1028.60,100.00 L1033.80,97.20 L1033.80,102.60 Z" fill="#fff" stroke="#333" stroke-width="0.6" />
<text x="1012.00" y="102.50" font-size="2.3" text-anchor="start" fill="#505050" stroke="#505050" stroke-width="0.055" transform="rotate(-89.94 1012.00 102.50)" >REVISIONS</text>
<text x="1012.00" y="156.50" font-size="2.3" text-anchor="start" fill="#505050" stroke="#505050" stroke-width="0.055" transform="rotate(-89.94 1012.00 156.50)" >SEAL</text>
<text x="1062.80" y="150.00" font-size="4.0" text-anchor="start" fill="#555" stroke="#555" stroke-width="0.096" transform="rotate(-89.94 1062.80 150.00)" font-family="Liberation Serif, serif">©  Garcia Stromberg</text>
<g transform="rotate(-90 1017.3 285)"><text x="1017.3" y="285" font-family="Liberation Serif, serif" fill="#333" letter-spacing="1.55"><tspan font-size="10.2">G</tspan><tspan font-size="7.4">ARCIA</tspan><tspan font-size="10.2">S</tspan><tspan font-size="7.4">TROMBERG</tspan></text></g>
<g transform="rotate(-90 1028 256)"><text x="1028" y="256" fill="#8a8a8a" letter-spacing="-0.5"><tspan font-size="9.5" font-family="Liberation Serif, serif">GS4</tspan><tspan font-size="8.6" letter-spacing="-0.2">studios</tspan></text></g>
<line x1="1032.50" y1="169.00" x2="1032.50" y2="230.00" stroke="#bbb" stroke-width="0.5" />
<line x1="1032.50" y1="255.00" x2="1032.50" y2="300.00" stroke="#bbb" stroke-width="0.5" />
<text x="1038.70" y="225.00" font-size="2.9" text-anchor="start" fill="#666" stroke="#666" stroke-width="0.070" transform="rotate(-89.94 1038.70 225.00)" letter-spacing="0.45">Peter T. Stromberg RA,NCARB</text>
<text x="1043.20" y="197.50" font-size="2.7" text-anchor="middle" fill="#555" stroke="#555" stroke-width="0.065" transform="rotate(-89.94 1043.20 197.50)" >President</text>
<text x="1047.00" y="197.50" font-size="2.7" text-anchor="middle" fill="#555" stroke="#555" stroke-width="0.065" transform="rotate(-89.94 1047.00 197.50)" >AR0015883</text>
<text x="1038.70" y="300.00" font-size="2.9" text-anchor="start" fill="#666" stroke="#666" stroke-width="0.070" transform="rotate(-89.94 1038.70 300.00)" letter-spacing="0.45">Jorge H. Garcia RA,NCARB</text>
<text x="1043.20" y="277.50" font-size="2.7" text-anchor="middle" fill="#555" stroke="#555" stroke-width="0.065" transform="rotate(-89.94 1043.20 277.50)" >Chief Executive Officer</text>
<text x="1047.00" y="277.50" font-size="2.7" text-anchor="middle" fill="#555" stroke="#555" stroke-width="0.065" transform="rotate(-89.94 1047.00 277.50)" >AR0007769</text>
<text x="1055.60" y="306.00" font-size="2.95" text-anchor="start" fill="#484848" stroke="#484848" stroke-width="0.071" transform="rotate(-89.94 1055.60 306.00)" xml:space="preserve" textLength="136" lengthAdjust="spacingAndGlyphs">2365 Vista Parkway,  Suite 16,  West Palm Beach, FL 33411    TEL 561.478.5855    FAX 561.478.5885</text>
<text x="1060.00" y="233.50" font-size="3.1" text-anchor="middle" fill="#484848" stroke="#484848" stroke-width="0.074" transform="rotate(-89.94 1060.00 233.50)" >Corporate License # AA26002042</text>
<text x="1012.00" y="365.00" font-size="2.3" text-anchor="start" fill="#505050" stroke="#505050" stroke-width="0.055" transform="rotate(-89.94 1012.00 365.00)" >CLIENT / OWNER</text>
<text x="1021.50" y="364.50" font-size="5.1" text-anchor="start" fill="#333" stroke="#333" stroke-width="0.122" transform="rotate(-89.94 1021.50 364.50)" font-weight="bold">MR &amp; MRS</text>
<text x="1027.90" y="364.50" font-size="5.1" text-anchor="start" fill="#333" stroke="#333" stroke-width="0.122" transform="rotate(-89.94 1027.90 364.50)" font-weight="bold">PARLANE</text>
<text x="1050.80" y="364.50" font-size="3.8" text-anchor="start" fill="#666" stroke="#666" stroke-width="0.091" transform="rotate(-89.94 1050.80 364.50)" >ADDRESS</text>
<text x="1055.60" y="364.50" font-size="3.8" text-anchor="start" fill="#666" stroke="#666" stroke-width="0.091" transform="rotate(-89.94 1055.60 364.50)" >1410 Viscaino Rd.</text>
<text x="1060.30" y="364.50" font-size="3.8" text-anchor="start" fill="#666" stroke="#666" stroke-width="0.091" transform="rotate(-89.94 1060.30 364.50)" >Pebble Beach, CA 93953</text>
<text x="1012.00" y="523.00" font-size="2.3" text-anchor="start" fill="#505050" stroke="#505050" stroke-width="0.055" transform="rotate(-89.94 1012.00 523.00)" >PROJECT INFORMATION</text>
<text x="1025.00" y="516.50" font-size="10.5" text-anchor="start" fill="#3c3c3c" transform="rotate(-89.94 1025.00 516.50)" >PARLANE RESIDENCE</text>
<text x="1038.00" y="516.50" font-size="10.5" text-anchor="start" fill="#3c3c3c" transform="rotate(-89.94 1038.00 516.50)" >LOT 13</text>
<text x="1047.00" y="516.50" font-size="5.85" text-anchor="start" fill="#5a5a5a" stroke="#5a5a5a" stroke-width="0.140" transform="rotate(-89.94 1047.00 516.50)" >2834 SE RIVERS END WAY</text>
<text x="1054.00" y="516.50" font-size="5.85" text-anchor="start" fill="#5a5a5a" stroke="#5a5a5a" stroke-width="0.140" transform="rotate(-89.94 1054.00 516.50)" >PALM CITY, FL 34990</text>
<text x="1012.00" y="643.50" font-size="2.3" text-anchor="start" fill="#505050" stroke="#505050" stroke-width="0.055" transform="rotate(-89.94 1012.00 643.50)" >DRAWING SHEET NAME</text>
<text x="1021.40" y="640.50" font-size="7.85" text-anchor="start" fill="#444" transform="rotate(-89.94 1021.40 640.50)" >SECOND FLOOR</text>
<text x="1031.00" y="640.50" font-size="7.95" text-anchor="start" fill="#444" transform="rotate(-89.94 1031.00 640.50)" >DIMENSION PLAN</text>
<text x="1012.80" y="704.00" font-size="2.3" text-anchor="start" fill="#505050" stroke="#505050" stroke-width="0.055" transform="rotate(-89.94 1012.80 704.00)" >PROJECT #</text>
<text x="1017.20" y="704.00" font-size="2.3" text-anchor="start" fill="#505050" stroke="#505050" stroke-width="0.055" transform="rotate(-89.94 1017.20 704.00)" >SHEET #</text>
<text x="1012.80" y="680.00" font-size="2.3" text-anchor="start" fill="#505050" stroke="#505050" stroke-width="0.055" transform="rotate(-89.94 1012.80 680.00)" >19019</text>
<text x="1035.00" y="697.50" font-size="10.2" text-anchor="start" fill="#333" transform="rotate(-89.94 1035.00 697.50)" textLength="44" lengthAdjust="spacingAndGlyphs">A 1.02-2A</text>
<text x="1051.60" y="703.00" font-size="4.5" text-anchor="start" fill="#222" stroke="#222" stroke-width="0.108" transform="rotate(-89.94 1051.60 703.00)" font-weight="bold" textLength="35" lengthAdjust="spacingAndGlyphs">CONSTRUCTION</text>
<text x="1056.80" y="704.00" font-size="4.5" text-anchor="start" fill="#222" stroke="#222" stroke-width="0.108" transform="rotate(-89.94 1056.80 704.00)" font-weight="bold" textLength="55.5" lengthAdjust="spacingAndGlyphs">DOCUMENTS/PERMIT SET</text>
<text x="1062.80" y="704.00" font-size="2.3" text-anchor="start" fill="#505050" stroke="#505050" stroke-width="0.055" transform="rotate(-89.94 1062.80 704.00)" >ISSUE DATE</text>
<text x="1062.80" y="683.00" font-size="2.3" text-anchor="start" fill="#505050" stroke="#505050" stroke-width="0.055" transform="rotate(-89.94 1062.80 683.00)" >09/13/19</text>
</g>
</svg>
</body></html>
